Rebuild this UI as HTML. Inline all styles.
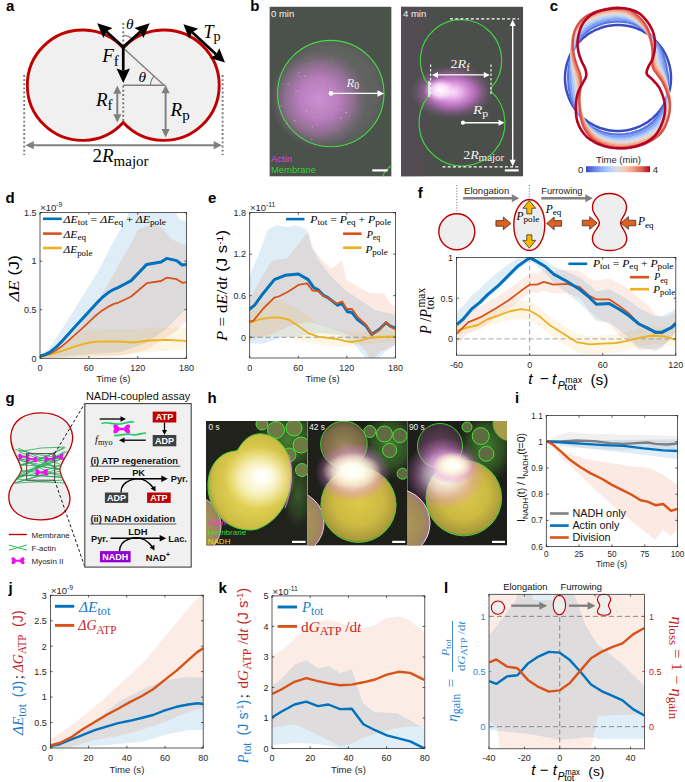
<!DOCTYPE html>
<html><head><meta charset="utf-8"><style>
html,body{margin:0;padding:0;background:#fff;}
svg{display:block;}
text{font-family:"Liberation Sans", sans-serif;}
</style></head><body>
<svg width="685" height="782" viewBox="0 0 685 782">
<rect width="685" height="782" fill="#fff"/>
<text x="6.00" y="10.70" font-size="15" fill="#000" text-anchor="start" font-weight="bold" font-family='"Liberation Sans", sans-serif' font-style="normal" >a</text>
<path d="M123.25,47.96 A55.2,55.2 0 1 0 123.25,122.44 A55.2,55.2 0 1 0 123.25,47.96 Z" fill="#f0f0f0" stroke="#c00000" stroke-width="2.9"/>
<line x1="123.25" y1="23.00" x2="123.25" y2="45.96" stroke="#777" stroke-width="1.9" stroke-dasharray="1.9,2.25"/>
<line x1="123.25" y1="85.70" x2="123.25" y2="122.44" stroke="#777" stroke-width="1.9" stroke-dasharray="1.9,2.25"/>
<line x1="222.60" y1="75.00" x2="222.60" y2="155.00" stroke="#777" stroke-width="1.9" stroke-dasharray="1.9,2.25"/>
<line x1="24.20" y1="75.00" x2="24.20" y2="155.00" stroke="#777" stroke-width="1.9" stroke-dasharray="1.9,2.25"/>
<line x1="123.25" y1="47.96" x2="164.00" y2="85.20" stroke="#808080" stroke-width="1.5" />
<line x1="123.25" y1="85.20" x2="165.50" y2="85.20" stroke="#808080" stroke-width="1.5" />
<path d="M150.5,85.2 A13.5,13.5 0 0 1 154.03,76.09" fill="none" stroke="#808080" stroke-width="1.2"/>
<path d="M123.25,35.36 A12.6,12.6 0 0 1 132.47,39.37" fill="none" stroke="#808080" stroke-width="1.2"/>
<line x1="117.30" y1="92.97" x2="117.30" y2="115.03" stroke="#808080" stroke-width="2.0" stroke-linecap="butt"/>
<polygon points="117.30,122.50 113.20,114.20 117.30,114.20 121.40,114.20" fill="#808080"/>
<polygon points="117.30,85.50 121.40,93.80 117.30,93.80 113.20,93.80" fill="#808080"/>
<line x1="165.60" y1="92.47" x2="165.60" y2="129.93" stroke="#808080" stroke-width="2.0" stroke-linecap="butt"/>
<polygon points="165.60,137.40 161.50,129.10 165.60,129.10 169.70,129.10" fill="#808080"/>
<polygon points="165.60,85.00 169.70,93.30 165.60,93.30 161.50,93.30" fill="#808080"/>
<line x1="32.97" y1="145.20" x2="214.53" y2="145.20" stroke="#808080" stroke-width="2.0" stroke-linecap="butt"/>
<polygon points="222.00,145.20 213.70,149.30 213.70,145.20 213.70,141.10" fill="#808080"/>
<polygon points="25.50,145.20 33.80,141.10 33.80,145.20 33.80,149.30" fill="#808080"/>
<line x1="123.25" y1="46.96" x2="106.32" y2="31.59" stroke="#000" stroke-width="2.7" stroke-linecap="butt"/>
<polygon points="97.20,23.30 112.47,28.05 106.32,31.59 103.39,38.05" fill="#000"/>
<line x1="123.25" y1="46.96" x2="140.51" y2="31.52" stroke="#000" stroke-width="2.7" stroke-linecap="butt"/>
<polygon points="149.70,23.30 143.39,38.00 140.51,31.52 134.39,27.94" fill="#000"/>
<line x1="123.25" y1="46.96" x2="123.25" y2="70.67" stroke="#000" stroke-width="2.7" stroke-linecap="butt"/>
<polygon points="123.25,83.00 116.50,68.50 123.25,70.67 130.00,68.50" fill="#000"/>
<line x1="192.14" y1="32.27" x2="216.26" y2="54.53" stroke="#000" stroke-width="2.7" stroke-linecap="butt"/>
<polygon points="225.00,62.60 210.13,58.06 216.26,54.53 219.29,48.14" fill="#000"/>
<polygon points="183.40,24.20 198.27,28.74 192.14,32.27 189.11,38.66" fill="#000"/>
<text x="102.20" y="61.80" fill="#000" text-anchor="start" ><tspan dy="0.00" font-size="19.00" font-style="italic" font-family='"Liberation Serif", serif'>F</tspan><tspan dy="3.80" font-size="15.01" font-style="normal" font-family='"Liberation Serif", serif'>f</tspan></text>
<text x="125.90" y="28.90" fill="#000" text-anchor="start" ><tspan dy="0.00" font-size="15.40" font-style="italic" font-family='"Liberation Serif", serif'>θ</tspan></text>
<text x="138.40" y="82.30" fill="#000" text-anchor="start" ><tspan dy="0.00" font-size="15.40" font-style="italic" font-family='"Liberation Serif", serif'>θ</tspan></text>
<text x="203.50" y="37.80" fill="#000" text-anchor="start" ><tspan dy="0.00" font-size="18.00" font-style="italic" font-family='"Liberation Serif", serif'>T</tspan><tspan dy="3.60" font-size="14.22" font-style="normal" font-family='"Liberation Serif", serif'>p</tspan></text>
<text x="96.00" y="106.10" fill="#000" text-anchor="start" ><tspan dy="0.00" font-size="19.00" font-style="italic" font-family='"Liberation Serif", serif'>R</tspan><tspan dy="3.80" font-size="15.01" font-style="normal" font-family='"Liberation Serif", serif'>f</tspan></text>
<text x="170.60" y="115.70" fill="#000" text-anchor="start" ><tspan dy="0.00" font-size="19.00" font-style="italic" font-family='"Liberation Serif", serif'>R</tspan><tspan dy="3.80" font-size="15.01" font-style="normal" font-family='"Liberation Serif", serif'>p</tspan></text>
<text x="92.50" y="161.80" fill="#000" text-anchor="start" ><tspan dy="0.00" font-size="19.00" font-style="normal" font-family='"Liberation Serif", serif'>2</tspan><tspan dy="0.00" font-size="19.00" font-style="italic" font-family='"Liberation Serif", serif'>R</tspan><tspan dy="3.80" font-size="15.01" font-style="normal" font-family='"Liberation Serif", serif'>major</tspan></text>
<text x="250.20" y="10.70" font-size="15" fill="#000" text-anchor="start" font-weight="bold" font-family='"Liberation Sans", sans-serif' font-style="normal" >b</text>
<defs>
<radialGradient id="mag1" cx="0.5" cy="0.5" r="0.5">
<stop offset="0" stop-color="#cc90d0" stop-opacity="1"/>
<stop offset="0.4" stop-color="#bf80c4" stop-opacity="0.95"/>
<stop offset="0.7" stop-color="#a474a8" stop-opacity="0.7"/>
<stop offset="1" stop-color="#7a6a7a" stop-opacity="0"/>
</radialGradient>
<radialGradient id="ring1" cx="0.5" cy="0.5" r="0.5">
<stop offset="0" stop-color="#6a666a"/>
<stop offset="0.85" stop-color="#5f625f"/>
<stop offset="1" stop-color="#575c57"/>
</radialGradient>
<radialGradient id="mag2" cx="0.5" cy="0.5" r="0.5">
<stop offset="0" stop-color="#fbe8fb" stop-opacity="1"/>
<stop offset="0.25" stop-color="#efb0f0" stop-opacity="0.95"/>
<stop offset="0.55" stop-color="#d878dc" stop-opacity="0.75"/>
<stop offset="0.8" stop-color="#a868ac" stop-opacity="0.35"/>
<stop offset="1" stop-color="#806080" stop-opacity="0"/>
</radialGradient>
<radialGradient id="wcore" cx="0.5" cy="0.5" r="0.5">
<stop offset="0" stop-color="#ffffff" stop-opacity="1"/>
<stop offset="0.5" stop-color="#fde8fd" stop-opacity="0.8"/>
<stop offset="1" stop-color="#f0b0f0" stop-opacity="0"/>
</radialGradient>
<linearGradient id="bleft" x1="0" x2="1" y1="0" y2="0">
<stop offset="0" stop-color="#5a4a5a" stop-opacity="0.8"/>
<stop offset="1" stop-color="#5a4a5a" stop-opacity="0"/>
</linearGradient>
</defs>
<clipPath id="c1"><rect x="269.4" y="6.6" width="122.20000000000005" height="170.0"/></clipPath>
<g clip-path="url(#c1)">
<rect x="269.4" y="6.6" width="122.2" height="170" fill="#4b514b"/>
<circle cx="330.8" cy="93.6" r="53.2" fill="url(#ring1)"/>
<ellipse cx="319" cy="99" rx="49" ry="49" fill="url(#mag1)"/>
<circle cx="314.4" cy="112.3" r="0.52" fill="#d8f0d8" opacity="0.5"/>
<circle cx="296.1" cy="91.1" r="0.77" fill="#d8f0d8" opacity="0.5"/>
<circle cx="324.8" cy="109.6" r="0.52" fill="#70d070" opacity="0.5"/>
<circle cx="346.1" cy="112.5" r="0.78" fill="#d8f0d8" opacity="0.5"/>
<circle cx="299.1" cy="72.4" r="0.67" fill="#d8f0d8" opacity="0.5"/>
<circle cx="287.4" cy="123.3" r="0.67" fill="#d8f0d8" opacity="0.5"/>
<circle cx="341.1" cy="118.2" r="0.67" fill="#d8f0d8" opacity="0.5"/>
<circle cx="288.2" cy="83.6" r="0.67" fill="#d8f0d8" opacity="0.5"/>
<circle cx="304.7" cy="76.4" r="0.67" fill="#d8f0d8" opacity="0.5"/>
<circle cx="299.3" cy="75.9" r="0.73" fill="#70d070" opacity="0.5"/>
<circle cx="280.7" cy="106.1" r="0.59" fill="#e8c8ea" opacity="0.5"/>
<circle cx="332.1" cy="61.6" r="0.52" fill="#a0e0a0" opacity="0.5"/>
<circle cx="312.4" cy="126.4" r="0.72" fill="#e8c8ea" opacity="0.5"/>
<circle cx="311.7" cy="139.3" r="0.65" fill="#d8f0d8" opacity="0.5"/>
<circle cx="335.1" cy="119.1" r="0.63" fill="#70d070" opacity="0.5"/>
<circle cx="333.9" cy="94.1" r="0.60" fill="#e8c8ea" opacity="0.5"/>
<circle cx="303.7" cy="122.1" r="0.52" fill="#70d070" opacity="0.5"/>
<circle cx="341.0" cy="109.7" r="0.52" fill="#d8f0d8" opacity="0.5"/>
<circle cx="311.4" cy="63.2" r="0.59" fill="#70d070" opacity="0.5"/>
<circle cx="294.9" cy="120.7" r="0.78" fill="#d8f0d8" opacity="0.5"/>
<circle cx="300.8" cy="124.1" r="0.52" fill="#70d070" opacity="0.5"/>
<circle cx="323.8" cy="81.3" r="0.62" fill="#a0e0a0" opacity="0.5"/>
<circle cx="348.9" cy="81.5" r="0.63" fill="#a0e0a0" opacity="0.5"/>
<circle cx="282.6" cy="84.4" r="0.76" fill="#70d070" opacity="0.5"/>
<circle cx="317.0" cy="124.9" r="0.70" fill="#e8c8ea" opacity="0.5"/>
<circle cx="306.6" cy="111.4" r="0.55" fill="#d8f0d8" opacity="0.5"/>
<circle cx="324.4" cy="118.1" r="0.75" fill="#70d070" opacity="0.5"/>
<circle cx="331.6" cy="118.3" r="0.63" fill="#a0e0a0" opacity="0.5"/>
<circle cx="330.8" cy="93.6" r="53.2" fill="none" stroke="#48dc48" stroke-width="1.1"/>
<circle cx="408" cy="188" r="28" fill="none" stroke="#3ed23e" stroke-width="1.1"/>
</g>
<circle cx="331.0" cy="93.4" r="2.3" fill="#fff"/>
<line x1="331.00" y1="93.40" x2="378.15" y2="93.40" stroke="#fff" stroke-width="1.4" stroke-linecap="butt"/>
<polygon points="384.00,93.40 377.50,96.65 377.50,93.40 377.50,90.15" fill="#fff"/>
<text x="346.60" y="86.60" fill="#f2f2f2" text-anchor="start" ><tspan dy="0.00" font-size="12.50" font-style="italic" font-family='"Liberation Serif", serif'>R</tspan><tspan dy="2.50" font-size="9.88" font-style="normal" font-family='"Liberation Serif", serif'>0</tspan></text>
<text x="271.00" y="17.10" font-size="9.5" fill="#f4f4f4" text-anchor="start" font-weight="normal" font-family='"Liberation Sans", sans-serif' font-style="normal" >0 min</text>
<text x="271.00" y="161.80" font-size="9.5" fill="#e040e8" text-anchor="start" font-weight="normal" font-family='"Liberation Sans", sans-serif' font-style="normal" textLength="21.00" lengthAdjust="spacingAndGlyphs" >Actin</text>
<text x="271.00" y="173.40" font-size="9.5" fill="#35d035" text-anchor="start" font-weight="normal" font-family='"Liberation Sans", sans-serif' font-style="normal" textLength="45.00" lengthAdjust="spacingAndGlyphs" >Membrane</text>
<rect x="372.2" y="169.3" width="15.5" height="2.2" fill="#fff"/>
<clipPath id="c2"><rect x="401" y="6.6" width="122.20000000000005" height="170.0"/></clipPath>
<g clip-path="url(#c2)">
<rect x="401" y="6.6" width="122.2" height="170" fill="#4b4e4b"/>
<rect x="401" y="6.6" width="34" height="170" fill="url(#bleft)"/>
<ellipse cx="452" cy="92" rx="42" ry="27" fill="url(#mag2)"/>
<ellipse cx="440" cy="90" rx="16" ry="12" fill="url(#wcore)"/>
<path d="M428.5,84.9 A40.7,40.7 0 1 1 491.2,87.7 L491.2,91.4 A43,43 0 1 1 428.5,96 Z" fill="none" stroke="#3ed23e" stroke-width="1.2"/>
<line x1="429" y1="81" x2="429" y2="97" stroke="#ffffff" stroke-width="1.6" opacity="0.9"/>
</g>
<line x1="450.00" y1="18.90" x2="519.00" y2="18.90" stroke="#fff" stroke-width="1.2" stroke-dasharray="3,2.2"/>
<line x1="442.50" y1="166.80" x2="519.00" y2="166.80" stroke="#fff" stroke-width="1.2" stroke-dasharray="3,2.2"/>
<line x1="512.70" y1="25.35" x2="512.70" y2="160.45" stroke="#fff" stroke-width="1.4" stroke-linecap="butt"/>
<polygon points="512.70,166.30 509.70,159.80 512.70,159.80 515.70,159.80" fill="#fff"/>
<polygon points="512.70,19.50 515.70,26.00 512.70,26.00 509.70,26.00" fill="#fff"/>
<line x1="430.60" y1="64.40" x2="430.60" y2="96.00" stroke="#fff" stroke-width="1.1" stroke-dasharray="2.5,2"/>
<line x1="491.00" y1="64.40" x2="491.00" y2="96.00" stroke="#fff" stroke-width="1.1" stroke-dasharray="2.5,2"/>
<line x1="437.40" y1="74.90" x2="484.40" y2="74.90" stroke="#fff" stroke-width="1.4" stroke-linecap="butt"/>
<polygon points="489.80,74.90 483.80,77.90 483.80,74.90 483.80,71.90" fill="#fff"/>
<polygon points="432.00,74.90 438.00,71.90 438.00,74.90 438.00,77.90" fill="#fff"/>
<circle cx="463" cy="122.7" r="2.1" fill="#fff"/>
<line x1="463.00" y1="122.70" x2="499.10" y2="122.70" stroke="#fff" stroke-width="1.4" stroke-linecap="butt"/>
<polygon points="504.50,122.70 498.50,125.70 498.50,122.70 498.50,119.70" fill="#fff"/>
<text x="450.50" y="68.30" fill="#f2f2f2" text-anchor="start" textLength="19.40" lengthAdjust="spacingAndGlyphs" ><tspan dy="0.00" font-size="13.50" font-style="normal" font-family='"Liberation Serif", serif'>2</tspan><tspan dy="0.00" font-size="13.50" font-style="italic" font-family='"Liberation Serif", serif'>R</tspan><tspan dy="2.70" font-size="10.67" font-style="normal" font-family='"Liberation Serif", serif'>f</tspan></text>
<text x="472.90" y="114.20" fill="#f2f2f2" text-anchor="start" textLength="15.30" lengthAdjust="spacingAndGlyphs" ><tspan dy="0.00" font-size="13.50" font-style="italic" font-family='"Liberation Serif", serif'>R</tspan><tspan dy="2.70" font-size="10.67" font-style="normal" font-family='"Liberation Serif", serif'>p</tspan></text>
<text x="463.20" y="158.60" fill="#f2f2f2" text-anchor="start" textLength="41.00" lengthAdjust="spacingAndGlyphs" ><tspan dy="0.00" font-size="13.50" font-style="normal" font-family='"Liberation Serif", serif'>2</tspan><tspan dy="0.00" font-size="13.50" font-style="italic" font-family='"Liberation Serif", serif'>R</tspan><tspan dy="2.70" font-size="10.67" font-style="normal" font-family='"Liberation Serif", serif'>major</tspan></text>
<text x="403.00" y="17.10" font-size="9.5" fill="#f4f4f4" text-anchor="start" font-weight="normal" font-family='"Liberation Sans", sans-serif' font-style="normal" >4 min</text>
<rect x="504.8" y="169.3" width="13.9" height="2.2" fill="#fff"/>
<text x="549.80" y="10.70" font-size="15" fill="#000" text-anchor="start" font-weight="bold" font-family='"Liberation Sans", sans-serif' font-style="normal" >c</text>
<path d="M671.00,78.00 C671.00,78.77 670.98,79.54 670.95,80.31 C670.92,81.08 670.87,81.85 670.80,82.62 C670.73,83.39 670.65,84.15 670.55,84.92 C670.45,85.68 670.33,86.44 670.19,87.20 C670.06,87.96 669.91,88.72 669.74,89.47 C669.58,90.22 669.39,90.97 669.19,91.72 C668.99,92.46 668.78,93.20 668.55,93.94 C668.32,94.67 668.07,95.40 667.80,96.13 C667.54,96.85 667.26,97.57 666.97,98.28 C666.67,98.99 666.36,99.70 666.03,100.40 C665.71,101.10 665.37,101.79 665.01,102.47 C664.66,103.16 664.28,103.83 663.90,104.50 C663.51,105.17 663.11,105.83 662.70,106.48 C662.29,107.13 661.86,107.77 661.42,108.40 C660.97,109.03 660.52,109.65 660.05,110.26 C659.58,110.88 659.10,111.48 658.60,112.07 C658.11,112.66 657.60,113.24 657.08,113.81 C656.56,114.37 656.02,114.93 655.48,115.48 C654.93,116.02 654.37,116.56 653.81,117.08 C653.24,117.60 652.66,118.11 652.07,118.60 C651.48,119.10 650.88,119.58 650.26,120.05 C649.65,120.52 649.03,120.97 648.40,121.42 C647.77,121.86 647.13,122.29 646.48,122.70 C645.83,123.11 645.17,123.51 644.50,123.90 C643.83,124.28 643.16,124.66 642.47,125.01 C641.79,125.37 641.10,125.71 640.40,126.03 C639.70,126.36 638.99,126.67 638.28,126.97 C637.57,127.26 636.85,127.54 636.13,127.80 C635.40,128.07 634.67,128.32 633.94,128.55 C633.20,128.78 632.46,128.99 631.72,129.19 C630.97,129.39 630.22,129.58 629.47,129.74 C628.72,129.91 627.96,130.06 627.20,130.19 C626.44,130.33 625.68,130.45 624.92,130.55 C624.15,130.65 623.39,130.73 622.62,130.80 C621.85,130.87 621.08,130.92 620.31,130.95 C619.54,130.98 618.77,131.00 618.00,131.00 C617.23,131.00 616.46,130.98 615.69,130.95 C614.92,130.92 614.15,130.87 613.38,130.80 C612.61,130.73 611.85,130.65 611.08,130.55 C610.32,130.45 609.56,130.33 608.80,130.19 C608.04,130.06 607.28,129.91 606.53,129.74 C605.78,129.58 605.03,129.39 604.28,129.19 C603.54,128.99 602.80,128.78 602.06,128.55 C601.33,128.32 600.60,128.07 599.87,127.80 C599.15,127.54 598.43,127.26 597.72,126.97 C597.01,126.67 596.30,126.36 595.60,126.03 C594.90,125.71 594.21,125.37 593.53,125.01 C592.84,124.66 592.17,124.28 591.50,123.90 C590.83,123.51 590.17,123.11 589.52,122.70 C588.87,122.29 588.23,121.86 587.60,121.42 C586.97,120.97 586.35,120.52 585.74,120.05 C585.12,119.58 584.52,119.10 583.93,118.60 C583.34,118.11 582.76,117.60 582.19,117.08 C581.63,116.56 581.07,116.02 580.52,115.48 C579.98,114.93 579.44,114.37 578.92,113.81 C578.40,113.24 577.89,112.66 577.40,112.07 C576.90,111.48 576.42,110.88 575.95,110.26 C575.48,109.65 575.03,109.03 574.58,108.40 C574.14,107.77 573.71,107.13 573.30,106.48 C572.89,105.83 572.49,105.17 572.10,104.50 C571.72,103.83 571.34,103.16 570.99,102.47 C570.63,101.79 570.29,101.10 569.97,100.40 C569.64,99.70 569.33,98.99 569.03,98.28 C568.74,97.57 568.46,96.85 568.20,96.13 C567.93,95.40 567.68,94.67 567.45,93.94 C567.22,93.20 567.01,92.46 566.81,91.72 C566.61,90.97 566.42,90.22 566.26,89.47 C566.09,88.72 565.94,87.96 565.81,87.20 C565.67,86.44 565.55,85.68 565.45,84.92 C565.35,84.15 565.27,83.39 565.20,82.62 C565.13,81.85 565.08,81.08 565.05,80.31 C565.02,79.54 565.00,78.77 565.00,78.00 C565.00,77.23 565.02,76.46 565.05,75.69 C565.08,74.92 565.13,74.15 565.20,73.38 C565.27,72.61 565.35,71.85 565.45,71.08 C565.55,70.32 565.67,69.56 565.81,68.80 C565.94,68.04 566.09,67.28 566.26,66.53 C566.42,65.78 566.61,65.03 566.81,64.28 C567.01,63.54 567.22,62.80 567.45,62.06 C567.68,61.33 567.93,60.60 568.20,59.87 C568.46,59.15 568.74,58.43 569.03,57.72 C569.33,57.01 569.64,56.30 569.97,55.60 C570.29,54.90 570.63,54.21 570.99,53.53 C571.34,52.84 571.72,52.17 572.10,51.50 C572.49,50.83 572.89,50.17 573.30,49.52 C573.71,48.87 574.14,48.23 574.58,47.60 C575.03,46.97 575.48,46.35 575.95,45.74 C576.42,45.12 576.90,44.52 577.40,43.93 C577.89,43.34 578.40,42.76 578.92,42.19 C579.44,41.63 579.98,41.07 580.52,40.52 C581.07,39.98 581.63,39.44 582.19,38.92 C582.76,38.40 583.34,37.89 583.93,37.40 C584.52,36.90 585.12,36.42 585.74,35.95 C586.35,35.48 586.97,35.03 587.60,34.58 C588.23,34.14 588.87,33.71 589.52,33.30 C590.17,32.89 590.83,32.49 591.50,32.10 C592.17,31.72 592.84,31.34 593.53,30.99 C594.21,30.63 594.90,30.29 595.60,29.97 C596.30,29.64 597.01,29.33 597.72,29.03 C598.43,28.74 599.15,28.46 599.87,28.20 C600.60,27.93 601.33,27.68 602.06,27.45 C602.80,27.22 603.54,27.01 604.28,26.81 C605.03,26.61 605.78,26.42 606.53,26.26 C607.28,26.09 608.04,25.94 608.80,25.81 C609.56,25.67 610.32,25.55 611.08,25.45 C611.85,25.35 612.61,25.27 613.38,25.20 C614.15,25.13 614.92,25.08 615.69,25.05 C616.46,25.02 617.23,25.00 618.00,25.00 C618.77,25.00 619.54,25.02 620.31,25.05 C621.08,25.08 621.85,25.13 622.62,25.20 C623.39,25.27 624.15,25.35 624.92,25.45 C625.68,25.55 626.44,25.67 627.20,25.81 C627.96,25.94 628.72,26.09 629.47,26.26 C630.22,26.42 630.97,26.61 631.72,26.81 C632.46,27.01 633.20,27.22 633.94,27.45 C634.67,27.68 635.40,27.93 636.13,28.20 C636.85,28.46 637.57,28.74 638.28,29.03 C638.99,29.33 639.70,29.64 640.40,29.97 C641.10,30.29 641.79,30.63 642.47,30.99 C643.16,31.34 643.83,31.72 644.50,32.10 C645.17,32.49 645.83,32.89 646.48,33.30 C647.13,33.71 647.77,34.14 648.40,34.58 C649.03,35.03 649.65,35.48 650.26,35.95 C650.88,36.42 651.48,36.90 652.07,37.40 C652.66,37.89 653.24,38.40 653.81,38.92 C654.37,39.44 654.93,39.98 655.48,40.52 C656.02,41.07 656.56,41.63 657.08,42.19 C657.60,42.76 658.11,43.34 658.60,43.93 C659.10,44.52 659.58,45.12 660.05,45.74 C660.52,46.35 660.97,46.97 661.42,47.60 C661.86,48.23 662.29,48.87 662.70,49.52 C663.11,50.17 663.51,50.83 663.90,51.50 C664.28,52.17 664.66,52.84 665.01,53.53 C665.37,54.21 665.71,54.90 666.03,55.60 C666.36,56.30 666.67,57.01 666.97,57.72 C667.26,58.43 667.54,59.15 667.80,59.87 C668.07,60.60 668.32,61.33 668.55,62.06 C668.78,62.80 668.99,63.54 669.19,64.28 C669.39,65.03 669.58,65.78 669.74,66.53 C669.91,67.28 670.06,68.04 670.19,68.80 C670.33,69.56 670.45,70.32 670.55,71.08 C670.65,71.85 670.73,72.61 670.80,73.38 C670.87,74.15 670.92,74.92 670.95,75.69 C670.98,76.46 671.00,77.23 671.00,78.00Z" fill="none" stroke="#3b4cc0" stroke-width="2.5"/>
<path d="M667.95,77.59 C668.02,78.32 668.08,79.05 668.12,79.78 C668.17,80.51 668.20,81.24 668.22,81.98 C668.24,82.72 668.26,83.46 668.25,84.21 C668.25,84.95 668.24,85.70 668.22,86.44 C668.19,87.19 668.14,87.94 668.08,88.69 C668.02,89.44 667.93,90.19 667.83,90.94 C667.74,91.69 667.62,92.44 667.49,93.19 C667.37,93.95 667.23,94.70 667.07,95.45 C666.92,96.20 666.75,96.95 666.57,97.71 C666.39,98.46 666.19,99.21 665.98,99.96 C665.77,100.71 665.55,101.47 665.30,102.21 C665.06,102.96 664.80,103.71 664.51,104.44 C664.23,105.18 663.92,105.91 663.60,106.64 C663.28,107.36 662.93,108.09 662.57,108.80 C662.21,109.51 661.82,110.21 661.42,110.91 C661.02,111.60 660.60,112.29 660.16,112.96 C659.72,113.64 659.26,114.30 658.78,114.96 C658.31,115.61 657.81,116.26 657.31,116.90 C656.80,117.53 656.28,118.16 655.74,118.78 C655.20,119.39 654.65,120.00 654.08,120.59 C653.51,121.18 652.93,121.76 652.33,122.32 C651.72,122.88 651.10,123.43 650.47,123.96 C649.83,124.48 649.18,124.99 648.51,125.47 C647.83,125.96 647.14,126.42 646.44,126.86 C645.74,127.30 645.03,127.72 644.30,128.12 C643.58,128.52 642.84,128.90 642.10,129.27 C641.35,129.63 640.60,129.98 639.84,130.31 C639.07,130.63 638.30,130.95 637.53,131.24 C636.75,131.53 635.97,131.81 635.18,132.06 C634.39,132.32 633.59,132.55 632.79,132.77 C631.98,132.98 631.17,133.18 630.36,133.35 C629.55,133.53 628.73,133.69 627.92,133.82 C627.10,133.96 626.27,134.08 625.45,134.18 C624.63,134.28 623.80,134.37 622.97,134.43 C622.15,134.50 621.32,134.54 620.49,134.57 C619.66,134.60 618.83,134.61 618.00,134.61 C617.17,134.60 616.34,134.57 615.51,134.53 C614.69,134.48 613.86,134.42 613.04,134.33 C612.21,134.25 611.39,134.15 610.57,134.02 C609.75,133.89 608.94,133.75 608.13,133.58 C607.32,133.42 606.51,133.23 605.71,133.02 C604.91,132.82 604.11,132.59 603.33,132.35 C602.54,132.11 601.76,131.85 600.98,131.57 C600.21,131.29 599.44,130.99 598.68,130.67 C597.92,130.36 597.17,130.02 596.43,129.66 C595.69,129.30 594.96,128.93 594.25,128.53 C593.53,128.13 592.83,127.71 592.14,127.27 C591.45,126.83 590.77,126.37 590.11,125.89 C589.45,125.41 588.81,124.92 588.17,124.41 C587.54,123.90 586.93,123.37 586.32,122.83 C585.72,122.29 585.13,121.74 584.56,121.17 C583.99,120.60 583.44,120.01 582.90,119.41 C582.37,118.81 581.86,118.20 581.36,117.57 C580.87,116.95 580.39,116.31 579.93,115.66 C579.46,115.02 579.02,114.36 578.59,113.71 C578.15,113.05 577.74,112.38 577.33,111.72 C576.92,111.05 576.53,110.37 576.16,109.70 C575.78,109.02 575.42,108.34 575.07,107.65 C574.72,106.97 574.38,106.28 574.06,105.58 C573.73,104.89 573.43,104.19 573.13,103.49 C572.83,102.80 572.55,102.09 572.28,101.39 C572.02,100.68 571.76,99.97 571.52,99.26 C571.29,98.55 571.07,97.83 570.86,97.11 C570.66,96.40 570.47,95.67 570.30,94.95 C570.12,94.23 569.96,93.50 569.81,92.78 C569.66,92.06 569.52,91.34 569.39,90.61 C569.27,89.89 569.14,89.17 569.04,88.44 C568.93,87.72 568.85,86.99 568.77,86.27 C568.69,85.55 568.62,84.82 568.56,84.10 C568.50,83.37 568.46,82.65 568.41,81.93 C568.37,81.20 568.34,80.48 568.32,79.76 C568.29,79.04 568.28,78.31 568.27,77.59 C568.27,76.87 568.28,76.14 568.30,75.42 C568.31,74.70 568.34,73.97 568.38,73.25 C568.42,72.52 568.47,71.80 568.53,71.08 C568.59,70.35 568.67,69.63 568.75,68.90 C568.83,68.18 568.92,67.46 569.02,66.73 C569.11,66.00 569.22,65.28 569.34,64.55 C569.45,63.82 569.58,63.09 569.73,62.37 C569.87,61.64 570.04,60.92 570.21,60.19 C570.38,59.47 570.57,58.75 570.76,58.02 C570.96,57.30 571.17,56.58 571.39,55.85 C571.61,55.13 571.85,54.41 572.11,53.70 C572.36,52.98 572.63,52.27 572.92,51.56 C573.20,50.85 573.50,50.14 573.81,49.44 C574.12,48.73 574.44,48.03 574.79,47.33 C575.13,46.63 575.48,45.94 575.86,45.26 C576.24,44.57 576.64,43.90 577.06,43.24 C577.47,42.57 577.91,41.91 578.35,41.26 C578.80,40.60 579.25,39.96 579.73,39.32 C580.20,38.68 580.69,38.05 581.20,37.43 C581.71,36.81 582.23,36.20 582.77,35.61 C583.32,35.02 583.88,34.44 584.46,33.88 C585.04,33.32 585.64,32.78 586.26,32.25 C586.87,31.73 587.50,31.22 588.15,30.73 C588.79,30.24 589.46,29.77 590.13,29.32 C590.81,28.87 591.50,28.43 592.20,28.02 C592.90,27.61 593.61,27.22 594.34,26.85 C595.06,26.48 595.80,26.13 596.55,25.80 C597.30,25.47 598.05,25.17 598.82,24.89 C599.58,24.60 600.36,24.34 601.13,24.09 C601.91,23.84 602.69,23.62 603.48,23.40 C604.27,23.19 605.06,23.00 605.86,22.82 C606.65,22.64 607.45,22.48 608.26,22.33 C609.06,22.18 609.87,22.05 610.67,21.94 C611.48,21.83 612.29,21.73 613.11,21.65 C613.92,21.57 614.73,21.51 615.55,21.47 C616.37,21.43 617.18,21.41 618.00,21.41 C618.82,21.41 619.63,21.43 620.45,21.47 C621.27,21.51 622.08,21.57 622.89,21.65 C623.71,21.73 624.52,21.84 625.32,21.96 C626.13,22.08 626.94,22.22 627.73,22.38 C628.53,22.55 629.33,22.73 630.12,22.94 C630.90,23.15 631.68,23.38 632.45,23.64 C633.23,23.90 633.99,24.19 634.74,24.49 C635.49,24.80 636.24,25.13 636.97,25.48 C637.70,25.83 638.42,26.20 639.13,26.58 C639.84,26.97 640.53,27.38 641.22,27.79 C641.91,28.21 642.58,28.64 643.25,29.09 C643.91,29.53 644.57,29.99 645.21,30.47 C645.85,30.94 646.48,31.42 647.09,31.93 C647.70,32.43 648.31,32.94 648.89,33.48 C649.47,34.01 650.04,34.56 650.59,35.12 C651.14,35.68 651.67,36.26 652.19,36.85 C652.70,37.43 653.20,38.04 653.69,38.64 C654.18,39.24 654.65,39.86 655.11,40.47 C655.58,41.09 656.03,41.72 656.46,42.35 C656.90,42.98 657.32,43.61 657.72,44.26 C658.13,44.90 658.53,45.55 658.91,46.20 C659.29,46.85 659.65,47.51 660.01,48.17 C660.36,48.84 660.70,49.50 661.03,50.18 C661.36,50.85 661.68,51.52 661.97,52.20 C662.27,52.88 662.55,53.57 662.81,54.26 C663.07,54.95 663.32,55.65 663.55,56.35 C663.78,57.05 664.00,57.75 664.22,58.45 C664.43,59.14 664.63,59.84 664.83,60.54 C665.03,61.24 665.22,61.94 665.40,62.64 C665.58,63.34 665.75,64.05 665.91,64.75 C666.06,65.46 666.21,66.16 666.34,66.87 C666.48,67.58 666.61,68.29 666.73,69.00 C666.85,69.71 666.96,70.42 667.07,71.13 C667.18,71.84 667.28,72.55 667.38,73.27 C667.48,73.98 667.58,74.70 667.68,75.42 C667.78,76.14 667.88,76.86 667.95,77.59Z" fill="none" stroke="#5a77e2" stroke-width="2.5"/>
<path d="M666.36,77.32 C666.49,78.03 666.60,78.73 666.71,79.45 C666.82,80.16 666.94,80.89 667.03,81.61 C667.13,82.34 667.23,83.07 667.30,83.81 C667.37,84.55 667.42,85.30 667.46,86.04 C667.50,86.79 667.51,87.54 667.51,88.30 C667.51,89.05 667.49,89.81 667.47,90.58 C667.44,91.34 667.41,92.11 667.36,92.89 C667.31,93.66 667.25,94.44 667.17,95.22 C667.10,96.00 667.01,96.79 666.91,97.58 C666.81,98.37 666.70,99.17 666.56,99.97 C666.42,100.76 666.26,101.56 666.08,102.35 C665.89,103.14 665.68,103.93 665.45,104.72 C665.22,105.50 664.96,106.29 664.68,107.06 C664.41,107.84 664.10,108.61 663.78,109.37 C663.45,110.14 663.10,110.89 662.72,111.64 C662.35,112.39 661.95,113.13 661.54,113.86 C661.13,114.59 660.69,115.31 660.24,116.03 C659.79,116.75 659.32,117.46 658.83,118.16 C658.34,118.85 657.84,119.55 657.31,120.22 C656.78,120.90 656.24,121.57 655.67,122.21 C655.10,122.86 654.51,123.49 653.89,124.10 C653.28,124.70 652.64,125.29 651.97,125.84 C651.31,126.40 650.62,126.93 649.92,127.43 C649.22,127.94 648.50,128.42 647.77,128.89 C647.04,129.35 646.29,129.79 645.53,130.21 C644.78,130.63 644.00,131.04 643.23,131.42 C642.45,131.81 641.66,132.17 640.86,132.52 C640.07,132.87 639.26,133.20 638.45,133.50 C637.63,133.81 636.81,134.09 635.98,134.35 C635.15,134.61 634.31,134.85 633.47,135.07 C632.63,135.29 631.78,135.48 630.93,135.66 C630.08,135.84 629.23,136.00 628.37,136.14 C627.51,136.28 626.65,136.40 625.79,136.50 C624.93,136.60 624.06,136.68 623.20,136.75 C622.33,136.81 621.47,136.86 620.60,136.88 C619.73,136.91 618.87,136.91 618.00,136.90 C617.13,136.88 616.27,136.85 615.40,136.79 C614.54,136.73 613.68,136.65 612.82,136.54 C611.96,136.44 611.10,136.31 610.25,136.16 C609.40,136.01 608.56,135.83 607.72,135.64 C606.88,135.45 606.04,135.23 605.21,135.00 C604.39,134.76 603.56,134.51 602.75,134.23 C601.94,133.96 601.13,133.66 600.34,133.34 C599.54,133.02 598.75,132.69 597.98,132.32 C597.21,131.95 596.45,131.57 595.70,131.15 C594.96,130.73 594.23,130.29 593.52,129.83 C592.81,129.36 592.11,128.87 591.43,128.36 C590.75,127.86 590.09,127.32 589.45,126.78 C588.80,126.23 588.18,125.67 587.57,125.09 C586.96,124.51 586.37,123.92 585.80,123.31 C585.23,122.70 584.68,122.08 584.15,121.43 C583.63,120.79 583.13,120.12 582.66,119.44 C582.18,118.77 581.72,118.08 581.28,117.39 C580.84,116.70 580.42,116.00 580.02,115.31 C579.61,114.61 579.22,113.91 578.84,113.21 C578.46,112.50 578.10,111.80 577.75,111.10 C577.40,110.39 577.07,109.69 576.75,108.98 C576.42,108.27 576.12,107.56 575.82,106.86 C575.53,106.15 575.24,105.44 574.98,104.73 C574.71,104.02 574.45,103.32 574.21,102.61 C573.96,101.90 573.73,101.19 573.52,100.48 C573.31,99.77 573.12,99.05 572.94,98.33 C572.77,97.62 572.61,96.90 572.46,96.19 C572.31,95.47 572.18,94.76 572.05,94.05 C571.92,93.34 571.80,92.63 571.68,91.93 C571.56,91.22 571.45,90.52 571.36,89.82 C571.26,89.12 571.18,88.42 571.11,87.72 C571.03,87.02 570.97,86.32 570.90,85.63 C570.84,84.93 570.78,84.24 570.73,83.55 C570.67,82.85 570.62,82.16 570.57,81.47 C570.52,80.78 570.48,80.09 570.44,79.40 C570.40,78.71 570.37,78.02 570.35,77.32 C570.32,76.63 570.31,75.94 570.30,75.24 C570.29,74.54 570.28,73.85 570.29,73.15 C570.29,72.45 570.31,71.75 570.32,71.05 C570.34,70.34 570.35,69.64 570.37,68.92 C570.39,68.21 570.41,67.50 570.45,66.78 C570.48,66.06 570.52,65.34 570.58,64.62 C570.64,63.89 570.71,63.17 570.79,62.44 C570.87,61.71 570.96,60.98 571.06,60.24 C571.17,59.50 571.27,58.76 571.40,58.02 C571.52,57.28 571.66,56.53 571.82,55.79 C571.98,55.04 572.15,54.30 572.34,53.55 C572.52,52.80 572.72,52.05 572.93,51.30 C573.14,50.55 573.36,49.79 573.61,49.04 C573.86,48.29 574.11,47.54 574.40,46.80 C574.69,46.05 575.01,45.32 575.35,44.59 C575.68,43.86 576.03,43.13 576.39,42.41 C576.76,41.68 577.14,40.96 577.54,40.24 C577.93,39.53 578.35,38.81 578.79,38.11 C579.23,37.41 579.68,36.71 580.17,36.03 C580.65,35.36 581.16,34.69 581.69,34.05 C582.23,33.41 582.79,32.80 583.37,32.19 C583.95,31.59 584.55,31.00 585.17,30.44 C585.79,29.88 586.43,29.33 587.09,28.81 C587.75,28.28 588.43,27.78 589.12,27.30 C589.81,26.82 590.53,26.37 591.25,25.94 C591.98,25.51 592.72,25.10 593.47,24.72 C594.23,24.34 595.00,24.00 595.77,23.66 C596.55,23.33 597.34,23.02 598.13,22.73 C598.92,22.44 599.72,22.17 600.53,21.91 C601.33,21.65 602.15,21.42 602.96,21.19 C603.78,20.97 604.60,20.76 605.42,20.57 C606.24,20.38 607.07,20.21 607.90,20.05 C608.73,19.89 609.57,19.75 610.40,19.63 C611.24,19.50 612.08,19.40 612.93,19.32 C613.77,19.24 614.61,19.18 615.46,19.14 C616.31,19.11 617.15,19.09 618.00,19.10 C618.85,19.11 619.69,19.14 620.54,19.19 C621.38,19.25 622.23,19.32 623.07,19.42 C623.90,19.52 624.74,19.64 625.57,19.79 C626.41,19.94 627.23,20.11 628.05,20.31 C628.87,20.52 629.68,20.75 630.48,21.01 C631.28,21.27 632.08,21.57 632.85,21.89 C633.63,22.21 634.40,22.57 635.15,22.94 C635.90,23.31 636.64,23.71 637.36,24.13 C638.09,24.54 638.80,24.98 639.50,25.42 C640.20,25.87 640.88,26.33 641.56,26.81 C642.23,27.28 642.89,27.77 643.53,28.27 C644.18,28.77 644.81,29.29 645.43,29.82 C646.04,30.35 646.64,30.90 647.22,31.46 C647.79,32.03 648.35,32.62 648.88,33.22 C649.42,33.81 649.93,34.44 650.43,35.06 C650.93,35.69 651.40,36.33 651.86,36.97 C652.33,37.61 652.78,38.25 653.21,38.89 C653.65,39.54 654.07,40.19 654.48,40.84 C654.89,41.49 655.28,42.15 655.66,42.81 C656.04,43.47 656.41,44.13 656.76,44.80 C657.11,45.46 657.45,46.13 657.78,46.80 C658.11,47.47 658.42,48.14 658.72,48.81 C659.02,49.48 659.32,50.15 659.59,50.83 C659.86,51.51 660.10,52.19 660.34,52.88 C660.57,53.57 660.78,54.26 660.98,54.95 C661.19,55.63 661.38,56.32 661.57,57.00 C661.77,57.69 661.95,58.36 662.14,59.04 C662.32,59.72 662.52,60.38 662.69,61.06 C662.87,61.73 663.03,62.40 663.19,63.07 C663.35,63.75 663.50,64.42 663.65,65.09 C663.80,65.76 663.94,66.44 664.08,67.11 C664.22,67.78 664.36,68.45 664.51,69.12 C664.65,69.79 664.79,70.47 664.95,71.14 C665.11,71.82 665.28,72.49 665.45,73.17 C665.62,73.85 665.80,74.54 665.95,75.23 C666.11,75.92 666.24,76.62 666.36,77.32Z" fill="none" stroke="#7c9ef6" stroke-width="2.5"/>
<path d="M665.27,77.09 C665.46,77.78 665.66,78.48 665.84,79.18 C666.02,79.89 666.20,80.60 666.36,81.32 C666.52,82.05 666.68,82.78 666.80,83.52 C666.93,84.26 667.03,85.00 667.12,85.75 C667.21,86.51 667.28,87.27 667.35,88.03 C667.42,88.80 667.47,89.58 667.52,90.36 C667.56,91.15 667.60,91.94 667.62,92.74 C667.65,93.54 667.66,94.35 667.66,95.17 C667.66,95.98 667.65,96.81 667.61,97.64 C667.58,98.47 667.52,99.31 667.43,100.14 C667.34,100.98 667.22,101.81 667.08,102.64 C666.94,103.48 666.77,104.31 666.57,105.14 C666.38,105.96 666.15,106.79 665.90,107.61 C665.65,108.43 665.37,109.24 665.07,110.05 C664.77,110.86 664.43,111.66 664.08,112.45 C663.73,113.25 663.36,114.04 662.96,114.82 C662.57,115.61 662.16,116.39 661.72,117.16 C661.29,117.93 660.83,118.69 660.35,119.45 C659.87,120.20 659.37,120.94 658.84,121.66 C658.31,122.39 657.76,123.10 657.17,123.78 C656.59,124.46 655.97,125.11 655.33,125.74 C654.68,126.36 654.01,126.96 653.32,127.53 C652.62,128.10 651.91,128.65 651.18,129.17 C650.45,129.69 649.69,130.19 648.93,130.67 C648.17,131.15 647.39,131.61 646.61,132.05 C645.82,132.49 645.02,132.91 644.21,133.31 C643.41,133.71 642.59,134.09 641.76,134.45 C640.93,134.81 640.09,135.14 639.24,135.45 C638.39,135.76 637.53,136.04 636.67,136.30 C635.81,136.57 634.93,136.81 634.06,137.03 C633.18,137.25 632.30,137.45 631.42,137.63 C630.54,137.81 629.65,137.97 628.76,138.11 C627.87,138.25 626.98,138.37 626.08,138.47 C625.19,138.57 624.29,138.66 623.39,138.72 C622.49,138.78 621.59,138.83 620.70,138.84 C619.80,138.86 618.90,138.86 618.00,138.83 C617.10,138.81 616.20,138.76 615.31,138.68 C614.42,138.60 613.53,138.50 612.64,138.37 C611.75,138.24 610.87,138.09 609.99,137.91 C609.12,137.73 608.24,137.54 607.38,137.32 C606.52,137.10 605.66,136.86 604.81,136.59 C603.96,136.33 603.12,136.04 602.29,135.73 C601.46,135.42 600.63,135.09 599.83,134.72 C599.02,134.36 598.23,133.97 597.45,133.55 C596.68,133.13 595.92,132.67 595.18,132.20 C594.44,131.72 593.71,131.21 593.01,130.68 C592.31,130.16 591.63,129.60 590.96,129.03 C590.30,128.46 589.66,127.87 589.03,127.26 C588.41,126.66 587.81,126.04 587.23,125.39 C586.65,124.75 586.09,124.10 585.56,123.42 C585.04,122.73 584.55,122.02 584.07,121.31 C583.60,120.60 583.15,119.87 582.72,119.14 C582.29,118.41 581.89,117.67 581.49,116.93 C581.10,116.20 580.73,115.46 580.37,114.73 C580.00,113.99 579.66,113.26 579.33,112.53 C578.99,111.80 578.68,111.07 578.38,110.34 C578.07,109.61 577.78,108.89 577.51,108.16 C577.23,107.44 576.97,106.72 576.72,106.00 C576.47,105.28 576.23,104.56 576.00,103.85 C575.78,103.13 575.56,102.42 575.37,101.71 C575.17,100.99 575.00,100.27 574.84,99.56 C574.69,98.84 574.55,98.13 574.42,97.41 C574.29,96.70 574.18,95.99 574.07,95.29 C573.95,94.59 573.84,93.89 573.74,93.20 C573.64,92.51 573.53,91.83 573.44,91.14 C573.35,90.46 573.28,89.78 573.20,89.10 C573.13,88.42 573.07,87.74 573.00,87.07 C572.94,86.40 572.87,85.73 572.81,85.06 C572.74,84.40 572.67,83.73 572.60,83.07 C572.53,82.41 572.46,81.75 572.40,81.08 C572.33,80.42 572.27,79.76 572.21,79.09 C572.15,78.43 572.10,77.76 572.04,77.09 C571.99,76.42 571.95,75.75 571.90,75.08 C571.86,74.41 571.82,73.73 571.78,73.05 C571.74,72.37 571.69,71.68 571.65,70.99 C571.60,70.30 571.55,69.60 571.51,68.90 C571.47,68.19 571.43,67.48 571.41,66.76 C571.39,66.05 571.38,65.33 571.38,64.60 C571.38,63.88 571.39,63.14 571.40,62.40 C571.42,61.66 571.44,60.91 571.47,60.16 C571.51,59.41 571.55,58.65 571.62,57.88 C571.69,57.12 571.78,56.36 571.87,55.58 C571.96,54.81 572.07,54.03 572.19,53.24 C572.31,52.46 572.43,51.67 572.59,50.87 C572.74,50.08 572.90,49.28 573.11,48.49 C573.31,47.70 573.55,46.93 573.80,46.14 C574.05,45.36 574.32,44.58 574.61,43.80 C574.90,43.02 575.20,42.23 575.52,41.45 C575.84,40.67 576.18,39.88 576.55,39.11 C576.92,38.34 577.30,37.57 577.73,36.82 C578.15,36.07 578.60,35.33 579.08,34.62 C579.56,33.90 580.08,33.22 580.62,32.54 C581.16,31.87 581.72,31.21 582.31,30.58 C582.89,29.94 583.51,29.33 584.14,28.74 C584.78,28.15 585.43,27.58 586.11,27.04 C586.79,26.50 587.49,25.98 588.21,25.49 C588.93,25.00 589.66,24.54 590.42,24.11 C591.17,23.68 591.95,23.28 592.73,22.90 C593.51,22.51 594.30,22.16 595.11,21.82 C595.91,21.49 596.72,21.17 597.54,20.87 C598.35,20.57 599.18,20.29 600.01,20.02 C600.83,19.76 601.67,19.51 602.51,19.27 C603.34,19.04 604.19,18.82 605.04,18.61 C605.88,18.41 606.73,18.22 607.59,18.05 C608.45,17.89 609.31,17.74 610.17,17.62 C611.03,17.49 611.90,17.39 612.77,17.31 C613.64,17.24 614.51,17.18 615.38,17.15 C616.25,17.13 617.13,17.12 618.00,17.14 C618.87,17.17 619.74,17.21 620.61,17.28 C621.48,17.36 622.35,17.45 623.21,17.58 C624.07,17.70 624.93,17.85 625.78,18.04 C626.62,18.22 627.47,18.44 628.30,18.70 C629.13,18.96 629.95,19.25 630.75,19.58 C631.56,19.90 632.35,20.27 633.12,20.65 C633.90,21.04 634.66,21.46 635.41,21.89 C636.15,22.32 636.88,22.78 637.60,23.24 C638.32,23.71 639.02,24.20 639.71,24.69 C640.39,25.19 641.07,25.70 641.72,26.22 C642.38,26.74 643.02,27.28 643.64,27.83 C644.27,28.39 644.87,28.96 645.45,29.55 C646.03,30.14 646.59,30.76 647.12,31.38 C647.65,32.01 648.16,32.67 648.65,33.32 C649.14,33.98 649.60,34.66 650.05,35.33 C650.50,36.00 650.93,36.67 651.35,37.34 C651.78,38.02 652.18,38.69 652.58,39.36 C652.97,40.03 653.34,40.71 653.70,41.39 C654.07,42.07 654.41,42.74 654.75,43.42 C655.08,44.10 655.40,44.77 655.71,45.45 C656.02,46.13 656.31,46.80 656.60,47.48 C656.88,48.15 657.16,48.82 657.41,49.50 C657.66,50.18 657.88,50.86 658.10,51.55 C658.31,52.23 658.49,52.93 658.68,53.61 C658.86,54.29 659.03,54.97 659.20,55.64 C659.38,56.32 659.55,56.98 659.72,57.64 C659.90,58.30 660.08,58.94 660.26,59.59 C660.43,60.24 660.59,60.89 660.75,61.53 C660.91,62.18 661.07,62.82 661.22,63.46 C661.38,64.11 661.53,64.75 661.69,65.39 C661.86,66.02 662.02,66.66 662.19,67.30 C662.36,67.93 662.53,68.57 662.73,69.21 C662.93,69.84 663.15,70.48 663.38,71.12 C663.60,71.76 663.86,72.41 664.09,73.06 C664.31,73.72 664.51,74.38 664.71,75.05 C664.90,75.73 665.08,76.41 665.27,77.09Z" fill="none" stroke="#9ebdfc" stroke-width="2.5"/>
<path d="M664.47,76.88 C664.73,77.56 664.99,78.25 665.23,78.95 C665.47,79.65 665.71,80.36 665.92,81.08 C666.13,81.80 666.32,82.53 666.50,83.27 C666.68,84.01 666.83,84.76 666.98,85.52 C667.12,86.28 667.26,87.05 667.39,87.84 C667.53,88.62 667.65,89.41 667.76,90.22 C667.88,91.02 667.98,91.84 668.07,92.67 C668.17,93.50 668.25,94.35 668.31,95.20 C668.37,96.05 668.43,96.91 668.44,97.78 C668.44,98.64 668.42,99.51 668.37,100.37 C668.32,101.24 668.25,102.12 668.14,102.99 C668.03,103.85 667.89,104.73 667.72,105.59 C667.55,106.46 667.35,107.32 667.12,108.18 C666.90,109.04 666.63,109.89 666.35,110.74 C666.07,111.59 665.76,112.43 665.43,113.28 C665.10,114.12 664.74,114.96 664.37,115.79 C663.99,116.63 663.60,117.46 663.17,118.28 C662.75,119.10 662.30,119.91 661.82,120.71 C661.34,121.50 660.84,122.29 660.30,123.04 C659.75,123.80 659.18,124.53 658.57,125.23 C657.96,125.93 657.30,126.59 656.63,127.23 C655.96,127.87 655.26,128.48 654.54,129.06 C653.82,129.65 653.07,130.21 652.31,130.75 C651.56,131.28 650.78,131.80 649.99,132.29 C649.20,132.79 648.40,133.26 647.59,133.72 C646.77,134.18 645.95,134.62 645.11,135.03 C644.28,135.44 643.43,135.83 642.57,136.19 C641.71,136.55 640.83,136.89 639.95,137.20 C639.07,137.51 638.18,137.80 637.29,138.06 C636.40,138.33 635.49,138.57 634.59,138.80 C633.68,139.02 632.77,139.22 631.86,139.40 C630.95,139.58 630.03,139.75 629.11,139.89 C628.19,140.03 627.27,140.15 626.34,140.26 C625.42,140.36 624.49,140.44 623.57,140.50 C622.64,140.56 621.71,140.59 620.78,140.60 C619.85,140.61 618.93,140.60 618.00,140.56 C617.07,140.51 616.15,140.45 615.23,140.35 C614.31,140.25 613.39,140.12 612.48,139.97 C611.57,139.82 610.66,139.64 609.76,139.45 C608.86,139.25 607.97,139.03 607.09,138.78 C606.20,138.54 605.32,138.27 604.46,137.97 C603.59,137.68 602.73,137.36 601.89,137.01 C601.05,136.66 600.21,136.29 599.40,135.87 C598.59,135.46 597.79,135.01 597.02,134.53 C596.24,134.05 595.49,133.54 594.76,133.00 C594.02,132.46 593.31,131.89 592.62,131.31 C591.93,130.72 591.26,130.11 590.62,129.48 C589.97,128.86 589.35,128.21 588.75,127.55 C588.15,126.89 587.57,126.21 587.03,125.50 C586.49,124.79 585.98,124.05 585.49,123.31 C585.01,122.56 584.56,121.79 584.13,121.02 C583.70,120.25 583.30,119.47 582.91,118.70 C582.53,117.92 582.16,117.15 581.81,116.38 C581.46,115.61 581.12,114.85 580.80,114.09 C580.48,113.32 580.18,112.56 579.89,111.81 C579.60,111.06 579.32,110.31 579.06,109.56 C578.80,108.82 578.55,108.08 578.31,107.34 C578.07,106.60 577.85,105.87 577.64,105.15 C577.42,104.42 577.22,103.70 577.04,102.98 C576.86,102.26 576.69,101.54 576.55,100.82 C576.40,100.10 576.28,99.38 576.17,98.66 C576.05,97.95 575.96,97.23 575.87,96.53 C575.77,95.83 575.69,95.13 575.60,94.45 C575.50,93.76 575.40,93.09 575.32,92.42 C575.24,91.74 575.17,91.07 575.11,90.41 C575.04,89.74 574.99,89.08 574.92,88.43 C574.86,87.77 574.80,87.12 574.74,86.48 C574.67,85.83 574.59,85.19 574.51,84.55 C574.44,83.91 574.35,83.28 574.27,82.64 C574.18,82.01 574.10,81.37 574.02,80.73 C573.93,80.09 573.85,79.46 573.76,78.82 C573.68,78.17 573.59,77.53 573.51,76.88 C573.43,76.24 573.36,75.59 573.27,74.93 C573.19,74.28 573.10,73.62 573.00,72.95 C572.91,72.28 572.80,71.60 572.69,70.92 C572.59,70.24 572.48,69.54 572.39,68.84 C572.30,68.14 572.22,67.43 572.15,66.72 C572.07,66.00 572.01,65.28 571.95,64.55 C571.89,63.81 571.83,63.07 571.78,62.31 C571.73,61.56 571.69,60.79 571.67,60.02 C571.65,59.25 571.66,58.48 571.67,57.69 C571.68,56.91 571.70,56.11 571.73,55.31 C571.76,54.50 571.80,53.69 571.86,52.87 C571.93,52.05 572.00,51.21 572.11,50.39 C572.22,49.56 572.36,48.74 572.53,47.91 C572.69,47.09 572.89,46.27 573.10,45.45 C573.31,44.62 573.54,43.79 573.78,42.96 C574.03,42.12 574.29,41.28 574.58,40.45 C574.87,39.62 575.18,38.79 575.53,37.97 C575.88,37.15 576.25,36.34 576.67,35.56 C577.09,34.77 577.55,34.01 578.04,33.27 C578.52,32.53 579.04,31.81 579.59,31.11 C580.13,30.41 580.71,29.72 581.30,29.06 C581.90,28.40 582.53,27.77 583.18,27.16 C583.83,26.55 584.51,25.97 585.21,25.42 C585.91,24.86 586.63,24.34 587.38,23.85 C588.12,23.35 588.89,22.90 589.67,22.47 C590.45,22.03 591.25,21.63 592.06,21.25 C592.86,20.86 593.68,20.50 594.50,20.16 C595.33,19.81 596.16,19.49 597.00,19.18 C597.83,18.87 598.68,18.58 599.53,18.30 C600.38,18.02 601.23,17.76 602.09,17.51 C602.95,17.26 603.81,17.02 604.68,16.81 C605.55,16.60 606.43,16.40 607.31,16.23 C608.18,16.06 609.07,15.91 609.96,15.79 C610.84,15.67 611.74,15.58 612.63,15.51 C613.52,15.44 614.42,15.39 615.31,15.37 C616.21,15.36 617.11,15.36 618.00,15.40 C618.89,15.44 619.79,15.50 620.68,15.60 C621.56,15.69 622.45,15.81 623.33,15.96 C624.21,16.12 625.08,16.31 625.94,16.55 C626.80,16.78 627.66,17.06 628.49,17.38 C629.33,17.69 630.15,18.05 630.96,18.43 C631.76,18.82 632.55,19.25 633.33,19.69 C634.10,20.13 634.85,20.60 635.59,21.08 C636.33,21.57 637.06,22.07 637.77,22.58 C638.47,23.09 639.17,23.62 639.84,24.16 C640.51,24.70 641.17,25.25 641.81,25.82 C642.45,26.39 643.07,26.98 643.66,27.58 C644.26,28.19 644.83,28.82 645.37,29.48 C645.91,30.13 646.43,30.81 646.92,31.49 C647.41,32.18 647.87,32.89 648.31,33.59 C648.76,34.29 649.18,35.00 649.60,35.71 C650.01,36.41 650.41,37.10 650.79,37.80 C651.18,38.50 651.54,39.20 651.89,39.90 C652.24,40.59 652.58,41.29 652.90,41.99 C653.22,42.68 653.52,43.38 653.82,44.06 C654.11,44.75 654.39,45.44 654.66,46.12 C654.93,46.81 655.19,47.48 655.43,48.16 C655.67,48.84 655.89,49.53 656.09,50.21 C656.29,50.90 656.45,51.60 656.62,52.28 C656.78,52.97 656.93,53.65 657.08,54.32 C657.23,54.99 657.38,55.65 657.53,56.30 C657.69,56.95 657.86,57.59 658.03,58.22 C658.19,58.85 658.35,59.48 658.51,60.10 C658.67,60.73 658.82,61.35 658.98,61.97 C659.14,62.59 659.29,63.20 659.46,63.81 C659.62,64.43 659.79,65.03 659.97,65.64 C660.16,66.24 660.34,66.85 660.56,67.45 C660.78,68.05 661.02,68.65 661.28,69.25 C661.55,69.86 661.86,70.46 662.14,71.07 C662.42,71.69 662.70,72.31 662.96,72.95 C663.22,73.59 663.45,74.23 663.70,74.89 C663.95,75.54 664.22,76.21 664.47,76.88Z" fill="none" stroke="#bfd3f3" stroke-width="2.5"/>
<path d="M663.74,76.69 C664.05,77.36 664.37,78.03 664.66,78.73 C664.96,79.42 665.24,80.13 665.49,80.85 C665.75,81.56 665.98,82.29 666.20,83.04 C666.43,83.78 666.64,84.53 666.84,85.30 C667.05,86.07 667.25,86.85 667.44,87.65 C667.63,88.45 667.82,89.26 668.00,90.09 C668.17,90.91 668.34,91.76 668.50,92.61 C668.65,93.47 668.81,94.35 668.92,95.22 C669.03,96.10 669.12,96.99 669.17,97.89 C669.22,98.78 669.24,99.68 669.23,100.58 C669.22,101.48 669.17,102.39 669.10,103.29 C669.02,104.19 668.91,105.10 668.77,106.00 C668.62,106.90 668.45,107.80 668.24,108.70 C668.03,109.59 667.79,110.48 667.53,111.37 C667.27,112.26 666.98,113.15 666.67,114.04 C666.36,114.92 666.03,115.81 665.67,116.69 C665.31,117.57 664.92,118.44 664.51,119.31 C664.09,120.17 663.65,121.02 663.17,121.86 C662.68,122.69 662.17,123.51 661.62,124.29 C661.06,125.07 660.46,125.82 659.83,126.54 C659.20,127.26 658.52,127.94 657.83,128.59 C657.13,129.25 656.40,129.87 655.66,130.47 C654.92,131.08 654.15,131.65 653.37,132.20 C652.59,132.76 651.78,133.29 650.97,133.80 C650.16,134.31 649.34,134.81 648.50,135.28 C647.66,135.75 646.81,136.20 645.95,136.62 C645.08,137.04 644.20,137.43 643.31,137.80 C642.42,138.17 641.52,138.50 640.61,138.82 C639.71,139.14 638.79,139.43 637.87,139.70 C636.94,139.97 636.01,140.21 635.08,140.44 C634.15,140.66 633.21,140.87 632.27,141.05 C631.33,141.24 630.38,141.41 629.44,141.55 C628.49,141.69 627.54,141.82 626.59,141.92 C625.64,142.02 624.68,142.10 623.73,142.15 C622.77,142.20 621.82,142.24 620.86,142.24 C619.91,142.24 618.95,142.21 618.00,142.15 C617.05,142.10 616.10,142.00 615.15,141.89 C614.21,141.77 613.27,141.62 612.33,141.45 C611.40,141.29 610.47,141.09 609.55,140.87 C608.63,140.65 607.72,140.41 606.81,140.14 C605.91,139.87 605.01,139.58 604.13,139.25 C603.25,138.93 602.38,138.58 601.52,138.19 C600.67,137.80 599.83,137.38 599.01,136.92 C598.19,136.46 597.40,135.95 596.62,135.42 C595.85,134.89 595.10,134.32 594.37,133.73 C593.65,133.14 592.94,132.52 592.26,131.88 C591.58,131.25 590.93,130.58 590.30,129.90 C589.67,129.23 589.06,128.54 588.48,127.82 C587.91,127.10 587.36,126.35 586.86,125.58 C586.35,124.81 585.88,124.00 585.43,123.20 C584.99,122.40 584.58,121.58 584.18,120.76 C583.79,119.95 583.43,119.12 583.08,118.31 C582.73,117.50 582.40,116.69 582.08,115.89 C581.77,115.09 581.47,114.29 581.19,113.50 C580.90,112.72 580.64,111.93 580.39,111.16 C580.13,110.38 579.90,109.61 579.67,108.85 C579.45,108.09 579.24,107.34 579.04,106.59 C578.84,105.84 578.65,105.10 578.47,104.37 C578.30,103.63 578.13,102.91 577.99,102.18 C577.85,101.45 577.74,100.72 577.64,99.99 C577.54,99.27 577.46,98.54 577.39,97.83 C577.31,97.12 577.25,96.41 577.19,95.72 C577.12,95.03 577.05,94.35 576.98,93.68 C576.91,93.01 576.84,92.35 576.78,91.69 C576.73,91.03 576.69,90.38 576.64,89.73 C576.59,89.08 576.55,88.44 576.50,87.81 C576.44,87.18 576.38,86.55 576.31,85.93 C576.24,85.31 576.15,84.70 576.07,84.08 C575.98,83.47 575.89,82.86 575.79,82.25 C575.70,81.63 575.60,81.02 575.50,80.41 C575.40,79.79 575.29,79.18 575.18,78.56 C575.08,77.94 574.97,77.32 574.86,76.69 C574.75,76.06 574.64,75.43 574.52,74.79 C574.39,74.15 574.25,73.51 574.11,72.85 C573.96,72.19 573.80,71.53 573.65,70.85 C573.50,70.17 573.34,69.49 573.21,68.79 C573.07,68.10 572.95,67.39 572.83,66.68 C572.71,65.96 572.58,65.23 572.46,64.49 C572.35,63.75 572.23,62.99 572.13,62.23 C572.03,61.46 571.94,60.68 571.87,59.90 C571.80,59.11 571.75,58.32 571.71,57.51 C571.66,56.71 571.61,55.88 571.59,55.05 C571.57,54.22 571.55,53.37 571.57,52.52 C571.58,51.67 571.61,50.80 571.68,49.95 C571.76,49.09 571.88,48.25 572.01,47.39 C572.14,46.53 572.29,45.67 572.46,44.80 C572.63,43.93 572.81,43.05 573.02,42.17 C573.23,41.30 573.46,40.41 573.72,39.54 C573.99,38.66 574.27,37.78 574.61,36.93 C574.94,36.08 575.31,35.23 575.73,34.42 C576.14,33.61 576.61,32.82 577.09,32.05 C577.58,31.28 578.10,30.52 578.65,29.79 C579.20,29.07 579.78,28.36 580.39,27.68 C581.00,27.00 581.64,26.34 582.31,25.72 C582.98,25.09 583.67,24.50 584.39,23.94 C585.11,23.37 585.86,22.84 586.63,22.35 C587.39,21.85 588.19,21.40 588.99,20.96 C589.79,20.52 590.61,20.11 591.44,19.72 C592.26,19.33 593.10,18.96 593.94,18.61 C594.78,18.25 595.64,17.92 596.49,17.60 C597.35,17.28 598.21,16.97 599.08,16.68 C599.95,16.39 600.82,16.12 601.70,15.86 C602.58,15.60 603.46,15.35 604.35,15.13 C605.24,14.91 606.14,14.71 607.04,14.54 C607.94,14.37 608.85,14.22 609.76,14.11 C610.67,13.99 611.59,13.90 612.50,13.83 C613.42,13.77 614.33,13.73 615.25,13.72 C616.17,13.72 617.09,13.74 618.00,13.79 C618.91,13.84 619.83,13.92 620.74,14.04 C621.64,14.15 622.55,14.30 623.44,14.49 C624.34,14.68 625.22,14.91 626.10,15.20 C626.97,15.48 627.83,15.81 628.67,16.17 C629.51,16.54 630.34,16.95 631.15,17.39 C631.95,17.82 632.74,18.31 633.51,18.80 C634.28,19.29 635.04,19.80 635.77,20.33 C636.51,20.85 637.22,21.40 637.92,21.95 C638.62,22.50 639.31,23.07 639.97,23.65 C640.63,24.24 641.28,24.83 641.89,25.45 C642.51,26.07 643.11,26.70 643.68,27.36 C644.24,28.03 644.78,28.71 645.29,29.42 C645.80,30.12 646.27,30.86 646.73,31.60 C647.18,32.33 647.60,33.09 648.01,33.82 C648.43,34.56 648.82,35.30 649.20,36.03 C649.58,36.76 649.94,37.49 650.29,38.21 C650.63,38.94 650.96,39.66 651.27,40.38 C651.58,41.10 651.88,41.82 652.16,42.53 C652.44,43.24 652.71,43.95 652.97,44.65 C653.23,45.35 653.47,46.04 653.70,46.73 C653.93,47.42 654.16,48.10 654.35,48.79 C654.55,49.49 654.71,50.19 654.86,50.88 C655.01,51.57 655.13,52.27 655.26,52.95 C655.39,53.63 655.50,54.31 655.63,54.97 C655.75,55.62 655.88,56.26 656.03,56.89 C656.17,57.53 656.33,58.13 656.48,58.75 C656.63,59.36 656.77,59.97 656.91,60.57 C657.06,61.18 657.20,61.77 657.36,62.37 C657.51,62.96 657.67,63.54 657.85,64.13 C658.02,64.71 658.20,65.29 658.41,65.86 C658.62,66.44 658.84,67.01 659.10,67.58 C659.37,68.15 659.68,68.71 660.00,69.28 C660.31,69.86 660.68,70.44 660.99,71.03 C661.31,71.62 661.60,72.23 661.90,72.85 C662.20,73.47 662.49,74.09 662.80,74.73 C663.10,75.37 663.43,76.02 663.74,76.69Z" fill="none" stroke="#dddddd" stroke-width="2.1"/>
<path d="M662.88,76.51 C663.24,77.16 663.61,77.83 663.95,78.51 C664.28,79.20 664.61,79.90 664.92,80.61 C665.22,81.32 665.49,82.05 665.76,82.79 C666.03,83.54 666.29,84.29 666.55,85.07 C666.80,85.84 667.06,86.63 667.30,87.44 C667.55,88.24 667.79,89.07 668.02,89.91 C668.25,90.75 668.48,91.61 668.69,92.49 C668.90,93.36 669.11,94.26 669.27,95.17 C669.43,96.07 669.56,96.99 669.66,97.91 C669.76,98.82 669.82,99.75 669.85,100.69 C669.88,101.62 669.87,102.55 669.83,103.49 C669.78,104.42 669.71,105.36 669.59,106.29 C669.48,107.23 669.33,108.16 669.15,109.09 C668.97,110.02 668.75,110.95 668.51,111.88 C668.28,112.80 668.01,113.73 667.72,114.66 C667.43,115.58 667.12,116.51 666.77,117.43 C666.43,118.35 666.06,119.27 665.65,120.17 C665.25,121.07 664.81,121.97 664.33,122.84 C663.85,123.71 663.34,124.56 662.78,125.37 C662.22,126.18 661.60,126.96 660.96,127.70 C660.32,128.45 659.62,129.15 658.91,129.83 C658.20,130.50 657.46,131.15 656.70,131.77 C655.93,132.39 655.15,132.98 654.35,133.56 C653.54,134.13 652.72,134.68 651.89,135.21 C651.06,135.74 650.21,136.25 649.35,136.73 C648.49,137.22 647.62,137.68 646.73,138.12 C645.84,138.55 644.93,138.95 644.02,139.32 C643.10,139.70 642.18,140.04 641.24,140.36 C640.31,140.68 639.36,140.98 638.41,141.25 C637.47,141.52 636.51,141.77 635.55,142.00 C634.59,142.23 633.63,142.44 632.66,142.63 C631.69,142.82 630.72,142.98 629.75,143.13 C628.77,143.28 627.80,143.40 626.82,143.50 C625.84,143.60 624.86,143.68 623.88,143.73 C622.90,143.78 621.92,143.80 620.94,143.80 C619.96,143.79 618.98,143.76 618.00,143.69 C617.02,143.62 616.05,143.51 615.08,143.38 C614.11,143.25 613.15,143.09 612.19,142.91 C611.23,142.72 610.28,142.51 609.34,142.27 C608.40,142.04 607.47,141.77 606.54,141.48 C605.62,141.19 604.71,140.88 603.81,140.52 C602.91,140.17 602.02,139.80 601.15,139.38 C600.29,138.95 599.44,138.50 598.61,138.00 C597.79,137.50 596.99,136.95 596.21,136.37 C595.43,135.80 594.68,135.19 593.96,134.55 C593.23,133.92 592.53,133.25 591.86,132.57 C591.18,131.88 590.54,131.18 589.92,130.45 C589.30,129.73 588.70,128.99 588.15,128.21 C587.59,127.44 587.07,126.64 586.59,125.82 C586.10,124.99 585.66,124.14 585.25,123.28 C584.83,122.43 584.45,121.55 584.10,120.69 C583.74,119.83 583.41,118.96 583.09,118.11 C582.77,117.26 582.48,116.41 582.20,115.58 C581.92,114.74 581.65,113.92 581.41,113.10 C581.16,112.28 580.94,111.47 580.72,110.67 C580.50,109.87 580.30,109.08 580.11,108.30 C579.93,107.51 579.75,106.74 579.59,105.98 C579.42,105.22 579.27,104.47 579.13,103.72 C579.00,102.97 578.87,102.24 578.77,101.50 C578.67,100.76 578.60,100.02 578.54,99.29 C578.48,98.56 578.44,97.83 578.40,97.12 C578.37,96.41 578.34,95.70 578.31,95.02 C578.27,94.33 578.22,93.66 578.18,93.00 C578.15,92.34 578.10,91.69 578.07,91.04 C578.04,90.39 578.03,89.75 578.00,89.12 C577.97,88.49 577.95,87.86 577.91,87.25 C577.87,86.63 577.82,86.03 577.75,85.43 C577.69,84.83 577.60,84.24 577.52,83.64 C577.43,83.05 577.34,82.46 577.24,81.87 C577.14,81.28 577.03,80.69 576.92,80.10 C576.80,79.51 576.69,78.91 576.56,78.32 C576.44,77.72 576.32,77.12 576.19,76.51 C576.05,75.90 575.92,75.29 575.77,74.66 C575.61,74.04 575.43,73.41 575.25,72.77 C575.07,72.12 574.86,71.47 574.67,70.80 C574.49,70.14 574.29,69.46 574.11,68.77 C573.94,68.08 573.78,67.38 573.61,66.67 C573.45,65.95 573.27,65.22 573.10,64.48 C572.94,63.73 572.77,62.97 572.62,62.20 C572.47,61.43 572.34,60.64 572.22,59.84 C572.10,59.05 572.01,58.24 571.91,57.42 C571.82,56.59 571.72,55.75 571.64,54.89 C571.57,54.04 571.50,53.16 571.47,52.29 C571.44,51.41 571.43,50.52 571.46,49.64 C571.50,48.76 571.59,47.89 571.68,47.00 C571.77,46.11 571.88,45.21 572.01,44.30 C572.14,43.40 572.28,42.48 572.46,41.56 C572.63,40.64 572.83,39.71 573.06,38.80 C573.30,37.89 573.56,36.96 573.87,36.07 C574.19,35.18 574.55,34.31 574.95,33.46 C575.36,32.61 575.82,31.80 576.30,31.00 C576.78,30.19 577.29,29.41 577.84,28.65 C578.39,27.89 578.97,27.15 579.59,26.45 C580.20,25.74 580.85,25.06 581.53,24.42 C582.20,23.77 582.91,23.16 583.65,22.58 C584.38,22.01 585.15,21.46 585.93,20.96 C586.71,20.45 587.53,19.99 588.35,19.54 C589.17,19.10 590.01,18.68 590.85,18.28 C591.69,17.88 592.55,17.51 593.41,17.14 C594.27,16.78 595.14,16.44 596.02,16.11 C596.89,15.78 597.77,15.47 598.66,15.17 C599.55,14.87 600.44,14.58 601.34,14.31 C602.23,14.05 603.14,13.79 604.05,13.56 C604.96,13.34 605.87,13.13 606.79,12.96 C607.72,12.79 608.65,12.64 609.58,12.52 C610.51,12.40 611.44,12.31 612.38,12.24 C613.31,12.18 614.25,12.15 615.19,12.15 C616.13,12.15 617.07,12.19 618.00,12.25 C618.93,12.31 619.87,12.40 620.79,12.53 C621.72,12.66 622.64,12.83 623.55,13.05 C624.46,13.26 625.37,13.53 626.25,13.85 C627.13,14.16 628.01,14.52 628.86,14.93 C629.71,15.33 630.54,15.79 631.35,16.27 C632.16,16.75 632.96,17.28 633.73,17.81 C634.50,18.34 635.25,18.90 635.99,19.46 C636.72,20.03 637.43,20.61 638.13,21.21 C638.82,21.81 639.50,22.41 640.15,23.04 C640.80,23.66 641.44,24.29 642.04,24.95 C642.64,25.61 643.23,26.29 643.77,27.00 C644.32,27.71 644.83,28.45 645.31,29.21 C645.79,29.96 646.23,30.75 646.66,31.52 C647.08,32.30 647.47,33.10 647.85,33.87 C648.23,34.65 648.59,35.42 648.94,36.18 C649.29,36.95 649.62,37.70 649.93,38.46 C650.24,39.21 650.53,39.96 650.80,40.71 C651.08,41.45 651.34,42.19 651.59,42.92 C651.83,43.65 652.07,44.37 652.29,45.09 C652.51,45.80 652.72,46.51 652.91,47.21 C653.10,47.92 653.29,48.61 653.44,49.31 C653.60,50.01 653.72,50.72 653.83,51.42 C653.94,52.12 654.01,52.82 654.10,53.51 C654.19,54.19 654.27,54.86 654.37,55.51 C654.47,56.16 654.58,56.79 654.70,57.40 C654.81,58.02 654.95,58.62 655.08,59.22 C655.21,59.81 655.33,60.41 655.46,60.99 C655.59,61.58 655.72,62.15 655.86,62.73 C656.01,63.30 656.17,63.86 656.34,64.42 C656.52,64.98 656.70,65.53 656.93,66.08 C657.15,66.63 657.39,67.17 657.68,67.71 C657.97,68.25 658.33,68.78 658.68,69.33 C659.03,69.88 659.43,70.43 659.78,71.01 C660.13,71.58 660.43,72.17 660.77,72.76 C661.11,73.36 661.45,73.97 661.80,74.59 C662.15,75.22 662.53,75.85 662.88,76.51Z" fill="none" stroke="#f0c9b7" stroke-width="2.1"/>
<path d="M661.75,76.33 C662.15,76.97 662.56,77.62 662.94,78.29 C663.32,78.96 663.70,79.65 664.04,80.36 C664.39,81.06 664.70,81.78 665.01,82.52 C665.33,83.26 665.63,84.01 665.93,84.78 C666.22,85.55 666.52,86.34 666.81,87.15 C667.10,87.96 667.39,88.79 667.67,89.64 C667.95,90.49 668.22,91.36 668.48,92.25 C668.74,93.14 669.01,94.06 669.23,94.98 C669.44,95.90 669.63,96.83 669.77,97.78 C669.92,98.72 670.03,99.67 670.10,100.63 C670.18,101.58 670.22,102.55 670.22,103.51 C670.22,104.48 670.18,105.45 670.10,106.41 C670.02,107.38 669.91,108.34 669.76,109.31 C669.61,110.27 669.42,111.23 669.21,112.19 C669.00,113.15 668.75,114.11 668.49,115.07 C668.22,116.03 667.93,117.00 667.60,117.95 C667.28,118.91 666.93,119.87 666.54,120.81 C666.15,121.75 665.74,122.69 665.27,123.60 C664.81,124.51 664.31,125.42 663.76,126.27 C663.21,127.12 662.60,127.94 661.96,128.72 C661.31,129.49 660.62,130.23 659.90,130.93 C659.18,131.64 658.42,132.31 657.65,132.96 C656.88,133.60 656.07,134.22 655.26,134.81 C654.44,135.40 653.60,135.97 652.75,136.52 C651.90,137.06 651.03,137.59 650.15,138.09 C649.27,138.59 648.38,139.08 647.47,139.52 C646.56,139.97 645.63,140.38 644.69,140.77 C643.75,141.16 642.80,141.51 641.84,141.84 C640.89,142.17 639.92,142.47 638.94,142.75 C637.97,143.03 636.99,143.29 636.00,143.52 C635.02,143.75 634.03,143.97 633.04,144.16 C632.04,144.35 631.05,144.52 630.05,144.66 C629.05,144.81 628.05,144.94 627.05,145.04 C626.04,145.14 625.04,145.22 624.03,145.26 C623.03,145.31 622.02,145.34 621.01,145.33 C620.01,145.32 619.00,145.28 618.00,145.21 C617.00,145.14 616.00,145.03 615.01,144.89 C614.01,144.75 613.03,144.57 612.05,144.38 C611.07,144.18 610.09,143.95 609.13,143.70 C608.17,143.45 607.21,143.17 606.27,142.87 C605.33,142.56 604.39,142.23 603.47,141.86 C602.56,141.49 601.65,141.09 600.76,140.65 C599.88,140.21 599.01,139.73 598.17,139.21 C597.34,138.69 596.52,138.12 595.73,137.51 C594.95,136.91 594.19,136.26 593.45,135.59 C592.72,134.92 592.02,134.21 591.35,133.49 C590.67,132.76 590.03,132.01 589.41,131.25 C588.80,130.48 588.20,129.70 587.65,128.89 C587.11,128.08 586.59,127.23 586.12,126.37 C585.65,125.50 585.23,124.59 584.84,123.69 C584.44,122.79 584.09,121.87 583.76,120.96 C583.43,120.05 583.13,119.13 582.84,118.23 C582.56,117.33 582.30,116.44 582.05,115.56 C581.81,114.68 581.58,113.82 581.37,112.96 C581.16,112.11 580.97,111.26 580.79,110.43 C580.61,109.60 580.45,108.78 580.30,107.97 C580.14,107.16 580.01,106.37 579.88,105.58 C579.75,104.80 579.64,104.03 579.54,103.26 C579.44,102.50 579.34,101.75 579.28,101.00 C579.21,100.25 579.18,99.50 579.16,98.76 C579.13,98.02 579.14,97.28 579.14,96.56 C579.14,95.84 579.16,95.13 579.17,94.44 C579.17,93.75 579.16,93.08 579.16,92.42 C579.15,91.76 579.14,91.12 579.14,90.48 C579.14,89.84 579.15,89.20 579.16,88.58 C579.16,87.96 579.17,87.34 579.15,86.74 C579.14,86.14 579.11,85.55 579.07,84.96 C579.02,84.38 578.95,83.80 578.88,83.23 C578.81,82.65 578.72,82.09 578.63,81.51 C578.53,80.94 578.43,80.38 578.32,79.80 C578.21,79.23 578.09,78.66 577.96,78.08 C577.84,77.50 577.71,76.92 577.56,76.33 C577.42,75.74 577.28,75.15 577.11,74.55 C576.94,73.94 576.75,73.33 576.55,72.70 C576.35,72.08 576.11,71.44 575.90,70.79 C575.68,70.14 575.45,69.47 575.23,68.79 C575.02,68.11 574.84,67.42 574.63,66.72 C574.43,66.01 574.22,65.29 574.01,64.55 C573.81,63.80 573.60,63.04 573.41,62.27 C573.22,61.50 573.04,60.71 572.87,59.91 C572.71,59.10 572.58,58.29 572.44,57.46 C572.30,56.62 572.16,55.77 572.04,54.90 C571.92,54.03 571.80,53.14 571.73,52.24 C571.65,51.35 571.58,50.43 571.57,49.52 C571.56,48.62 571.60,47.72 571.65,46.81 C571.71,45.89 571.78,44.97 571.87,44.03 C571.97,43.10 572.07,42.15 572.21,41.20 C572.35,40.25 572.51,39.28 572.71,38.33 C572.92,37.38 573.14,36.42 573.42,35.48 C573.71,34.55 574.04,33.63 574.41,32.75 C574.79,31.86 575.23,31.00 575.69,30.16 C576.16,29.32 576.66,28.50 577.20,27.71 C577.74,26.92 578.32,26.14 578.93,25.41 C579.53,24.67 580.18,23.96 580.86,23.29 C581.54,22.61 582.25,21.97 582.99,21.37 C583.72,20.77 584.50,20.20 585.29,19.67 C586.08,19.15 586.91,18.67 587.74,18.21 C588.58,17.75 589.43,17.32 590.29,16.91 C591.15,16.50 592.03,16.12 592.91,15.75 C593.78,15.38 594.67,15.03 595.57,14.70 C596.46,14.36 597.36,14.04 598.26,13.73 C599.17,13.43 600.08,13.13 600.99,12.86 C601.91,12.58 602.83,12.32 603.76,12.08 C604.68,11.85 605.62,11.64 606.56,11.45 C607.50,11.27 608.45,11.12 609.40,11.00 C610.35,10.87 611.30,10.78 612.26,10.71 C613.21,10.65 614.17,10.62 615.13,10.62 C616.09,10.62 617.05,10.65 618.00,10.72 C618.95,10.79 619.91,10.88 620.85,11.02 C621.80,11.16 622.74,11.33 623.67,11.55 C624.60,11.78 625.52,12.05 626.42,12.38 C627.32,12.71 628.21,13.10 629.07,13.53 C629.94,13.96 630.78,14.44 631.61,14.96 C632.43,15.47 633.23,16.03 634.01,16.60 C634.78,17.17 635.54,17.77 636.27,18.37 C637.01,18.98 637.72,19.60 638.42,20.24 C639.11,20.87 639.78,21.52 640.43,22.18 C641.08,22.84 641.71,23.51 642.30,24.21 C642.90,24.91 643.47,25.63 644.01,26.37 C644.54,27.12 645.04,27.89 645.51,28.68 C645.97,29.48 646.40,30.31 646.80,31.13 C647.20,31.95 647.56,32.80 647.91,33.62 C648.26,34.44 648.59,35.25 648.91,36.05 C649.22,36.86 649.52,37.65 649.80,38.43 C650.08,39.22 650.33,40.01 650.58,40.78 C650.82,41.55 651.04,42.32 651.25,43.08 C651.46,43.84 651.66,44.58 651.84,45.32 C652.03,46.06 652.20,46.78 652.36,47.50 C652.52,48.22 652.68,48.92 652.79,49.63 C652.91,50.35 652.99,51.07 653.06,51.78 C653.13,52.49 653.17,53.20 653.22,53.89 C653.27,54.58 653.30,55.26 653.36,55.92 C653.41,56.57 653.48,57.20 653.56,57.82 C653.65,58.43 653.76,59.02 653.86,59.61 C653.96,60.20 654.05,60.78 654.16,61.35 C654.26,61.93 654.37,62.49 654.49,63.05 C654.62,63.61 654.75,64.15 654.91,64.69 C655.07,65.23 655.24,65.77 655.46,66.29 C655.67,66.82 655.90,67.34 656.19,67.87 C656.48,68.39 656.84,68.89 657.20,69.42 C657.57,69.94 658.00,70.47 658.38,71.02 C658.75,71.56 659.10,72.13 659.46,72.70 C659.82,73.28 660.18,73.87 660.56,74.47 C660.94,75.08 661.35,75.69 661.75,76.33Z" fill="none" stroke="#f4ab8f" stroke-width="2.1"/>
<path d="M660.24,76.16 C660.66,76.78 661.11,77.41 661.53,78.06 C661.95,78.72 662.37,79.39 662.77,80.08 C663.16,80.77 663.53,81.48 663.88,82.20 C664.24,82.93 664.56,83.67 664.89,84.43 C665.22,85.19 665.55,85.97 665.87,86.78 C666.20,87.58 666.52,88.40 666.84,89.25 C667.15,90.09 667.47,90.96 667.77,91.85 C668.07,92.75 668.37,93.66 668.64,94.60 C668.91,95.53 669.18,96.49 669.39,97.45 C669.59,98.41 669.76,99.38 669.89,100.36 C670.02,101.34 670.11,102.33 670.16,103.32 C670.21,104.31 670.22,105.30 670.20,106.30 C670.17,107.29 670.09,108.29 669.99,109.28 C669.88,110.27 669.73,111.27 669.55,112.26 C669.37,113.25 669.15,114.23 668.91,115.23 C668.67,116.22 668.40,117.21 668.10,118.20 C667.80,119.19 667.48,120.19 667.12,121.17 C666.75,122.15 666.36,123.13 665.93,124.09 C665.49,125.04 665.02,126.00 664.49,126.90 C663.97,127.81 663.40,128.69 662.77,129.52 C662.15,130.35 661.46,131.13 660.75,131.88 C660.04,132.63 659.28,133.33 658.51,134.01 C657.73,134.69 656.92,135.33 656.09,135.95 C655.26,136.57 654.41,137.16 653.54,137.73 C652.68,138.29 651.79,138.84 650.90,139.36 C650.00,139.88 649.09,140.38 648.17,140.85 C647.24,141.32 646.29,141.76 645.34,142.16 C644.38,142.57 643.41,142.94 642.43,143.28 C641.45,143.62 640.46,143.94 639.46,144.22 C638.46,144.51 637.46,144.77 636.45,145.01 C635.44,145.25 634.42,145.46 633.41,145.65 C632.39,145.84 631.37,146.01 630.34,146.16 C629.32,146.31 628.29,146.44 627.27,146.54 C626.24,146.64 625.21,146.72 624.18,146.78 C623.15,146.83 622.12,146.85 621.09,146.85 C620.06,146.84 619.03,146.81 618.00,146.74 C616.97,146.67 615.95,146.57 614.93,146.43 C613.92,146.29 612.90,146.11 611.90,145.90 C610.89,145.70 609.90,145.47 608.91,145.20 C607.92,144.94 606.94,144.66 605.98,144.34 C605.01,144.02 604.06,143.68 603.12,143.30 C602.18,142.92 601.25,142.52 600.34,142.07 C599.43,141.62 598.54,141.14 597.68,140.61 C596.82,140.08 595.98,139.51 595.17,138.89 C594.36,138.27 593.59,137.60 592.84,136.90 C592.09,136.21 591.38,135.48 590.69,134.72 C590.01,133.97 589.36,133.18 588.74,132.38 C588.11,131.58 587.52,130.76 586.97,129.91 C586.41,129.07 585.89,128.21 585.41,127.31 C584.94,126.42 584.52,125.47 584.13,124.53 C583.75,123.59 583.41,122.61 583.09,121.65 C582.78,120.69 582.51,119.72 582.26,118.76 C582.00,117.81 581.78,116.86 581.56,115.93 C581.35,115.00 581.15,114.09 580.98,113.19 C580.80,112.28 580.65,111.39 580.51,110.52 C580.37,109.64 580.24,108.78 580.13,107.94 C580.02,107.09 579.92,106.26 579.84,105.45 C579.75,104.63 579.67,103.83 579.61,103.04 C579.55,102.25 579.49,101.49 579.46,100.72 C579.43,99.95 579.41,99.19 579.42,98.43 C579.43,97.68 579.48,96.93 579.52,96.19 C579.56,95.46 579.63,94.73 579.69,94.03 C579.74,93.32 579.80,92.64 579.84,91.97 C579.88,91.30 579.90,90.66 579.94,90.02 C579.97,89.38 580.02,88.75 580.06,88.13 C580.10,87.51 580.15,86.89 580.18,86.30 C580.21,85.70 580.23,85.11 580.22,84.54 C580.22,83.96 580.19,83.40 580.15,82.84 C580.11,82.28 580.04,81.72 579.97,81.17 C579.90,80.62 579.81,80.07 579.72,79.51 C579.62,78.96 579.52,78.41 579.40,77.85 C579.28,77.29 579.16,76.73 579.02,76.16 C578.89,75.59 578.75,75.02 578.59,74.44 C578.43,73.86 578.25,73.27 578.05,72.67 C577.85,72.06 577.61,71.45 577.38,70.81 C577.15,70.18 576.89,69.53 576.65,68.87 C576.41,68.21 576.19,67.53 575.96,66.84 C575.73,66.15 575.51,65.44 575.28,64.72 C575.05,63.99 574.81,63.24 574.58,62.47 C574.35,61.71 574.13,60.92 573.92,60.12 C573.72,59.32 573.55,58.51 573.37,57.68 C573.19,56.84 573.03,55.99 572.87,55.12 C572.71,54.25 572.55,53.35 572.43,52.44 C572.30,51.53 572.18,50.60 572.11,49.67 C572.04,48.74 572.02,47.81 572.03,46.87 C572.03,45.94 572.09,45.01 572.15,44.06 C572.20,43.10 572.28,42.13 572.38,41.16 C572.48,40.18 572.60,39.19 572.76,38.20 C572.92,37.22 573.10,36.21 573.34,35.24 C573.57,34.26 573.84,33.28 574.18,32.34 C574.51,31.40 574.91,30.50 575.35,29.61 C575.78,28.73 576.26,27.87 576.78,27.03 C577.29,26.20 577.85,25.38 578.44,24.60 C579.03,23.82 579.66,23.07 580.32,22.35 C580.99,21.64 581.69,20.96 582.42,20.31 C583.15,19.67 583.92,19.06 584.71,18.50 C585.50,17.94 586.33,17.43 587.18,16.95 C588.02,16.47 588.89,16.03 589.76,15.61 C590.64,15.19 591.53,14.79 592.42,14.41 C593.32,14.04 594.22,13.68 595.14,13.34 C596.05,13.00 596.96,12.68 597.89,12.37 C598.81,12.06 599.74,11.77 600.67,11.49 C601.60,11.21 602.54,10.94 603.49,10.70 C604.43,10.46 605.38,10.23 606.34,10.04 C607.30,9.84 608.26,9.68 609.23,9.54 C610.20,9.41 611.17,9.30 612.14,9.23 C613.12,9.16 614.10,9.12 615.07,9.11 C616.05,9.10 617.03,9.13 618.00,9.19 C618.97,9.25 619.95,9.35 620.91,9.48 C621.88,9.61 622.84,9.77 623.79,9.99 C624.74,10.20 625.68,10.46 626.61,10.78 C627.53,11.11 628.44,11.49 629.33,11.92 C630.21,12.35 631.08,12.84 631.92,13.37 C632.76,13.89 633.58,14.48 634.37,15.08 C635.16,15.68 635.92,16.32 636.67,16.96 C637.41,17.61 638.13,18.27 638.83,18.95 C639.52,19.62 640.20,20.31 640.85,21.00 C641.50,21.70 642.13,22.41 642.72,23.14 C643.32,23.87 643.90,24.61 644.44,25.38 C644.97,26.15 645.47,26.95 645.94,27.78 C646.40,28.60 646.82,29.46 647.20,30.32 C647.59,31.18 647.93,32.08 648.26,32.95 C648.59,33.82 648.88,34.69 649.17,35.55 C649.45,36.40 649.72,37.23 649.97,38.06 C650.22,38.89 650.45,39.71 650.66,40.53 C650.86,41.34 651.05,42.14 651.23,42.94 C651.40,43.73 651.56,44.51 651.71,45.27 C651.86,46.04 651.99,46.80 652.11,47.54 C652.23,48.28 652.36,49.00 652.44,49.73 C652.53,50.46 652.60,51.18 652.64,51.91 C652.68,52.63 652.68,53.36 652.68,54.07 C652.69,54.77 652.66,55.48 652.67,56.15 C652.67,56.82 652.66,57.47 652.69,58.10 C652.72,58.73 652.79,59.32 652.85,59.91 C652.90,60.50 652.97,61.08 653.04,61.65 C653.11,62.22 653.18,62.78 653.27,63.33 C653.36,63.88 653.45,64.42 653.57,64.95 C653.69,65.48 653.83,66.00 654.01,66.51 C654.18,67.03 654.36,67.54 654.62,68.05 C654.87,68.55 655.17,69.04 655.52,69.55 C655.86,70.05 656.30,70.55 656.70,71.07 C657.10,71.59 657.51,72.12 657.90,72.67 C658.28,73.22 658.62,73.79 659.01,74.37 C659.40,74.95 659.82,75.55 660.24,76.16Z" fill="none" stroke="#eb8369" stroke-width="2.1"/>
<path d="M658.36,76.00 C658.78,76.59 659.23,77.19 659.68,77.82 C660.12,78.45 660.58,79.10 661.02,79.76 C661.45,80.43 661.89,81.12 662.29,81.83 C662.69,82.54 663.05,83.26 663.41,84.01 C663.78,84.75 664.12,85.51 664.46,86.30 C664.81,87.09 665.16,87.89 665.50,88.73 C665.84,89.56 666.18,90.41 666.51,91.29 C666.84,92.17 667.17,93.08 667.48,94.01 C667.80,94.94 668.12,95.90 668.39,96.87 C668.67,97.84 668.92,98.84 669.11,99.84 C669.31,100.83 669.46,101.84 669.58,102.85 C669.69,103.86 669.76,104.88 669.79,105.90 C669.83,106.92 669.82,107.95 669.76,108.98 C669.71,110.00 669.61,111.02 669.47,112.04 C669.34,113.06 669.15,114.07 668.94,115.09 C668.73,116.11 668.49,117.12 668.22,118.14 C667.95,119.16 667.66,120.18 667.32,121.20 C666.99,122.21 666.63,123.23 666.23,124.23 C665.83,125.23 665.39,126.23 664.91,127.19 C664.43,128.16 663.91,129.12 663.33,130.02 C662.75,130.92 662.11,131.79 661.43,132.60 C660.75,133.41 660.01,134.17 659.24,134.90 C658.48,135.63 657.67,136.31 656.84,136.97 C656.01,137.62 655.15,138.24 654.28,138.83 C653.40,139.43 652.50,139.99 651.59,140.53 C650.68,141.07 649.75,141.59 648.81,142.08 C647.87,142.57 646.92,143.04 645.95,143.48 C644.98,143.91 643.99,144.30 642.99,144.66 C641.99,145.03 640.98,145.36 639.96,145.66 C638.94,145.96 637.92,146.23 636.88,146.47 C635.85,146.72 634.81,146.93 633.77,147.13 C632.73,147.33 631.68,147.50 630.63,147.65 C629.59,147.79 628.53,147.92 627.48,148.03 C626.43,148.13 625.38,148.22 624.32,148.27 C623.27,148.33 622.21,148.36 621.16,148.36 C620.11,148.36 619.05,148.34 618.00,148.28 C616.95,148.22 615.90,148.13 614.86,148.00 C613.81,147.87 612.77,147.70 611.74,147.50 C610.72,147.30 609.69,147.05 608.68,146.79 C607.67,146.52 606.66,146.23 605.67,145.90 C604.68,145.58 603.70,145.23 602.74,144.85 C601.77,144.47 600.82,144.06 599.88,143.61 C598.95,143.17 598.03,142.69 597.14,142.17 C596.24,141.65 595.37,141.09 594.53,140.48 C593.69,139.87 592.88,139.20 592.11,138.50 C591.34,137.80 590.59,137.06 589.89,136.29 C589.18,135.52 588.51,134.71 587.87,133.88 C587.23,133.05 586.63,132.19 586.06,131.32 C585.49,130.44 584.95,129.56 584.46,128.64 C583.97,127.73 583.51,126.80 583.11,125.83 C582.71,124.86 582.37,123.84 582.06,122.83 C581.76,121.82 581.50,120.79 581.26,119.78 C581.03,118.77 580.83,117.75 580.65,116.76 C580.47,115.77 580.32,114.78 580.18,113.82 C580.04,112.86 579.91,111.92 579.81,110.99 C579.71,110.07 579.63,109.15 579.56,108.26 C579.48,107.36 579.43,106.49 579.38,105.63 C579.34,104.77 579.31,103.93 579.29,103.11 C579.27,102.28 579.26,101.47 579.26,100.68 C579.27,99.88 579.27,99.11 579.31,98.34 C579.35,97.57 579.41,96.80 579.49,96.05 C579.57,95.29 579.69,94.54 579.79,93.82 C579.90,93.09 580.03,92.38 580.13,91.69 C580.24,91.00 580.34,90.33 580.42,89.68 C580.51,89.03 580.57,88.40 580.65,87.78 C580.74,87.15 580.84,86.54 580.92,85.94 C581.00,85.34 581.08,84.75 581.14,84.17 C581.19,83.60 581.23,83.04 581.25,82.48 C581.26,81.93 581.24,81.38 581.21,80.84 C581.19,80.30 581.14,79.77 581.07,79.23 C581.01,78.69 580.93,78.16 580.84,77.62 C580.76,77.08 580.65,76.55 580.54,76.00 C580.42,75.45 580.30,74.91 580.16,74.35 C580.02,73.79 579.89,73.23 579.71,72.65 C579.54,72.07 579.33,71.49 579.11,70.88 C578.89,70.27 578.63,69.65 578.38,69.01 C578.14,68.38 577.86,67.72 577.62,67.05 C577.37,66.38 577.15,65.69 576.90,64.99 C576.66,64.28 576.41,63.56 576.17,62.81 C575.92,62.06 575.66,61.29 575.42,60.50 C575.18,59.71 574.95,58.90 574.74,58.08 C574.53,57.26 574.35,56.42 574.17,55.56 C573.98,54.70 573.79,53.81 573.63,52.90 C573.46,52.00 573.30,51.06 573.17,50.12 C573.05,49.18 572.93,48.21 572.87,47.25 C572.82,46.29 572.83,45.35 572.85,44.39 C572.87,43.42 572.92,42.45 572.99,41.46 C573.06,40.47 573.14,39.46 573.25,38.45 C573.37,37.44 573.50,36.41 573.69,35.39 C573.87,34.38 574.08,33.35 574.35,32.35 C574.62,31.36 574.94,30.37 575.32,29.42 C575.70,28.48 576.15,27.58 576.62,26.69 C577.10,25.80 577.62,24.93 578.17,24.10 C578.73,23.27 579.33,22.46 579.97,21.69 C580.61,20.92 581.29,20.18 582.00,19.49 C582.71,18.80 583.46,18.14 584.24,17.53 C585.02,16.91 585.83,16.34 586.67,15.81 C587.51,15.29 588.38,14.82 589.26,14.37 C590.14,13.92 591.05,13.52 591.96,13.13 C592.87,12.74 593.79,12.39 594.72,12.04 C595.65,11.70 596.59,11.38 597.53,11.07 C598.47,10.76 599.41,10.46 600.37,10.19 C601.32,9.91 602.27,9.65 603.24,9.40 C604.20,9.15 605.16,8.91 606.13,8.71 C607.11,8.50 608.09,8.32 609.07,8.17 C610.05,8.02 611.04,7.89 612.03,7.80 C613.02,7.71 614.02,7.66 615.02,7.63 C616.01,7.61 617.01,7.62 618.00,7.67 C618.99,7.72 619.99,7.80 620.97,7.92 C621.96,8.04 622.94,8.19 623.92,8.38 C624.89,8.58 625.86,8.80 626.81,9.09 C627.76,9.38 628.70,9.73 629.61,10.14 C630.53,10.54 631.43,11.01 632.29,11.53 C633.16,12.04 634.01,12.62 634.82,13.23 C635.63,13.84 636.42,14.51 637.18,15.18 C637.94,15.85 638.67,16.56 639.37,17.27 C640.08,17.99 640.76,18.72 641.42,19.45 C642.08,20.19 642.71,20.94 643.32,21.70 C643.93,22.46 644.51,23.23 645.06,24.02 C645.60,24.82 646.12,25.63 646.60,26.47 C647.07,27.31 647.50,28.19 647.89,29.07 C648.29,29.96 648.63,30.88 648.95,31.80 C649.26,32.72 649.53,33.67 649.78,34.58 C650.04,35.49 650.27,36.39 650.49,37.28 C650.71,38.16 650.91,39.03 651.09,39.89 C651.27,40.75 651.43,41.60 651.57,42.43 C651.71,43.27 651.83,44.09 651.94,44.90 C652.05,45.71 652.14,46.50 652.23,47.28 C652.31,48.06 652.38,48.82 652.44,49.58 C652.49,50.33 652.55,51.06 652.57,51.79 C652.59,52.53 652.58,53.27 652.55,53.99 C652.51,54.72 652.44,55.45 652.38,56.15 C652.32,56.85 652.24,57.54 652.20,58.20 C652.16,58.85 652.12,59.48 652.11,60.09 C652.11,60.70 652.14,61.27 652.17,61.85 C652.19,62.42 652.21,62.98 652.25,63.53 C652.29,64.08 652.33,64.63 652.39,65.16 C652.46,65.69 652.54,66.20 652.65,66.71 C652.77,67.23 652.90,67.73 653.08,68.22 C653.26,68.72 653.45,69.21 653.73,69.70 C654.00,70.19 654.36,70.67 654.74,71.16 C655.11,71.66 655.59,72.16 655.99,72.68 C656.40,73.20 656.78,73.74 657.18,74.29 C657.57,74.84 657.95,75.41 658.36,76.00Z" fill="none" stroke="#d64e45" stroke-width="2.1"/>
<path d="M648.46,76.00 C648.96,76.45 649.66,76.91 650.23,77.41 C650.80,77.90 651.35,78.42 651.88,78.96 C652.42,79.51 652.89,80.07 653.45,80.67 C654.00,81.27 654.64,81.90 655.24,82.57 C655.84,83.23 656.49,83.94 657.07,84.66 C657.65,85.39 658.23,86.15 658.73,86.91 C659.24,87.68 659.67,88.47 660.08,89.27 C660.49,90.07 660.84,90.88 661.20,91.72 C661.56,92.57 661.91,93.43 662.24,94.33 C662.57,95.22 662.89,96.13 663.18,97.07 C663.47,98.00 663.75,98.97 663.99,99.94 C664.23,100.92 664.45,101.92 664.62,102.91 C664.78,103.91 664.90,104.92 664.97,105.92 C665.05,106.93 665.08,107.95 665.07,108.96 C665.06,109.97 665.00,110.98 664.91,111.99 C664.81,113.00 664.68,114.02 664.50,115.02 C664.32,116.02 664.10,117.02 663.84,118.01 C663.59,119.00 663.28,119.97 662.95,120.95 C662.62,121.92 662.25,122.89 661.85,123.86 C661.46,124.82 661.04,125.79 660.59,126.75 C660.13,127.71 659.65,128.67 659.13,129.60 C658.61,130.54 658.06,131.47 657.47,132.36 C656.87,133.26 656.24,134.14 655.56,134.96 C654.88,135.78 654.15,136.56 653.38,137.28 C652.61,138.00 651.79,138.66 650.95,139.29 C650.10,139.91 649.22,140.48 648.32,141.03 C647.42,141.57 646.50,142.07 645.56,142.54 C644.63,143.02 643.67,143.45 642.70,143.87 C641.74,144.29 640.76,144.68 639.77,145.04 C638.78,145.40 637.78,145.76 636.77,146.06 C635.76,146.36 634.74,146.62 633.71,146.85 C632.68,147.08 631.64,147.28 630.60,147.44 C629.56,147.61 628.51,147.74 627.46,147.85 C626.41,147.96 625.36,148.04 624.31,148.09 C623.26,148.15 622.20,148.18 621.15,148.19 C620.10,148.20 619.05,148.19 618.00,148.16 C616.95,148.12 615.90,148.07 614.86,147.99 C613.81,147.91 612.77,147.80 611.73,147.67 C610.69,147.53 609.66,147.38 608.63,147.18 C607.60,146.99 606.58,146.77 605.57,146.51 C604.56,146.25 603.55,145.95 602.57,145.62 C601.58,145.29 600.60,144.92 599.64,144.53 C598.68,144.14 597.72,143.72 596.79,143.27 C595.86,142.82 594.93,142.35 594.03,141.85 C593.13,141.35 592.24,140.83 591.38,140.27 C590.52,139.71 589.67,139.13 588.85,138.50 C588.04,137.87 587.25,137.22 586.50,136.51 C585.75,135.80 585.04,135.04 584.37,134.26 C583.69,133.47 583.06,132.64 582.46,131.79 C581.86,130.94 581.30,130.06 580.78,129.16 C580.25,128.26 579.77,127.34 579.32,126.41 C578.88,125.47 578.46,124.53 578.09,123.56 C577.73,122.59 577.39,121.62 577.12,120.61 C576.85,119.61 576.64,118.57 576.46,117.54 C576.29,116.50 576.17,115.45 576.08,114.42 C575.98,113.38 575.92,112.35 575.88,111.34 C575.83,110.34 575.81,109.35 575.81,108.38 C575.80,107.41 575.79,106.47 575.83,105.53 C575.86,104.59 575.92,103.67 576.00,102.76 C576.08,101.85 576.19,100.95 576.32,100.07 C576.44,99.19 576.59,98.32 576.75,97.47 C576.91,96.63 577.10,95.79 577.30,94.98 C577.50,94.16 577.70,93.37 577.97,92.58 C578.23,91.79 578.53,91.01 578.87,90.24 C579.21,89.47 579.63,88.71 580.02,87.98 C580.41,87.24 580.85,86.53 581.23,85.85 C581.62,85.17 582.00,84.53 582.34,83.91 C582.67,83.29 582.95,82.70 583.27,82.12 C583.58,81.55 583.93,80.99 584.24,80.45 C584.55,79.90 584.87,79.38 585.13,78.88 C585.39,78.37 585.62,77.89 585.79,77.41 C585.96,76.93 586.07,76.47 586.15,76.00 C586.23,75.53 586.27,75.08 586.28,74.62 C586.30,74.15 586.27,73.69 586.23,73.22 C586.19,72.75 586.11,72.28 586.02,71.79 C585.93,71.30 585.81,70.81 585.68,70.30 C585.54,69.79 585.41,69.28 585.21,68.73 C585.01,68.18 584.76,67.62 584.48,67.02 C584.19,66.42 583.83,65.78 583.49,65.12 C583.15,64.46 582.76,63.76 582.43,63.05 C582.10,62.35 581.80,61.63 581.49,60.88 C581.18,60.13 580.87,59.35 580.56,58.54 C580.24,57.73 579.91,56.88 579.62,56.02 C579.33,55.16 579.04,54.27 578.81,53.38 C578.59,52.49 578.42,51.60 578.25,50.68 C578.08,49.76 577.92,48.81 577.80,47.85 C577.68,46.90 577.57,45.91 577.52,44.94 C577.48,43.97 577.48,43.00 577.54,42.05 C577.60,41.10 577.72,40.17 577.86,39.22 C578.00,38.27 578.18,37.33 578.37,36.37 C578.56,35.40 578.76,34.42 579.00,33.44 C579.24,32.46 579.50,31.47 579.81,30.49 C580.11,29.51 580.44,28.51 580.83,27.56 C581.22,26.61 581.65,25.66 582.13,24.78 C582.62,23.89 583.17,23.06 583.75,22.24 C584.33,21.42 584.95,20.63 585.60,19.88 C586.25,19.12 586.94,18.39 587.66,17.71 C588.38,17.03 589.14,16.39 589.92,15.79 C590.71,15.19 591.53,14.63 592.37,14.12 C593.21,13.61 594.08,13.15 594.97,12.73 C595.86,12.32 596.78,11.96 597.70,11.63 C598.63,11.30 599.57,11.02 600.52,10.76 C601.46,10.49 602.42,10.26 603.38,10.04 C604.34,9.82 605.30,9.63 606.26,9.44 C607.23,9.26 608.20,9.10 609.17,8.95 C610.15,8.80 611.12,8.67 612.10,8.55 C613.08,8.44 614.06,8.33 615.04,8.25 C616.03,8.17 617.01,8.11 618.00,8.09 C618.99,8.07 619.98,8.07 620.96,8.11 C621.95,8.15 622.94,8.22 623.92,8.32 C624.90,8.43 625.88,8.56 626.86,8.74 C627.83,8.91 628.79,9.12 629.75,9.36 C630.71,9.60 631.66,9.87 632.59,10.19 C633.52,10.50 634.45,10.85 635.35,11.25 C636.25,11.66 637.13,12.11 637.98,12.62 C638.83,13.13 639.66,13.70 640.45,14.31 C641.24,14.93 642.00,15.61 642.72,16.31 C643.45,17.01 644.14,17.77 644.80,18.53 C645.46,19.30 646.09,20.09 646.69,20.88 C647.30,21.68 647.87,22.49 648.42,23.31 C648.97,24.12 649.50,24.94 650.00,25.77 C650.49,26.61 650.97,27.44 651.41,28.29 C651.84,29.14 652.26,30.00 652.61,30.89 C652.97,31.78 653.29,32.70 653.56,33.62 C653.83,34.55 654.06,35.50 654.24,36.45 C654.43,37.39 654.57,38.36 654.69,39.31 C654.80,40.27 654.88,41.22 654.93,42.16 C654.99,43.10 655.02,44.02 655.02,44.94 C655.01,45.86 654.96,46.79 654.89,47.69 C654.82,48.60 654.71,49.50 654.59,50.38 C654.47,51.26 654.33,52.12 654.16,52.96 C654.00,53.80 653.82,54.63 653.62,55.43 C653.42,56.24 653.24,57.01 652.97,57.80 C652.71,58.58 652.39,59.36 652.04,60.13 C651.68,60.90 651.23,61.67 650.82,62.40 C650.42,63.13 649.96,63.84 649.59,64.50 C649.21,65.16 648.85,65.78 648.56,66.36 C648.28,66.95 648.08,67.47 647.87,68.00 C647.66,68.52 647.46,69.02 647.28,69.51 C647.11,70.00 646.93,70.46 646.81,70.92 C646.70,71.37 646.61,71.81 646.59,72.24 C646.57,72.66 646.58,73.08 646.69,73.49 C646.79,73.90 646.93,74.31 647.22,74.72 C647.52,75.14 647.96,75.55 648.46,76.00Z" fill="none" stroke="#b40426" stroke-width="2.6"/>
<defs><linearGradient id="cw" x1="0" x2="1" y1="0" y2="0">
<stop offset="0" stop-color="#3b4cc0"/><stop offset="0.125" stop-color="#6282ea"/><stop offset="0.25" stop-color="#8db0fe"/><stop offset="0.375" stop-color="#b8d0f9"/>
<stop offset="0.5" stop-color="#dddddd"/><stop offset="0.625" stop-color="#f5c4ad"/><stop offset="0.75" stop-color="#f49a7b"/><stop offset="0.875" stop-color="#de604d"/>
<stop offset="1" stop-color="#b40426"/></linearGradient></defs>
<rect x="586" y="166.2" width="64" height="6" fill="url(#cw)"/>
<text x="618.50" y="162.80" font-size="9.5" fill="#262626" text-anchor="middle" font-weight="normal" font-family='"Liberation Sans", sans-serif' font-style="normal" textLength="45.00" lengthAdjust="spacingAndGlyphs" >Time (min)</text>
<text x="583.30" y="173.40" font-size="9.5" fill="#262626" text-anchor="end" font-weight="normal" font-family='"Liberation Sans", sans-serif' font-style="normal" >0</text>
<text x="652.80" y="173.40" font-size="9.5" fill="#262626" text-anchor="start" font-weight="normal" font-family='"Liberation Sans", sans-serif' font-style="normal" >4</text>
<text x="5.50" y="202.70" font-size="15" fill="#000" text-anchor="start" font-weight="bold" font-family='"Liberation Sans", sans-serif' font-style="normal" >d</text>
<clipPath id="c3"><rect x="40.0" y="212.6" width="146.6" height="145.70000000000002"/></clipPath>
<g clip-path="url(#c3)">
<polygon points="40.0,356.0 49.7,347.7 61.4,330.2 73.0,311.5 84.7,292.8 90.6,283.5 100.0,268.0 110.0,248.0 120.0,230.0 126.7,216.7 133.4,205.0 150.0,195.0 173.3,205.0 176.7,214.4 180.0,220.0 186.6,221.0 186.6,308.5 165.0,330.0 146.0,343.0 120.0,352.0 80.0,355.0 40.0,358.3" fill="#0072BD" fill-opacity="0.13" stroke="none"/>
<polygon points="40.0,358.0 49.7,354.7 61.4,345.4 73.0,332.6 84.7,318.5 96.4,303.4 103.4,291.7 110.4,280.0 119.0,264.0 130.0,246.0 137.8,230.0 153.4,223.3 162.3,227.7 171.1,238.8 182.2,244.4 186.6,244.4 186.6,321.0 175.0,332.0 165.0,338.0 146.0,350.0 120.0,356.0 80.0,357.0 40.0,358.3" fill="#D95319" fill-opacity="0.12" stroke="none"/>
<polygon points="40.0,358.0 50.0,353.0 60.0,346.0 73.0,338.4 84.7,331.4 96.4,329.6 118.0,329.0 140.0,329.0 150.0,327.5 186.6,327.5 186.6,349.5 150.0,352.0 120.0,355.0 80.0,357.0 40.0,358.3" fill="#EDB120" fill-opacity="0.12" stroke="none"/>
</g>
<polyline points="40.3,357.1 49.7,354.7 61.4,351.2 73.0,347.2 84.7,343.7 90.6,342.5 96.4,341.7 108.0,341.3 118.0,341.5 133.4,342.5 148.9,340.5 166.7,339.8 186.2,340.9" fill="none" stroke="#EDB120" stroke-width="1.8" stroke-linejoin="round" stroke-linecap="butt" />
<polyline points="40.3,356.5 49.7,353.6 55.5,350.7 61.4,346.6 67.2,341.9 73.0,336.6 78.9,331.4 84.7,326.1 90.6,320.3 96.4,315.0 102.2,310.4 108.0,306.9 113.9,303.9 118.0,302.8 124.0,300.0 131.2,296.5 146.7,283.2 161.1,281.0 166.7,277.7 176.7,279.2 182.2,282.8 186.2,282.1" fill="none" stroke="#D95319" stroke-width="1.8" stroke-linejoin="round" stroke-linecap="butt" />
<polyline points="40.3,355.9 45.0,354.7 49.7,352.4 55.5,347.7 61.4,341.9 67.2,335.5 73.0,329.0 78.9,322.6 84.7,316.2 90.6,309.8 96.4,303.4 102.2,297.5 108.0,292.8 113.9,289.3 118.0,287.6 124.0,284.5 131.2,280.6 146.7,264.4 161.1,262.1 166.7,258.4 176.7,260.6 182.2,265.0 186.2,264.4" fill="none" stroke="#0072BD" stroke-width="3.0" stroke-linejoin="round" stroke-linecap="butt" />
<rect x="40.0" y="212.6" width="146.6" height="145.70000000000002" fill="none" stroke="#262626" stroke-width="0.75"/>
<line x1="40.00" y1="358.30" x2="40.00" y2="356.10" stroke="#262626" stroke-width="0.75" />
<line x1="40.00" y1="212.60" x2="40.00" y2="214.80" stroke="#262626" stroke-width="0.75" />
<text x="40.00" y="370.80" font-size="9.0" fill="#262626" text-anchor="middle" font-weight="normal" font-family='"Liberation Sans", sans-serif' font-style="normal" >0</text>
<line x1="88.87" y1="358.30" x2="88.87" y2="356.10" stroke="#262626" stroke-width="0.75" />
<line x1="88.87" y1="212.60" x2="88.87" y2="214.80" stroke="#262626" stroke-width="0.75" />
<text x="88.87" y="370.80" font-size="9.0" fill="#262626" text-anchor="middle" font-weight="normal" font-family='"Liberation Sans", sans-serif' font-style="normal" >60</text>
<line x1="137.73" y1="358.30" x2="137.73" y2="356.10" stroke="#262626" stroke-width="0.75" />
<line x1="137.73" y1="212.60" x2="137.73" y2="214.80" stroke="#262626" stroke-width="0.75" />
<text x="137.73" y="370.80" font-size="9.0" fill="#262626" text-anchor="middle" font-weight="normal" font-family='"Liberation Sans", sans-serif' font-style="normal" >120</text>
<line x1="186.60" y1="358.30" x2="186.60" y2="356.10" stroke="#262626" stroke-width="0.75" />
<line x1="186.60" y1="212.60" x2="186.60" y2="214.80" stroke="#262626" stroke-width="0.75" />
<text x="186.60" y="370.80" font-size="9.0" fill="#262626" text-anchor="middle" font-weight="normal" font-family='"Liberation Sans", sans-serif' font-style="normal" >180</text>
<line x1="40.00" y1="358.30" x2="42.20" y2="358.30" stroke="#262626" stroke-width="0.75" />
<line x1="186.60" y1="358.30" x2="184.40" y2="358.30" stroke="#262626" stroke-width="0.75" />
<text x="36.40" y="361.60" font-size="9.0" fill="#262626" text-anchor="end" font-weight="normal" font-family='"Liberation Sans", sans-serif' font-style="normal" >0</text>
<line x1="40.00" y1="309.73" x2="42.20" y2="309.73" stroke="#262626" stroke-width="0.75" />
<line x1="186.60" y1="309.73" x2="184.40" y2="309.73" stroke="#262626" stroke-width="0.75" />
<text x="36.40" y="313.03" font-size="9.0" fill="#262626" text-anchor="end" font-weight="normal" font-family='"Liberation Sans", sans-serif' font-style="normal" >0.5</text>
<line x1="40.00" y1="261.17" x2="42.20" y2="261.17" stroke="#262626" stroke-width="0.75" />
<line x1="186.60" y1="261.17" x2="184.40" y2="261.17" stroke="#262626" stroke-width="0.75" />
<text x="36.40" y="264.47" font-size="9.0" fill="#262626" text-anchor="end" font-weight="normal" font-family='"Liberation Sans", sans-serif' font-style="normal" >1</text>
<line x1="40.00" y1="212.60" x2="42.20" y2="212.60" stroke="#262626" stroke-width="0.75" />
<line x1="186.60" y1="212.60" x2="184.40" y2="212.60" stroke="#262626" stroke-width="0.75" />
<text x="36.40" y="215.90" font-size="9.0" fill="#262626" text-anchor="end" font-weight="normal" font-family='"Liberation Sans", sans-serif' font-style="normal" >1.5</text>
<text x="40.20" y="211.00" fill="#262626" text-anchor="start" ><tspan dy="0.00" font-size="9.50" font-style="normal" font-family='"Liberation Sans", sans-serif'>×10</tspan><tspan dy="-3.61" font-size="6.84" font-style="normal" font-family='"Liberation Sans", sans-serif'>-9</tspan></text>
<line x1="43.00" y1="218.80" x2="61.70" y2="218.80" stroke="#0072BD" stroke-width="2.6" />
<line x1="43.00" y1="233.60" x2="61.70" y2="233.60" stroke="#D95319" stroke-width="2.6" />
<line x1="43.00" y1="248.00" x2="61.70" y2="248.00" stroke="#EDB120" stroke-width="2.6" />
<text x="63.60" y="222.70" fill="#000" text-anchor="start" textLength="102.40" lengthAdjust="spacingAndGlyphs" ><tspan dy="0.00" font-size="11.00" font-style="italic" font-family='"Liberation Serif", serif'>ΔE</tspan><tspan dy="2.20" font-size="8.69" font-style="normal" font-family='"Liberation Serif", serif'>tot</tspan><tspan dy="-2.20" font-size="11.00" font-style="normal" font-family='"Liberation Serif", serif'> = </tspan><tspan dy="0.00" font-size="11.00" font-style="italic" font-family='"Liberation Serif", serif'>ΔE</tspan><tspan dy="2.20" font-size="8.69" font-style="normal" font-family='"Liberation Serif", serif'>eq</tspan><tspan dy="-2.20" font-size="11.00" font-style="normal" font-family='"Liberation Serif", serif'> + </tspan><tspan dy="0.00" font-size="11.00" font-style="italic" font-family='"Liberation Serif", serif'>ΔE</tspan><tspan dy="2.20" font-size="8.69" font-style="normal" font-family='"Liberation Serif", serif'>pole</tspan></text>
<text x="63.60" y="237.50" fill="#000" text-anchor="start" textLength="22.40" lengthAdjust="spacingAndGlyphs" ><tspan dy="0.00" font-size="11.00" font-style="italic" font-family='"Liberation Serif", serif'>ΔE</tspan><tspan dy="2.20" font-size="8.69" font-style="normal" font-family='"Liberation Serif", serif'>eq</tspan></text>
<text x="63.60" y="253.30" fill="#000" text-anchor="start" textLength="28.90" lengthAdjust="spacingAndGlyphs" ><tspan dy="0.00" font-size="11.00" font-style="italic" font-family='"Liberation Serif", serif'>ΔE</tspan><tspan dy="2.20" font-size="8.69" font-style="normal" font-family='"Liberation Serif", serif'>pole</tspan></text>
<text x="113.30" y="381.50" font-size="9.2" fill="#262626" text-anchor="middle" font-weight="normal" font-family='"Liberation Sans", sans-serif' font-style="normal" textLength="34.20" lengthAdjust="spacingAndGlyphs" >Time (s)</text>
<text x="0.00" y="0.00" fill="#000" text-anchor="start" textLength="46.00" lengthAdjust="spacingAndGlyphs" transform="translate(19.20,301.30) rotate(-90)"><tspan dy="0.00" font-size="15.50" font-style="italic" font-family='"Liberation Serif", serif'>ΔE</tspan><tspan dy="0.00" font-size="15.50" font-style="normal" font-family='"Liberation Sans", sans-serif'> (J)</tspan></text>
<text x="207.90" y="202.70" font-size="15" fill="#000" text-anchor="start" font-weight="bold" font-family='"Liberation Sans", sans-serif' font-style="normal" >e</text>
<clipPath id="c4"><rect x="249.7" y="212.6" width="145.7" height="145.4"/></clipPath>
<g clip-path="url(#c4)">
<polygon points="249.7,275.7 259.0,253.8 267.7,229.7 276.5,225.3 286.0,227.0 296.0,225.3 307.0,229.7 311.5,247.2 316.0,255.0 320.0,262.0 330.0,275.0 345.0,290.0 360.0,300.0 375.0,310.0 395.4,315.0 395.4,345.0 385.0,352.0 375.0,362.0 366.0,358.0 355.0,345.0 340.0,335.0 320.0,333.0 300.0,336.0 280.0,338.0 262.0,344.0 249.7,343.0" fill="#0072BD" fill-opacity="0.13" stroke="none"/>
<polygon points="249.7,300.0 260.0,280.0 272.0,260.4 287.4,258.2 302.7,238.5 308.2,231.9 313.7,249.4 322.5,260.4 331.2,269.1 342.2,260.4 346.5,280.0 357.5,286.6 370.6,293.2 383.8,293.2 392.5,306.3 395.4,305.0 395.4,345.0 380.0,352.0 372.0,362.0 365.0,350.0 350.0,335.0 330.0,328.0 310.0,322.0 290.0,326.0 270.0,335.0 249.7,340.0" fill="#D95319" fill-opacity="0.12" stroke="none"/>
<polygon points="249.7,308.0 260.0,303.0 280.0,300.0 300.0,310.0 320.0,325.0 340.0,330.0 360.0,332.0 380.0,330.0 395.4,330.0 395.4,342.0 360.0,345.0 340.0,347.0 320.0,345.0 300.0,340.0 280.0,335.0 249.7,338.0" fill="#EDB120" fill-opacity="0.12" stroke="none"/>
</g>
<line x1="249.70" y1="337.23" x2="395.40" y2="337.23" stroke="#888" stroke-width="0.9" stroke-dasharray="5,3"/>
<g clip-path="url(#c4)">
<polyline points="249.1,323.4 258.9,319.5 269.9,317.7 278.7,317.3 288.5,319.5 298.4,326.1 309.3,333.7 318.1,336.6 329.0,338.1 337.8,339.2 344.3,340.9 350.9,342.0 359.7,340.9 368.4,338.1 379.4,337.0 388.1,336.6 395.1,336.6" fill="none" stroke="#EDB120" stroke-width="1.8" stroke-linejoin="round" stroke-linecap="butt" />
<polyline points="249.1,309.6 254.6,305.2 263.3,293.2 274.3,279.6 285.2,275.3 298.4,274.0 308.2,279.6 313.7,287.7 318.1,289.9 323.5,295.4 327.9,297.6 337.8,305.2 342.2,303.7 347.6,311.8 352.0,312.5 357.5,319.5 366.2,326.1 371.7,334.4 379.4,329.3 386.0,322.8 390.3,326.1 395.1,328.2" fill="none" stroke="#0072BD" stroke-width="3.0" stroke-linejoin="round" stroke-linecap="butt" />
<polyline points="249.1,321.7 253.5,320.6 263.3,308.5 274.3,297.6 278.7,296.5 288.5,291.5 298.4,284.9 307.1,283.4 312.6,290.6 318.1,291.0 323.5,296.0 327.9,298.0 336.7,303.7 342.2,301.5 346.5,309.0 352.0,309.0 357.5,316.9 366.2,325.0 371.7,334.8 379.4,330.0 386.0,322.1 390.3,326.5 395.1,329.3" fill="none" stroke="#D95319" stroke-width="1.8" stroke-linejoin="round" stroke-linecap="butt" />
</g>
<rect x="249.7" y="212.6" width="145.7" height="145.4" fill="none" stroke="#262626" stroke-width="0.75"/>
<line x1="249.70" y1="358.00" x2="249.70" y2="355.80" stroke="#262626" stroke-width="0.75" />
<line x1="249.70" y1="212.60" x2="249.70" y2="214.80" stroke="#262626" stroke-width="0.75" />
<text x="249.70" y="370.50" font-size="9.0" fill="#262626" text-anchor="middle" font-weight="normal" font-family='"Liberation Sans", sans-serif' font-style="normal" >0</text>
<line x1="298.27" y1="358.00" x2="298.27" y2="355.80" stroke="#262626" stroke-width="0.75" />
<line x1="298.27" y1="212.60" x2="298.27" y2="214.80" stroke="#262626" stroke-width="0.75" />
<text x="298.27" y="370.50" font-size="9.0" fill="#262626" text-anchor="middle" font-weight="normal" font-family='"Liberation Sans", sans-serif' font-style="normal" >60</text>
<line x1="346.83" y1="358.00" x2="346.83" y2="355.80" stroke="#262626" stroke-width="0.75" />
<line x1="346.83" y1="212.60" x2="346.83" y2="214.80" stroke="#262626" stroke-width="0.75" />
<text x="346.83" y="370.50" font-size="9.0" fill="#262626" text-anchor="middle" font-weight="normal" font-family='"Liberation Sans", sans-serif' font-style="normal" >120</text>
<line x1="395.40" y1="358.00" x2="395.40" y2="355.80" stroke="#262626" stroke-width="0.75" />
<line x1="395.40" y1="212.60" x2="395.40" y2="214.80" stroke="#262626" stroke-width="0.75" />
<text x="395.40" y="370.50" font-size="9.0" fill="#262626" text-anchor="middle" font-weight="normal" font-family='"Liberation Sans", sans-serif' font-style="normal" >180</text>
<line x1="249.70" y1="337.23" x2="251.90" y2="337.23" stroke="#262626" stroke-width="0.75" />
<line x1="395.40" y1="337.23" x2="393.20" y2="337.23" stroke="#262626" stroke-width="0.75" />
<text x="246.10" y="340.53" font-size="9.0" fill="#262626" text-anchor="end" font-weight="normal" font-family='"Liberation Sans", sans-serif' font-style="normal" >0</text>
<line x1="249.70" y1="295.69" x2="251.90" y2="295.69" stroke="#262626" stroke-width="0.75" />
<line x1="395.40" y1="295.69" x2="393.20" y2="295.69" stroke="#262626" stroke-width="0.75" />
<text x="246.10" y="298.99" font-size="9.0" fill="#262626" text-anchor="end" font-weight="normal" font-family='"Liberation Sans", sans-serif' font-style="normal" >0.6</text>
<line x1="249.70" y1="254.14" x2="251.90" y2="254.14" stroke="#262626" stroke-width="0.75" />
<line x1="395.40" y1="254.14" x2="393.20" y2="254.14" stroke="#262626" stroke-width="0.75" />
<text x="246.10" y="257.44" font-size="9.0" fill="#262626" text-anchor="end" font-weight="normal" font-family='"Liberation Sans", sans-serif' font-style="normal" >1.2</text>
<line x1="249.70" y1="212.60" x2="251.90" y2="212.60" stroke="#262626" stroke-width="0.75" />
<line x1="395.40" y1="212.60" x2="393.20" y2="212.60" stroke="#262626" stroke-width="0.75" />
<text x="246.10" y="215.90" font-size="9.0" fill="#262626" text-anchor="end" font-weight="normal" font-family='"Liberation Sans", sans-serif' font-style="normal" >1.8</text>
<text x="249.90" y="211.00" fill="#262626" text-anchor="start" ><tspan dy="0.00" font-size="9.50" font-style="normal" font-family='"Liberation Sans", sans-serif'>×10</tspan><tspan dy="-3.61" font-size="6.84" font-style="normal" font-family='"Liberation Sans", sans-serif'>-11</tspan></text>
<line x1="286.10" y1="219.10" x2="304.50" y2="219.10" stroke="#0072BD" stroke-width="2.6" />
<line x1="343.10" y1="233.70" x2="361.50" y2="233.70" stroke="#D95319" stroke-width="2.6" />
<line x1="343.10" y1="247.70" x2="361.50" y2="247.70" stroke="#EDB120" stroke-width="2.6" />
<text x="310.30" y="222.60" fill="#000" text-anchor="start" textLength="80.80" lengthAdjust="spacingAndGlyphs" ><tspan dy="0.00" font-size="11.00" font-style="italic" font-family='"Liberation Serif", serif'>P</tspan><tspan dy="2.20" font-size="8.69" font-style="normal" font-family='"Liberation Serif", serif'>tot</tspan><tspan dy="-2.20" font-size="11.00" font-style="normal" font-family='"Liberation Serif", serif'> = </tspan><tspan dy="0.00" font-size="11.00" font-style="italic" font-family='"Liberation Serif", serif'>P</tspan><tspan dy="2.20" font-size="8.69" font-style="normal" font-family='"Liberation Serif", serif'>eq</tspan><tspan dy="-2.20" font-size="11.00" font-style="normal" font-family='"Liberation Serif", serif'> + </tspan><tspan dy="0.00" font-size="11.00" font-style="italic" font-family='"Liberation Serif", serif'>P</tspan><tspan dy="2.20" font-size="8.69" font-style="normal" font-family='"Liberation Serif", serif'>pole</tspan></text>
<text x="366.70" y="237.70" fill="#000" text-anchor="start" textLength="13.60" lengthAdjust="spacingAndGlyphs" ><tspan dy="0.00" font-size="11.00" font-style="italic" font-family='"Liberation Serif", serif'>P</tspan><tspan dy="2.20" font-size="8.69" font-style="normal" font-family='"Liberation Serif", serif'>eq</tspan></text>
<text x="365.40" y="252.90" fill="#000" text-anchor="start" textLength="22.20" lengthAdjust="spacingAndGlyphs" ><tspan dy="0.00" font-size="11.00" font-style="italic" font-family='"Liberation Serif", serif'>P</tspan><tspan dy="2.20" font-size="8.69" font-style="normal" font-family='"Liberation Serif", serif'>pole</tspan></text>
<text x="322.50" y="381.50" font-size="9.2" fill="#262626" text-anchor="middle" font-weight="normal" font-family='"Liberation Sans", sans-serif' font-style="normal" textLength="34.20" lengthAdjust="spacingAndGlyphs" >Time (s)</text>
<text x="0.00" y="0.00" fill="#000" text-anchor="start" textLength="111.00" lengthAdjust="spacingAndGlyphs" transform="translate(227.40,341.00) rotate(-90)"><tspan dy="0.00" font-size="15.50" font-style="italic" font-family='"Liberation Serif", serif'>P</tspan><tspan dy="0.00" font-size="15.50" font-style="normal" font-family='"Liberation Serif", serif'> = d</tspan><tspan dy="0.00" font-size="15.50" font-style="italic" font-family='"Liberation Serif", serif'>E</tspan><tspan dy="0.00" font-size="15.50" font-style="normal" font-family='"Liberation Serif", serif'>/d</tspan><tspan dy="0.00" font-size="15.50" font-style="italic" font-family='"Liberation Serif", serif'>t</tspan><tspan dy="0.00" font-size="15.50" font-style="normal" font-family='"Liberation Sans", sans-serif'> (J s</tspan><tspan dy="-4.65" font-size="9.61" font-style="normal" font-family='"Liberation Sans", sans-serif'>-1</tspan><tspan dy="4.65" font-size="15.50" font-style="normal" font-family='"Liberation Sans", sans-serif'>)</tspan></text>
<text x="417.80" y="197.50" font-size="15" fill="#000" text-anchor="start" font-weight="bold" font-family='"Liberation Sans", sans-serif' font-style="normal" >f</text>
<line x1="456.80" y1="185.00" x2="456.80" y2="211.00" stroke="#808080" stroke-width="1.0" stroke-dasharray="1.2,1.6"/>
<line x1="529.30" y1="185.00" x2="529.30" y2="198.00" stroke="#808080" stroke-width="1.0" stroke-dasharray="1.2,1.6"/>
<circle cx="456.8" cy="231.7" r="18.0" fill="#eeeeee" stroke="#c00000" stroke-width="1.4"/>
<ellipse cx="529.3" cy="225" rx="15.5" ry="25.5" fill="#eeeeee" stroke="#c00000" stroke-width="1.4"/>
<path d="M609.5,193.5 C619,193.5 626.5,199 626.5,207.5 C626.5,215 620.6,218 620.6,223 C620.6,228 626.7,231 626.7,238.5 C626.7,246.5 619.5,250.5 609.5,250.5 C599.5,250.5 592.4,246.5 592.4,238.5 C592.4,231 599.4,228 599.4,223 C599.4,218 592.5,215 592.5,207.5 C592.5,199 600,193.5 609.5,193.5 Z" fill="#eeeeee" stroke="#c00000" stroke-width="1.4"/>
<line x1="463.10" y1="198.30" x2="512.55" y2="198.30" stroke="#808080" stroke-width="2.5" stroke-linecap="butt"/>
<polygon points="519.30,198.30 511.80,202.30 511.80,198.30 511.80,194.30" fill="#808080"/>
<line x1="541.30" y1="198.30" x2="586.05" y2="198.30" stroke="#808080" stroke-width="2.5" stroke-linecap="butt"/>
<polygon points="592.80,198.30 585.30,202.30 585.30,198.30 585.30,194.30" fill="#808080"/>
<text x="464.00" y="193.90" font-size="9.6" fill="#262626" text-anchor="start" font-weight="normal" font-family='"Liberation Sans", sans-serif' font-style="normal" textLength="45.20" lengthAdjust="spacingAndGlyphs" >Elongation</text>
<text x="541.30" y="193.90" font-size="9.6" fill="#262626" text-anchor="start" font-weight="normal" font-family='"Liberation Sans", sans-serif' font-style="normal" textLength="41.20" lengthAdjust="spacingAndGlyphs" >Furrowing</text>
<polygon points="510.90,223.40 503.30,217.05 503.30,220.60 495.90,220.60 495.90,226.20 503.30,226.20 503.30,229.75" fill="#e06020" stroke="#222" stroke-width="0.7" stroke-linejoin="miter"/>
<polygon points="546.60,223.40 554.20,217.05 554.20,220.60 561.60,220.60 561.60,226.20 554.20,226.20 554.20,229.75" fill="#e06020" stroke="#222" stroke-width="0.7" stroke-linejoin="miter"/>
<polygon points="597.30,223.00 589.70,216.65 589.70,220.20 582.30,220.20 582.30,225.80 589.70,225.80 589.70,229.35" fill="#e06020" stroke="#222" stroke-width="0.7" stroke-linejoin="miter"/>
<polygon points="620.80,223.00 628.40,216.65 628.40,220.20 635.80,220.20 635.80,225.80 628.40,225.80 628.40,229.35" fill="#e06020" stroke="#222" stroke-width="0.7" stroke-linejoin="miter"/>
<polygon points="529.30,200.60 522.90,208.30 526.75,208.30 526.75,213.90 531.85,213.90 531.85,208.30 535.70,208.30" fill="#f8b800" stroke="#222" stroke-width="0.7" stroke-linejoin="miter"/>
<polygon points="529.30,248.10 522.90,240.40 526.75,240.40 526.75,234.80 531.85,234.80 531.85,240.40 535.70,240.40" fill="#f8b800" stroke="#222" stroke-width="0.7" stroke-linejoin="miter"/>
<text x="516.60" y="219.50" fill="#000" text-anchor="start" textLength="22.60" lengthAdjust="spacingAndGlyphs" ><tspan dy="0.00" font-size="11.50" font-style="italic" font-family='"Liberation Serif", serif'>P</tspan><tspan dy="2.30" font-size="9.09" font-style="normal" font-family='"Liberation Serif", serif'>pole</tspan></text>
<text x="545.80" y="212.60" fill="#000" text-anchor="start" ><tspan dy="0.00" font-size="11.50" font-style="italic" font-family='"Liberation Serif", serif'>P</tspan><tspan dy="2.30" font-size="9.09" font-style="normal" font-family='"Liberation Serif", serif'>eq</tspan></text>
<text x="638.00" y="225.30" fill="#000" text-anchor="start" ><tspan dy="0.00" font-size="11.50" font-style="italic" font-family='"Liberation Serif", serif'>P</tspan><tspan dy="2.30" font-size="9.09" font-style="normal" font-family='"Liberation Serif", serif'>eq</tspan></text>
<clipPath id="c5"><rect x="456.6" y="257.5" width="219.19999999999993" height="97.69999999999999"/></clipPath>
<g clip-path="url(#c5)">
<polygon points="456.6,311.6 463.2,305.9 471.4,295.8 479.6,289.1 487.9,280.7 497.7,272.3 507.6,264.9 517.4,258.3 529.9,253.6 537.1,256.5 545.3,260.1 553.6,266.3 566.7,271.4 579.8,277.5 589.7,285.1 596.3,291.2 609.4,289.6 619.3,294.6 629.1,300.5 639.0,308.1 648.8,312.9 655.4,316.2 662.0,316.2 671.8,311.3 675.8,308.0 675.8,332.1 671.8,337.2 662.0,346.4 655.4,349.4 648.8,349.0 639.0,347.8 629.1,338.0 619.3,329.8 609.4,322.5 596.3,321.0 589.7,313.3 579.8,303.5 566.7,292.4 553.6,282.3 545.3,272.9 537.1,266.2 529.9,260.6 517.4,269.7 507.6,279.7 497.7,289.6 487.9,298.0 479.6,306.3 471.4,313.0 463.2,323.0 456.6,328.6" fill="#0072BD" fill-opacity="0.13" stroke="none"/>
<polygon points="456.6,322.8 468.1,311.3 481.3,305.8 494.4,298.2 507.6,290.0 520.7,280.1 529.9,273.6 537.1,272.9 543.7,269.5 553.6,271.2 566.7,269.2 579.8,271.2 589.7,278.5 596.3,280.7 609.4,278.5 619.3,283.3 629.1,289.3 639.0,298.2 648.8,305.8 655.4,314.0 662.0,317.0 670.2,315.3 675.8,312.2 675.8,330.4 670.2,338.8 662.0,348.2 655.4,351.5 648.8,349.5 639.0,350.2 629.1,341.7 619.3,335.5 609.4,324.1 596.3,317.5 589.7,311.0 579.8,297.2 566.7,293.4 553.6,293.5 543.7,290.4 537.1,292.9 529.9,292.6 520.7,299.6 507.6,310.2 494.4,319.1 481.3,327.4 468.1,333.6 456.6,345.8" fill="#D95319" fill-opacity="0.11" stroke="none"/>
<polygon points="456.6,326.6 468.1,322.5 478.0,319.5 487.9,312.9 497.7,309.0 509.2,303.9 520.7,300.8 528.9,301.3 538.8,306.9 550.3,316.9 563.4,325.3 576.5,333.8 589.7,336.3 602.8,335.6 616.0,334.6 625.8,332.4 639.0,328.8 652.1,326.1 665.3,326.8 675.8,329.8 675.8,347.8 665.3,344.8 652.1,344.1 639.0,346.8 625.8,350.4 616.0,352.6 602.8,353.6 589.7,354.4 576.5,352.1 563.4,343.8 550.3,335.6 538.8,325.8 528.9,320.1 520.7,318.4 509.2,319.8 497.7,323.2 487.9,325.7 478.0,330.8 468.1,332.3 456.6,334.6" fill="#EDB120" fill-opacity="0.11" stroke="none"/>
<line x1="456.60" y1="338.92" x2="675.80" y2="338.92" stroke="#999" stroke-width="0.9" stroke-dasharray="5,3"/>
<line x1="529.67" y1="257.50" x2="529.67" y2="355.20" stroke="#999" stroke-width="0.9" stroke-dasharray="5,3"/>
<polyline points="456.6,330.6 468.1,327.3 478.0,325.0 487.9,319.1 497.7,315.8 509.2,311.5 520.7,309.2 528.9,310.2 538.8,315.8 550.3,325.6 563.4,333.8 576.5,342.1 589.7,344.4 602.8,343.7 616.0,343.0 625.8,341.1 639.0,337.8 652.1,335.5 665.3,336.5 675.8,339.8" fill="none" stroke="#EDB120" stroke-width="1.8" stroke-linejoin="round" stroke-linecap="butt" />
<polyline points="456.6,333.8 468.1,322.3 481.3,316.8 494.4,309.2 507.6,301.0 520.7,291.1 529.9,284.6 537.1,284.6 543.7,281.9 553.6,284.6 566.7,283.9 579.8,287.2 589.7,296.1 596.3,299.4 609.4,299.4 619.3,305.9 629.1,313.5 639.0,324.0 648.8,327.9 655.4,333.2 662.0,333.2 670.2,327.9 675.8,322.3" fill="none" stroke="#D95319" stroke-width="1.8" stroke-linejoin="round" stroke-linecap="butt" />
<polyline points="456.6,324.6 463.2,319.1 471.4,309.2 479.6,302.6 487.9,294.4 497.7,286.2 507.6,276.4 517.4,266.5 529.9,257.6 537.1,261.6 545.3,266.5 553.6,274.1 566.7,281.3 579.8,289.5 589.7,297.7 596.3,304.3 609.4,303.6 619.3,309.2 629.1,315.8 639.0,324.0 648.8,328.9 655.4,332.2 662.0,332.2 671.8,327.3 675.8,324.0" fill="none" stroke="#0072BD" stroke-width="3.0" stroke-linejoin="round" stroke-linecap="butt" />
</g>
<rect x="456.6" y="257.5" width="219.19999999999993" height="97.69999999999999" fill="none" stroke="#262626" stroke-width="0.75"/>
<line x1="456.60" y1="355.20" x2="456.60" y2="353.00" stroke="#262626" stroke-width="0.75" />
<line x1="456.60" y1="257.50" x2="456.60" y2="259.70" stroke="#262626" stroke-width="0.75" />
<text x="456.60" y="367.70" font-size="9.0" fill="#262626" text-anchor="middle" font-weight="normal" font-family='"Liberation Sans", sans-serif' font-style="normal" >-60</text>
<line x1="529.67" y1="355.20" x2="529.67" y2="353.00" stroke="#262626" stroke-width="0.75" />
<line x1="529.67" y1="257.50" x2="529.67" y2="259.70" stroke="#262626" stroke-width="0.75" />
<text x="529.67" y="367.70" font-size="9.0" fill="#262626" text-anchor="middle" font-weight="normal" font-family='"Liberation Sans", sans-serif' font-style="normal" >0</text>
<line x1="602.73" y1="355.20" x2="602.73" y2="353.00" stroke="#262626" stroke-width="0.75" />
<line x1="602.73" y1="257.50" x2="602.73" y2="259.70" stroke="#262626" stroke-width="0.75" />
<text x="602.73" y="367.70" font-size="9.0" fill="#262626" text-anchor="middle" font-weight="normal" font-family='"Liberation Sans", sans-serif' font-style="normal" >60</text>
<line x1="675.80" y1="355.20" x2="675.80" y2="353.00" stroke="#262626" stroke-width="0.75" />
<line x1="675.80" y1="257.50" x2="675.80" y2="259.70" stroke="#262626" stroke-width="0.75" />
<text x="675.80" y="367.70" font-size="9.0" fill="#262626" text-anchor="middle" font-weight="normal" font-family='"Liberation Sans", sans-serif' font-style="normal" >120</text>
<line x1="456.60" y1="338.92" x2="458.80" y2="338.92" stroke="#262626" stroke-width="0.75" />
<line x1="675.80" y1="338.92" x2="673.60" y2="338.92" stroke="#262626" stroke-width="0.75" />
<text x="453.00" y="342.22" font-size="9.0" fill="#262626" text-anchor="end" font-weight="normal" font-family='"Liberation Sans", sans-serif' font-style="normal" >0</text>
<line x1="456.60" y1="298.21" x2="458.80" y2="298.21" stroke="#262626" stroke-width="0.75" />
<line x1="675.80" y1="298.21" x2="673.60" y2="298.21" stroke="#262626" stroke-width="0.75" />
<text x="453.00" y="301.51" font-size="9.0" fill="#262626" text-anchor="end" font-weight="normal" font-family='"Liberation Sans", sans-serif' font-style="normal" >0.5</text>
<line x1="456.60" y1="257.50" x2="458.80" y2="257.50" stroke="#262626" stroke-width="0.75" />
<line x1="675.80" y1="257.50" x2="673.60" y2="257.50" stroke="#262626" stroke-width="0.75" />
<text x="453.00" y="260.80" font-size="9.0" fill="#262626" text-anchor="end" font-weight="normal" font-family='"Liberation Sans", sans-serif' font-style="normal" >1</text>
<line x1="568.40" y1="263.80" x2="587.20" y2="263.80" stroke="#0072BD" stroke-width="2.6" />
<line x1="630.00" y1="277.20" x2="649.00" y2="277.20" stroke="#D95319" stroke-width="2.6" />
<line x1="630.00" y1="289.20" x2="649.00" y2="289.20" stroke="#EDB120" stroke-width="2.6" />
<text x="592.90" y="266.90" fill="#000" text-anchor="start" textLength="80.50" lengthAdjust="spacingAndGlyphs" ><tspan dy="0.00" font-size="11.00" font-style="italic" font-family='"Liberation Serif", serif'>P</tspan><tspan dy="2.20" font-size="8.69" font-style="normal" font-family='"Liberation Serif", serif'>tot</tspan><tspan dy="-2.20" font-size="11.00" font-style="normal" font-family='"Liberation Serif", serif'> = </tspan><tspan dy="0.00" font-size="11.00" font-style="italic" font-family='"Liberation Serif", serif'>P</tspan><tspan dy="2.20" font-size="8.69" font-style="normal" font-family='"Liberation Serif", serif'>eq</tspan><tspan dy="-2.20" font-size="11.00" font-style="normal" font-family='"Liberation Serif", serif'> + </tspan><tspan dy="0.00" font-size="11.00" font-style="italic" font-family='"Liberation Serif", serif'>P</tspan><tspan dy="2.20" font-size="8.69" font-style="normal" font-family='"Liberation Serif", serif'>pole</tspan></text>
<text x="654.20" y="280.40" fill="#000" text-anchor="start" textLength="13.40" lengthAdjust="spacingAndGlyphs" ><tspan dy="0.00" font-size="11.00" font-style="italic" font-family='"Liberation Serif", serif'>P</tspan><tspan dy="2.20" font-size="8.69" font-style="normal" font-family='"Liberation Serif", serif'>eq</tspan></text>
<text x="653.30" y="292.70" fill="#000" text-anchor="start" textLength="21.90" lengthAdjust="spacingAndGlyphs" ><tspan dy="0.00" font-size="11.00" font-style="italic" font-family='"Liberation Serif", serif'>P</tspan><tspan dy="2.20" font-size="8.69" font-style="normal" font-family='"Liberation Serif", serif'>pole</tspan></text>
<text x="0.00" y="0.00" fill="#000" text-anchor="start" textLength="24.80" lengthAdjust="spacingAndGlyphs" transform="translate(430.70,334.00) rotate(-90)"><tspan dy="0.00" font-size="16.00" font-style="italic" font-family='"Liberation Serif", serif'>P</tspan><tspan dy="0.00" font-size="16.00" font-style="normal" font-family='"Liberation Serif", serif'> /</tspan><tspan dy="0.00" font-size="16.00" font-style="italic" font-family='"Liberation Serif", serif'>P</tspan></text>
<text x="0.00" y="0.00" fill="#000" text-anchor="start" textLength="13.00" lengthAdjust="spacingAndGlyphs" transform="translate(434.00,309.40) rotate(-90)"><tspan dy="0.00" font-size="12.00" font-style="normal" font-family='"Liberation Serif", serif'>tot</tspan></text>
<text x="0.00" y="0.00" fill="#000" text-anchor="start" textLength="19.80" lengthAdjust="spacingAndGlyphs" transform="translate(425.10,307.60) rotate(-90)"><tspan dy="0.00" font-size="11.50" font-style="normal" font-family='"Liberation Serif", serif'>max</tspan></text>
<text x="528.30" y="384.30" font-size="15.5" fill="#000" text-anchor="start" font-weight="normal" font-family='"Liberation Serif", serif' font-style="italic" >t</text>
<text x="539.80" y="384.30" font-size="15.5" fill="#000" text-anchor="start" font-weight="normal" font-family='"Liberation Serif", serif' font-style="normal" >−</text>
<text x="551.90" y="384.30" font-size="15.5" fill="#000" text-anchor="start" font-weight="normal" font-family='"Liberation Serif", serif' font-style="italic" >t</text>
<text x="557.80" y="388.90" font-size="10.5" fill="#000" text-anchor="start" font-weight="normal" font-family='"Liberation Serif", serif' font-style="italic" >P</text>
<text x="565.30" y="382.50" font-size="9.5" fill="#000" text-anchor="start" font-weight="normal" font-family='"Liberation Serif", serif' font-style="normal" textLength="16.80" lengthAdjust="spacingAndGlyphs" >max</text>
<text x="564.30" y="390.10" font-size="9.5" fill="#000" text-anchor="start" font-weight="normal" font-family='"Liberation Serif", serif' font-style="normal" textLength="12.00" lengthAdjust="spacingAndGlyphs" >tot</text>
<text x="590.40" y="385.00" font-size="14.5" fill="#000" text-anchor="start" font-weight="normal" font-family='"Liberation Sans", sans-serif' font-style="normal" textLength="18.00" lengthAdjust="spacingAndGlyphs" >(s)</text>
<text x="5.50" y="402.70" font-size="15" fill="#000" text-anchor="start" font-weight="bold" font-family='"Liberation Sans", sans-serif' font-style="normal" >g</text>
<path d="M41.5,412.8 C58,412.8 71,421 72.6,436 C73.8,449 62,458 59.8,469.5 C61,481 70.5,487 70,500 C69,513 57,520 40,519.8 C22,519.6 9,512 8.8,497 C8.6,484 20,478 21.6,469.5 C19,458 10,450 10.8,436 C12,420 25,412.8 41.5,412.8 Z" fill="#eeeeee" stroke="#c00000" stroke-width="1.3"/>
<clipPath id="cellclip"><path d="M41.5,412.8 C58,412.8 71,421 72.6,436 C73.8,449 62,458 59.8,469.5 C61,481 70.5,487 70,500 C69,513 57,520 40,519.8 C22,519.6 9,512 8.8,497 C8.6,484 20,478 21.6,469.5 C19,458 10,450 10.8,436 C12,420 25,412.8 41.5,412.8 Z"/></clipPath>
<g clip-path="url(#cellclip)">
<path d="M17.5,470.0 Q45.4,474.6 73.3,474.4" fill="none" stroke="#1fa650" stroke-width="0.75"/>
<path d="M13.6,481.1 Q43.5,466.1 73.3,448.1" fill="none" stroke="#1fa650" stroke-width="0.75"/>
<path d="M13.6,480.3 Q39.3,466.2 65.0,451.2" fill="none" stroke="#1fa650" stroke-width="0.75"/>
<path d="M10.6,468.2 Q38.0,462.0 65.4,447.5" fill="none" stroke="#1fa650" stroke-width="0.75"/>
<path d="M17.6,475.3 Q40.6,465.3 63.7,452.9" fill="none" stroke="#1fa650" stroke-width="0.75"/>
<path d="M18.5,451.7 Q41.5,446.5 64.5,447.1" fill="none" stroke="#1fa650" stroke-width="0.75"/>
<path d="M11.5,483.3 Q42.5,481.7 73.5,479.3" fill="none" stroke="#1fa650" stroke-width="0.75"/>
<path d="M19.3,472.1 Q44.8,468.0 70.3,454.6" fill="none" stroke="#1fa650" stroke-width="0.75"/>
<path d="M12.3,480.1 Q38.2,465.5 64.0,458.1" fill="none" stroke="#1fa650" stroke-width="0.75"/>
<path d="M15.2,449.4 Q38.6,455.6 62.0,458.2" fill="none" stroke="#1fa650" stroke-width="0.75"/>
<path d="M17.8,459.5 Q42.8,457.1 67.8,458.5" fill="none" stroke="#1fa650" stroke-width="0.75"/>
<path d="M8.7,464.8 Q41.2,464.2 73.7,473.1" fill="none" stroke="#1fa650" stroke-width="0.75"/>
<path d="M8.2,474.7 Q39.8,475.2 71.5,478.3" fill="none" stroke="#1fa650" stroke-width="0.75"/>
<path d="M8.6,468.4 Q36.4,462.4 64.2,447.3" fill="none" stroke="#1fa650" stroke-width="0.75"/>
<path d="M19.2,454.3 Q46.2,463.1 73.3,475.0" fill="none" stroke="#1fa650" stroke-width="0.75"/>
<path d="M17.3,460.1 Q40.3,465.8 63.3,466.4" fill="none" stroke="#1fa650" stroke-width="0.75"/>
<path d="M8.4,476.5 Q40.9,473.6 73.3,478.8" fill="none" stroke="#1fa650" stroke-width="0.75"/>
<path d="M19.0,459.6 Q42.5,468.8 66.1,469.6" fill="none" stroke="#1fa650" stroke-width="0.75"/>
<path d="M11.8,467.2 Q38.0,458.6 64.1,458.6" fill="none" stroke="#1fa650" stroke-width="0.75"/>
<path d="M20.0,452.5 Q41.9,458.0 63.9,472.5" fill="none" stroke="#1fa650" stroke-width="0.75"/>
<path d="M12.9,483.5 Q38.9,476.1 64.8,466.7" fill="none" stroke="#1fa650" stroke-width="0.75"/>
<path d="M13.1,477.6 Q37.9,474.9 62.7,463.9" fill="none" stroke="#1fa650" stroke-width="0.75"/>
<path d="M18.1,448.2 Q40.8,459.1 63.6,465.3" fill="none" stroke="#1fa650" stroke-width="0.75"/>
<path d="M17.5,482.1 Q40.4,475.6 63.3,470.3" fill="none" stroke="#1fa650" stroke-width="0.75"/>
<path d="M11.5,452.5 Q39.5,470.4 67.4,478.3" fill="none" stroke="#1fa650" stroke-width="0.75"/>
<path d="M13.4,478.5 Q40.7,483.1 67.9,483.1" fill="none" stroke="#1fa650" stroke-width="0.75"/>
</g>
<g transform="translate(23.8,456.8) scale(1.05)" fill="#ee11ee"><rect x="-2" y="-0.8" width="4" height="1.6"/><path d="M-1.2,0 C-1.8,-1.8 -3.5,-3.4 -4.8,-2.6 C-5.6,-2 -5.2,-0.8 -4.6,0 C-5.2,0.8 -5.6,2 -4.8,2.6 C-3.5,3.4 -1.8,1.8 -1.2,0 Z"/><path d="M1.2,0 C1.8,-1.8 3.5,-3.4 4.8,-2.6 C5.6,-2 5.2,-0.8 4.6,0 C5.2,0.8 5.6,2 4.8,2.6 C3.5,3.4 1.8,1.8 1.2,0 Z"/></g>
<g transform="translate(31.6,459.4) scale(1.05)" fill="#ee11ee"><rect x="-2" y="-0.8" width="4" height="1.6"/><path d="M-1.2,0 C-1.8,-1.8 -3.5,-3.4 -4.8,-2.6 C-5.6,-2 -5.2,-0.8 -4.6,0 C-5.2,0.8 -5.6,2 -4.8,2.6 C-3.5,3.4 -1.8,1.8 -1.2,0 Z"/><path d="M1.2,0 C1.8,-1.8 3.5,-3.4 4.8,-2.6 C5.6,-2 5.2,-0.8 4.6,0 C5.2,0.8 5.6,2 4.8,2.6 C3.5,3.4 1.8,1.8 1.2,0 Z"/></g>
<g transform="translate(49.9,459.0) scale(1.05)" fill="#ee11ee"><rect x="-2" y="-0.8" width="4" height="1.6"/><path d="M-1.2,0 C-1.8,-1.8 -3.5,-3.4 -4.8,-2.6 C-5.6,-2 -5.2,-0.8 -4.6,0 C-5.2,0.8 -5.6,2 -4.8,2.6 C-3.5,3.4 -1.8,1.8 -1.2,0 Z"/><path d="M1.2,0 C1.8,-1.8 3.5,-3.4 4.8,-2.6 C5.6,-2 5.2,-0.8 4.6,0 C5.2,0.8 5.6,2 4.8,2.6 C3.5,3.4 1.8,1.8 1.2,0 Z"/></g>
<g transform="translate(57.8,456.8) scale(1.05)" fill="#ee11ee"><rect x="-2" y="-0.8" width="4" height="1.6"/><path d="M-1.2,0 C-1.8,-1.8 -3.5,-3.4 -4.8,-2.6 C-5.6,-2 -5.2,-0.8 -4.6,0 C-5.2,0.8 -5.6,2 -4.8,2.6 C-3.5,3.4 -1.8,1.8 -1.2,0 Z"/><path d="M1.2,0 C1.8,-1.8 3.5,-3.4 4.8,-2.6 C5.6,-2 5.2,-0.8 4.6,0 C5.2,0.8 5.6,2 4.8,2.6 C3.5,3.4 1.8,1.8 1.2,0 Z"/></g>
<g transform="translate(41.6,472.4) scale(1.2)" fill="#ee11ee"><rect x="-2" y="-0.8" width="4" height="1.6"/><path d="M-1.2,0 C-1.8,-1.8 -3.5,-3.4 -4.8,-2.6 C-5.6,-2 -5.2,-0.8 -4.6,0 C-5.2,0.8 -5.6,2 -4.8,2.6 C-3.5,3.4 -1.8,1.8 -1.2,0 Z"/><path d="M1.2,0 C1.8,-1.8 3.5,-3.4 4.8,-2.6 C5.6,-2 5.2,-0.8 4.6,0 C5.2,0.8 5.6,2 4.8,2.6 C3.5,3.4 1.8,1.8 1.2,0 Z"/></g>
<rect x="26.6" y="453.6" width="28" height="26.6" fill="none" stroke="#555" stroke-width="1.1"/>
<line x1="54.60" y1="453.60" x2="84.70" y2="403.60" stroke="#000" stroke-width="0.9" stroke-dasharray="3,2.2"/>
<line x1="54.60" y1="480.20" x2="84.70" y2="566.50" stroke="#000" stroke-width="0.9" stroke-dasharray="3,2.2"/>
<line x1="8.80" y1="534.50" x2="26.90" y2="534.50" stroke="#c00000" stroke-width="1.4" />
<line x1="8.80" y1="545.00" x2="26.90" y2="550.20" stroke="#22bb55" stroke-width="1.0" />
<line x1="8.80" y1="550.20" x2="26.90" y2="545.00" stroke="#22bb55" stroke-width="1.0" />
<g transform="translate(18,560.7) scale(1.25)" fill="#ee11ee"><rect x="-2" y="-0.8" width="4" height="1.6"/><path d="M-1.2,0 C-1.8,-1.8 -3.5,-3.4 -4.8,-2.6 C-5.6,-2 -5.2,-0.8 -4.6,0 C-5.2,0.8 -5.6,2 -4.8,2.6 C-3.5,3.4 -1.8,1.8 -1.2,0 Z"/><path d="M1.2,0 C1.8,-1.8 3.5,-3.4 4.8,-2.6 C5.6,-2 5.2,-0.8 4.6,0 C5.2,0.8 5.6,2 4.8,2.6 C3.5,3.4 1.8,1.8 1.2,0 Z"/></g>
<text x="31.50" y="537.60" font-size="8.0" fill="#262626" text-anchor="start" font-weight="normal" font-family='"Liberation Sans", sans-serif' font-style="normal" textLength="38.30" lengthAdjust="spacingAndGlyphs" >Membrane</text>
<text x="31.50" y="550.70" font-size="8.0" fill="#262626" text-anchor="start" font-weight="normal" font-family='"Liberation Sans", sans-serif' font-style="normal" >F-actin</text>
<text x="31.50" y="563.80" font-size="8.0" fill="#262626" text-anchor="start" font-weight="normal" font-family='"Liberation Sans", sans-serif' font-style="normal" >Myosin II</text>
<rect x="84.8" y="403.6" width="106.4" height="163.5" fill="#f0f0f0" stroke="#444" stroke-width="1.1"/>
<text x="86.00" y="399.90" font-size="10.8" fill="#111" text-anchor="start" font-weight="normal" font-family='"Liberation Sans", sans-serif' font-style="normal" textLength="104.20" lengthAdjust="spacingAndGlyphs" >NADH-coupled assay</text>
<line x1="99.70" y1="419.00" x2="121.05" y2="419.00" stroke="#000" stroke-width="1.3" stroke-linecap="butt"/>
<polygon points="126.00,419.00 120.50,421.75 120.50,419.00 120.50,416.25" fill="#000"/>
<line x1="145.80" y1="440.20" x2="123.95" y2="440.20" stroke="#000" stroke-width="1.3" stroke-linecap="butt"/>
<polygon points="119.00,440.20 124.50,437.45 124.50,440.20 124.50,442.95" fill="#000"/>
<path d="M101.5,423.5 C108,421 113,425 120,424 C126,423 130,421 134,422" fill="none" stroke="#22cc66" stroke-width="1.7"/>
<path d="M114,435.5 C120,436 125,433 131,434.5 C137,436 141,433 146,433" fill="none" stroke="#22cc66" stroke-width="1.7"/>
<g transform="translate(121.7,429.0) scale(1.6)" fill="#ee11ee"><rect x="-2" y="-0.8" width="4" height="1.6"/><path d="M-1.2,0 C-1.8,-1.8 -3.5,-3.4 -4.8,-2.6 C-5.6,-2 -5.2,-0.8 -4.6,0 C-5.2,0.8 -5.6,2 -4.8,2.6 C-3.5,3.4 -1.8,1.8 -1.2,0 Z"/><path d="M1.2,0 C1.8,-1.8 3.5,-3.4 4.8,-2.6 C5.6,-2 5.2,-0.8 4.6,0 C5.2,0.8 5.6,2 4.8,2.6 C3.5,3.4 1.8,1.8 1.2,0 Z"/></g>
<text x="95.00" y="442.60" fill="#111" text-anchor="start" ><tspan dy="0.00" font-size="10.50" font-style="italic" font-family='"Liberation Serif", serif'>f</tspan><tspan dy="2.10" font-size="8.29" font-style="normal" font-family='"Liberation Serif", serif'>myo</tspan></text>
<rect x="152.7" y="411.6" width="23.600000000000023" height="10.899999999999977" fill="#c00000"/>
<text x="164.50" y="420.30" font-size="9.0" fill="#fff" text-anchor="middle" font-weight="bold" font-family='"Liberation Sans", sans-serif' font-style="normal" >ATP</text>
<rect x="152.7" y="435.0" width="23.600000000000023" height="11.300000000000011" fill="#404040"/>
<text x="164.50" y="444.10" font-size="9.0" fill="#fff" text-anchor="middle" font-weight="bold" font-family='"Liberation Sans", sans-serif' font-style="normal" >ADP</text>
<line x1="164.50" y1="422.50" x2="164.50" y2="430.50" stroke="#000" stroke-width="1.3" stroke-linecap="butt"/>
<polygon points="164.50,435.00 162.00,430.00 164.50,430.00 167.00,430.00" fill="#000"/>
<text x="90.40" y="464.00" font-size="9.3" fill="#111" text-anchor="start" font-weight="bold" font-family='"Liberation Sans", sans-serif' font-style="normal" >(i) ATP regeneration</text>
<line x1="90.40" y1="466.20" x2="180.40" y2="466.20" stroke="#111" stroke-width="0.7" />
<text x="138.60" y="475.80" font-size="9.3" fill="#111" text-anchor="middle" font-weight="bold" font-family='"Liberation Sans", sans-serif' font-style="normal" >PK</text>
<text x="91.20" y="482.20" font-size="9.3" fill="#111" text-anchor="start" font-weight="bold" font-family='"Liberation Sans", sans-serif' font-style="normal" >PEP</text>
<line x1="111.30" y1="478.80" x2="161.95" y2="478.80" stroke="#000" stroke-width="1.4" stroke-linecap="butt"/>
<polygon points="167.80,478.80 161.30,482.05 161.30,478.80 161.30,475.55" fill="#000"/>
<text x="170.70" y="482.20" font-size="9.3" fill="#111" text-anchor="start" font-weight="bold" font-family='"Liberation Sans", sans-serif' font-style="normal" >Pyr.</text>
<path d="M121,492.5 C121,480 138,476 146,481 C150,483.5 152,486 153.5,488" fill="none" stroke="#000" stroke-width="1.4"/>
<polygon points="155.50,491.50 150.63,488.52 153.02,487.16 155.41,485.79" fill="#000"/>
<rect x="104.9" y="492.5" width="23.299999999999983" height="10.399999999999977" fill="#404040"/>
<text x="116.55" y="500.70" font-size="9.0" fill="#fff" text-anchor="middle" font-weight="bold" font-family='"Liberation Sans", sans-serif' font-style="normal" >ADP</text>
<rect x="147.1" y="492.5" width="23.599999999999994" height="10.399999999999977" fill="#c00000"/>
<text x="158.90" y="500.70" font-size="9.0" fill="#fff" text-anchor="middle" font-weight="bold" font-family='"Liberation Sans", sans-serif' font-style="normal" >ATP</text>
<text x="90.40" y="522.30" font-size="9.3" fill="#111" text-anchor="start" font-weight="bold" font-family='"Liberation Sans", sans-serif' font-style="normal" >(ii) NADH oxidation</text>
<line x1="90.40" y1="524.00" x2="176.30" y2="524.00" stroke="#111" stroke-width="0.7" />
<text x="137.80" y="535.20" font-size="9.3" fill="#111" text-anchor="middle" font-weight="bold" font-family='"Liberation Sans", sans-serif' font-style="normal" >LDH</text>
<text x="91.00" y="541.70" font-size="9.3" fill="#111" text-anchor="start" font-weight="bold" font-family='"Liberation Sans", sans-serif' font-style="normal" >Pyr.</text>
<line x1="110.50" y1="538.30" x2="160.35" y2="538.30" stroke="#000" stroke-width="1.4" stroke-linecap="butt"/>
<polygon points="166.20,538.30 159.70,541.55 159.70,538.30 159.70,535.05" fill="#000"/>
<text x="168.30" y="541.70" font-size="9.3" fill="#111" text-anchor="start" font-weight="bold" font-family='"Liberation Sans", sans-serif' font-style="normal" >Lac.</text>
<path d="M119.5,551.1 C119.5,539 136,535 145,540 C149,542.5 151,545 152.5,547" fill="none" stroke="#000" stroke-width="1.4"/>
<polygon points="154.50,550.50 149.63,547.52 152.02,546.16 154.41,544.79" fill="#000"/>
<rect x="100.0" y="551.1" width="30.599999999999994" height="11.199999999999932" fill="#9400d3"/>
<text x="115.30" y="560.10" font-size="9.0" fill="#fff" text-anchor="middle" font-weight="bold" font-family='"Liberation Sans", sans-serif' font-style="normal" >NADH</text>
<text x="145.80" y="560.70" fill="#111" text-anchor="start" font-weight="bold"><tspan dy="0.00" font-size="9.30" font-style="normal" font-family='"Liberation Sans", sans-serif'>NAD</tspan><tspan dy="-3.53" font-size="6.70" font-style="normal" font-family='"Liberation Sans", sans-serif'>+</tspan></text>
<text x="207.50" y="403.00" font-size="15" fill="#000" text-anchor="start" font-weight="bold" font-family='"Liberation Sans", sans-serif' font-style="normal" >h</text>
<defs>
<radialGradient id="yel1" cx="0.55" cy="0.5" r="0.55">
<stop offset="0" stop-color="#f4ec90"/><stop offset="0.5" stop-color="#e0d052"/><stop offset="0.9" stop-color="#cdbc44"/><stop offset="1" stop-color="#b0a03c"/>
</radialGradient>
<radialGradient id="yel2" cx="0.5" cy="0.45" r="0.55">
<stop offset="0" stop-color="#dccb48"/><stop offset="0.6" stop-color="#cbb942"/><stop offset="0.95" stop-color="#a8983a"/><stop offset="1" stop-color="#807430"/>
</radialGradient>
<radialGradient id="dim" cx="0.5" cy="0.4" r="0.6">
<stop offset="0" stop-color="#6a5c40"/><stop offset="0.7" stop-color="#4a3e34"/><stop offset="1" stop-color="#3a3030"/>
</radialGradient>
<radialGradient id="tan" cx="0.5" cy="0.5" r="0.5">
<stop offset="0" stop-color="#b0a058"/><stop offset="0.8" stop-color="#a08a58"/><stop offset="1" stop-color="#a07878"/>
</radialGradient>
<radialGradient id="wh" cx="0.5" cy="0.5" r="0.5">
<stop offset="0" stop-color="#ffffff" stop-opacity="1"/>
<stop offset="0.3" stop-color="#fff8ff" stop-opacity="1"/>
<stop offset="0.55" stop-color="#f8b8f8" stop-opacity="0.85"/>
<stop offset="0.8" stop-color="#e060e0" stop-opacity="0.45"/>
<stop offset="1" stop-color="#d040d0" stop-opacity="0"/>
</radialGradient>
<radialGradient id="wh1" cx="0.5" cy="0.5" r="0.5">
<stop offset="0" stop-color="#ffffff" stop-opacity="1"/>
<stop offset="0.35" stop-color="#fffdf0" stop-opacity="0.95"/>
<stop offset="0.7" stop-color="#f8f0c0" stop-opacity="0.5"/>
<stop offset="1" stop-color="#f0e8a0" stop-opacity="0"/>
</radialGradient>
<radialGradient id="dim2" cx="0.5" cy="0.55" r="0.6">
<stop offset="0" stop-color="#9a8a58"/><stop offset="0.7" stop-color="#7a6a46"/><stop offset="1" stop-color="#544838"/>
</radialGradient>
<radialGradient id="dim3" cx="0.5" cy="0.6" r="0.6">
<stop offset="0" stop-color="#7a4a70"/><stop offset="0.6" stop-color="#4e3848"/><stop offset="1" stop-color="#3a2c36"/>
</radialGradient>
<radialGradient id="glow" cx="0.5" cy="0.5" r="0.5">
<stop offset="0" stop-color="#ffffff" stop-opacity="1"/>
<stop offset="0.25" stop-color="#ffffff" stop-opacity="0.95"/>
<stop offset="0.5" stop-color="#fbd8fb" stop-opacity="0.7"/>
<stop offset="0.75" stop-color="#e890e8" stop-opacity="0.35"/>
<stop offset="1" stop-color="#e070e0" stop-opacity="0"/>
</radialGradient>
<radialGradient id="grn" cx="0.5" cy="0.5" r="0.5">
<stop offset="0" stop-color="#4a8a34" stop-opacity="0.9"/>
<stop offset="0.6" stop-color="#3a6a2a" stop-opacity="0.6"/>
<stop offset="1" stop-color="#2a3a22" stop-opacity="0"/>
</radialGradient>
<filter id="grain" x="0" y="0" width="1" height="1">
<feTurbulence type="fractalNoise" baseFrequency="1.2" numOctaves="1" seed="3" result="n"/>
<feColorMatrix in="n" type="matrix" values="0 0 0 0 0  0 0 0 0 0  0 0 0 0 0  0 0 0 0.35 0" result="na"/>
<feComposite in="na" in2="SourceGraphic" operator="in" result="nc"/>
<feBlend in="SourceGraphic" in2="nc" mode="multiply"/>
</filter>
</defs>
<clipPath id="c6"><rect x="206" y="420.9" width="101.5" height="124.60000000000002"/></clipPath>
<g clip-path="url(#c6)">
<rect x="206" y="420.9" width="101.5" height="124.6" fill="#22221c"/>
<ellipse cx="288" cy="440" rx="36" ry="36" fill="url(#grn)"/>
<ellipse cx="298" cy="495" rx="16" ry="36" fill="url(#grn)" opacity="0.6"/>
<circle cx="276" cy="430" r="8.5" fill="#6e7a44" stroke="#48e038" stroke-width="1"/>
<circle cx="294" cy="428" r="8" fill="#6e7a44" stroke="#48e038" stroke-width="1"/>
<circle cx="301" cy="445" r="8" fill="#6e7a44" stroke="#48e038" stroke-width="1"/>
<circle cx="289" cy="455" r="7" fill="#6e7a44" stroke="#48e038" stroke-width="1"/>
<circle cx="302" cy="470" r="6.5" fill="#6e7a44" stroke="#48e038" stroke-width="1"/>
<circle cx="262" cy="424" r="6" fill="#6e7a44" stroke="#48e038" stroke-width="1"/>
<circle cx="190" cy="526" r="31" fill="url(#tan)" stroke="#e0d0e0" stroke-width="0.9"/>
<path d="M237.2,450.6 C244,439 251,433.6 261,433.8 C279,435 291.5,452 291.5,473 C291.5,497 281,521 256,529.5 C233,533 214,518 209,496 C205.5,478 211,463 222,455.5 C227,452 232,451.5 237.2,450.6 Z" fill="url(#yel1)" stroke="#3ed030" stroke-width="1"/>
<path d="M289,455 C293,470 292,490 285,508" fill="none" stroke="#e070e0" stroke-width="1.3" opacity="0.8"/>
<ellipse cx="260" cy="478" rx="36" ry="32" fill="url(#wh1)"/>
<ellipse cx="262" cy="477" rx="22" ry="18" fill="url(#wh1)"/>
</g>
<clipPath id="c7"><rect x="307.5" y="420.9" width="99.69999999999999" height="124.60000000000002"/></clipPath>
<g clip-path="url(#c7)">
<rect x="307.5" y="420.9" width="99.7" height="124.6" fill="#1f1f1a"/>
<ellipse cx="390" cy="445" rx="30" ry="36" fill="url(#grn)"/>
<circle cx="384.4" cy="434" r="8" fill="#5e6a40" stroke="#48e038" stroke-width="1"/>
<circle cx="400" cy="435.7" r="7" fill="#5e6a40" stroke="#48e038" stroke-width="1"/>
<circle cx="369.8" cy="431.4" r="6" fill="#5e6a40" stroke="#48e038" stroke-width="1"/>
<circle cx="389.6" cy="450.4" r="7" fill="#5e6a40" stroke="#48e038" stroke-width="1"/>
<circle cx="402.6" cy="473.7" r="5.5" fill="#5e6a40" stroke="#48e038" stroke-width="1"/>
<circle cx="292" cy="523" r="32" fill="url(#tan)" stroke="#e8d8e8" stroke-width="0.9"/>
<circle cx="343.9" cy="444.4" r="23.3" fill="url(#dim2)" stroke="#3ed030" stroke-width="1"/>
<circle cx="358.5" cy="504.8" r="37.6" fill="url(#yel2)" stroke="#3ed030" stroke-width="1"/>
<ellipse cx="353" cy="472" rx="38" ry="30" fill="url(#glow)"/>
<ellipse cx="352" cy="471" rx="30" ry="18" fill="url(#wh1)"/>
</g>
<clipPath id="c8"><rect x="407.2" y="420.9" width="99.80000000000001" height="124.60000000000002"/></clipPath>
<g clip-path="url(#c8)">
<rect x="407.2" y="420.9" width="99.8" height="124.6" fill="#1d1d19"/>
<ellipse cx="486" cy="448" rx="30" ry="38" fill="url(#grn)"/>
<circle cx="511" cy="423" r="18" fill="#a89a48" stroke="#40c030" stroke-width="0.8"/>
<circle cx="480.7" cy="436.1" r="8.5" fill="#5e6a40" stroke="#48e038" stroke-width="1"/>
<circle cx="486.3" cy="453.8" r="7.5" fill="#5e6a40" stroke="#48e038" stroke-width="1"/>
<circle cx="467" cy="427" r="5" fill="#5e6a40" stroke="#48e038" stroke-width="1"/>
<circle cx="396" cy="523" r="34" fill="url(#tan)" stroke="#f0d8f0" stroke-width="1.0"/>
<circle cx="440" cy="446" r="22.5" fill="url(#dim3)" stroke="#3ed030" stroke-width="1"/>
<circle cx="463.8" cy="498" r="37.8" fill="url(#yel2)" stroke="#3ed030" stroke-width="1"/>
<ellipse cx="445" cy="474" rx="40" ry="36" fill="url(#glow)" opacity="0.85"/>
<ellipse cx="451.5" cy="466" rx="26" ry="18" fill="url(#glow)"/>
<ellipse cx="453" cy="465" rx="20" ry="13" fill="url(#wh1)"/>
</g>
<text x="208.60" y="430.20" font-size="8.3" fill="#eee" text-anchor="start" font-weight="normal" font-family='"Liberation Sans", sans-serif' font-style="normal" >0 s</text>
<text x="309.20" y="430.20" font-size="8.3" fill="#eee" text-anchor="start" font-weight="normal" font-family='"Liberation Sans", sans-serif' font-style="normal" >42 s</text>
<text x="409.00" y="430.20" font-size="8.3" fill="#eee" text-anchor="start" font-weight="normal" font-family='"Liberation Sans", sans-serif' font-style="normal" >90 s</text>
<text x="207.80" y="524.50" font-size="8.0" fill="#e040e0" text-anchor="start" font-weight="normal" font-family='"Liberation Sans", sans-serif' font-style="normal" textLength="17.80" lengthAdjust="spacingAndGlyphs" >Actin</text>
<text x="207.80" y="534.50" font-size="8.0" fill="#33dd33" text-anchor="start" font-weight="normal" font-family='"Liberation Sans", sans-serif' font-style="normal" textLength="38.30" lengthAdjust="spacingAndGlyphs" >Membrane</text>
<text x="207.80" y="544.20" font-size="8.0" fill="#eedd22" text-anchor="start" font-weight="normal" font-family='"Liberation Sans", sans-serif' font-style="normal" textLength="22.60" lengthAdjust="spacingAndGlyphs" >NADH</text>
<rect x="292.0" y="540.8" width="13.600000000000023" height="2.2" fill="#fff"/>
<rect x="392.2" y="540.8" width="13.0" height="2.2" fill="#fff"/>
<rect x="492.0" y="540.8" width="13.0" height="2.2" fill="#fff"/>
<text x="514.90" y="403.00" font-size="15" fill="#000" text-anchor="start" font-weight="bold" font-family='"Liberation Sans", sans-serif' font-style="normal" >i</text>
<clipPath id="c9"><rect x="546.3" y="415.5" width="131.30000000000007" height="131.10000000000002"/></clipPath>
<g clip-path="url(#c9)">
<polygon points="546.3,441.5 556.0,436.0 570.0,432.0 590.0,434.0 610.0,434.0 630.0,435.0 650.0,435.0 677.6,436.0 677.6,449.0 660.0,450.0 640.0,449.0 620.0,450.0 600.0,449.0 580.0,448.0 560.0,447.0 546.3,441.5" fill="#808080" fill-opacity="0.12" stroke="none"/>
<polygon points="546.3,441.5 570.0,440.0 600.0,440.0 630.0,440.0 660.0,439.5 677.6,439.6 677.6,459.3 660.0,457.0 630.0,453.0 600.0,450.0 570.0,446.0 546.3,441.5" fill="#0072BD" fill-opacity="0.13" stroke="none"/>
<polygon points="546.3,441.5 565.0,452.0 585.0,459.0 610.0,463.0 630.0,466.0 650.0,468.0 665.0,476.0 677.6,485.0 677.6,530.0 671.0,536.0 663.0,530.0 655.4,540.0 640.0,528.0 620.0,512.0 600.0,494.0 580.0,475.0 560.0,456.0 546.3,441.5" fill="#D95319" fill-opacity="0.12" stroke="none"/>
<polyline points="547.0,441.5 560.8,441.5 576.5,440.5 594.3,441.1 610.0,443.1 623.8,443.9 635.7,443.1 647.5,442.5 655.4,443.9 667.2,444.5 677.6,443.5" fill="none" stroke="#808080" stroke-width="2.4" stroke-linejoin="round" stroke-linecap="butt" />
<polyline points="547.0,441.5 564.7,442.5 584.4,443.9 604.1,445.1 623.8,445.9 643.5,448.4 663.2,450.4 677.6,451.0" fill="none" stroke="#0072BD" stroke-width="2.4" stroke-linejoin="round" stroke-linecap="butt" />
<polyline points="547.0,441.5 552.9,444.5 560.8,451.4 570.6,460.3 580.5,467.2 590.3,473.1 602.2,479.0 612.0,484.9 621.9,489.8 631.7,494.7 640.6,500.3 647.5,501.6 655.4,505.2 663.2,504.0 671.1,510.9 677.6,508.9" fill="none" stroke="#D95319" stroke-width="2.4" stroke-linejoin="round" stroke-linecap="butt" />
</g>
<rect x="546.3" y="415.5" width="131.30000000000007" height="131.10000000000002" fill="none" stroke="#262626" stroke-width="0.75"/>
<line x1="546.30" y1="546.60" x2="546.30" y2="544.40" stroke="#262626" stroke-width="0.75" />
<line x1="546.30" y1="415.50" x2="546.30" y2="417.70" stroke="#262626" stroke-width="0.75" />
<text x="546.30" y="557.40" font-size="8.2" fill="#262626" text-anchor="middle" font-weight="normal" font-family='"Liberation Sans", sans-serif' font-style="normal" >0</text>
<line x1="579.12" y1="546.60" x2="579.12" y2="544.40" stroke="#262626" stroke-width="0.75" />
<line x1="579.12" y1="415.50" x2="579.12" y2="417.70" stroke="#262626" stroke-width="0.75" />
<text x="579.12" y="557.40" font-size="8.2" fill="#262626" text-anchor="middle" font-weight="normal" font-family='"Liberation Sans", sans-serif' font-style="normal" >25</text>
<line x1="611.95" y1="546.60" x2="611.95" y2="544.40" stroke="#262626" stroke-width="0.75" />
<line x1="611.95" y1="415.50" x2="611.95" y2="417.70" stroke="#262626" stroke-width="0.75" />
<text x="611.95" y="557.40" font-size="8.2" fill="#262626" text-anchor="middle" font-weight="normal" font-family='"Liberation Sans", sans-serif' font-style="normal" >50</text>
<line x1="644.77" y1="546.60" x2="644.77" y2="544.40" stroke="#262626" stroke-width="0.75" />
<line x1="644.77" y1="415.50" x2="644.77" y2="417.70" stroke="#262626" stroke-width="0.75" />
<text x="644.77" y="557.40" font-size="8.2" fill="#262626" text-anchor="middle" font-weight="normal" font-family='"Liberation Sans", sans-serif' font-style="normal" >75</text>
<line x1="677.60" y1="546.60" x2="677.60" y2="544.40" stroke="#262626" stroke-width="0.75" />
<line x1="677.60" y1="415.50" x2="677.60" y2="417.70" stroke="#262626" stroke-width="0.75" />
<text x="677.60" y="557.40" font-size="8.2" fill="#262626" text-anchor="middle" font-weight="normal" font-family='"Liberation Sans", sans-serif' font-style="normal" >100</text>
<line x1="546.30" y1="546.60" x2="548.50" y2="546.60" stroke="#262626" stroke-width="0.75" />
<line x1="677.60" y1="546.60" x2="675.40" y2="546.60" stroke="#262626" stroke-width="0.75" />
<text x="542.70" y="549.60" font-size="8.2" fill="#262626" text-anchor="end" font-weight="normal" font-family='"Liberation Sans", sans-serif' font-style="normal" >0.6</text>
<line x1="546.30" y1="520.38" x2="548.50" y2="520.38" stroke="#262626" stroke-width="0.75" />
<line x1="677.60" y1="520.38" x2="675.40" y2="520.38" stroke="#262626" stroke-width="0.75" />
<text x="542.70" y="523.38" font-size="8.2" fill="#262626" text-anchor="end" font-weight="normal" font-family='"Liberation Sans", sans-serif' font-style="normal" >0.7</text>
<line x1="546.30" y1="494.16" x2="548.50" y2="494.16" stroke="#262626" stroke-width="0.75" />
<line x1="677.60" y1="494.16" x2="675.40" y2="494.16" stroke="#262626" stroke-width="0.75" />
<text x="542.70" y="497.16" font-size="8.2" fill="#262626" text-anchor="end" font-weight="normal" font-family='"Liberation Sans", sans-serif' font-style="normal" >0.8</text>
<line x1="546.30" y1="467.94" x2="548.50" y2="467.94" stroke="#262626" stroke-width="0.75" />
<line x1="677.60" y1="467.94" x2="675.40" y2="467.94" stroke="#262626" stroke-width="0.75" />
<text x="542.70" y="470.94" font-size="8.2" fill="#262626" text-anchor="end" font-weight="normal" font-family='"Liberation Sans", sans-serif' font-style="normal" >0.9</text>
<line x1="546.30" y1="441.72" x2="548.50" y2="441.72" stroke="#262626" stroke-width="0.75" />
<line x1="677.60" y1="441.72" x2="675.40" y2="441.72" stroke="#262626" stroke-width="0.75" />
<text x="542.70" y="444.72" font-size="8.2" fill="#262626" text-anchor="end" font-weight="normal" font-family='"Liberation Sans", sans-serif' font-style="normal" >1</text>
<line x1="546.30" y1="415.50" x2="548.50" y2="415.50" stroke="#262626" stroke-width="0.75" />
<line x1="677.60" y1="415.50" x2="675.40" y2="415.50" stroke="#262626" stroke-width="0.75" />
<text x="542.70" y="418.50" font-size="8.2" fill="#262626" text-anchor="end" font-weight="normal" font-family='"Liberation Sans", sans-serif' font-style="normal" >1.1</text>
<line x1="550.00" y1="513.50" x2="568.70" y2="513.50" stroke="#808080" stroke-width="2.6" />
<line x1="550.00" y1="525.60" x2="568.70" y2="525.60" stroke="#0072BD" stroke-width="2.6" />
<line x1="550.00" y1="537.50" x2="568.70" y2="537.50" stroke="#D95319" stroke-width="2.6" />
<text x="572.40" y="516.80" font-size="10.5" fill="#111" text-anchor="start" font-weight="normal" font-family='"Liberation Sans", sans-serif' font-style="normal" textLength="53.60" lengthAdjust="spacingAndGlyphs" >NADH only</text>
<text x="572.40" y="528.90" font-size="10.5" fill="#111" text-anchor="start" font-weight="normal" font-family='"Liberation Sans", sans-serif' font-style="normal" textLength="47.00" lengthAdjust="spacingAndGlyphs" >Actin only</text>
<text x="572.40" y="541.10" font-size="10.5" fill="#111" text-anchor="start" font-weight="normal" font-family='"Liberation Sans", sans-serif' font-style="normal" textLength="38.20" lengthAdjust="spacingAndGlyphs" >Division</text>
<text x="611.50" y="566.80" font-size="8.4" fill="#262626" text-anchor="middle" font-weight="normal" font-family='"Liberation Sans", sans-serif' font-style="normal" textLength="31.20" lengthAdjust="spacingAndGlyphs" >Time (s)</text>
<text x="0.00" y="0.00" fill="#111" text-anchor="start" textLength="89.00" lengthAdjust="spacingAndGlyphs" transform="translate(524.90,522.00) rotate(-90)"><tspan dy="0.00" font-size="10.50" font-style="normal" font-family='"Liberation Sans", sans-serif'>I</tspan><tspan dy="2.62" font-size="7.56" font-style="normal" font-family='"Liberation Sans", sans-serif'>NADH</tspan><tspan dy="-2.62" font-size="10.50" font-style="normal" font-family='"Liberation Sans", sans-serif'>(t) / I</tspan><tspan dy="2.62" font-size="7.56" font-style="normal" font-family='"Liberation Sans", sans-serif'>NADH</tspan><tspan dy="-2.62" font-size="10.50" font-style="normal" font-family='"Liberation Sans", sans-serif'>(t=0)</tspan></text>
<text x="8.50" y="593.00" font-size="15" fill="#000" text-anchor="start" font-weight="bold" font-family='"Liberation Sans", sans-serif' font-style="normal" >j</text>
<clipPath id="c10"><rect x="50.4" y="595.3" width="152.79999999999998" height="152.70000000000005"/></clipPath>
<g clip-path="url(#c10)">
<polygon points="50.3,748.0 70.0,742.0 94.7,722.0 118.1,702.0 141.4,690.0 164.8,680.0 188.2,677.0 203.3,677.5 203.3,730.0 188.2,730.0 164.8,735.0 141.4,742.0 94.7,746.0 50.3,748.0" fill="#0072BD" fill-opacity="0.12" stroke="none"/>
<polygon points="50.3,739.5 71.4,725.5 94.7,706.8 118.1,685.8 141.4,664.7 164.8,636.7 188.2,608.7 203.3,592.3 203.3,707.5 188.2,712.0 164.8,722.0 141.4,730.0 118.1,736.0 94.7,740.0 70.0,747.0 50.3,748.0" fill="#D95319" fill-opacity="0.11" stroke="none"/>
<polyline points="50.3,746.0 59.7,744.2 71.4,739.5 83.0,734.8 94.7,730.2 106.4,726.7 118.1,723.1 129.8,720.8 141.4,718.0 153.1,715.0 164.8,710.3 176.5,706.8 188.2,704.5 197.5,703.3 203.3,704.0" fill="none" stroke="#0072BD" stroke-width="2.4" stroke-linejoin="round" stroke-linecap="butt" />
<polyline points="50.3,745.3 59.7,743.0 71.4,737.2 83.0,729.0 94.7,722.0 106.4,715.0 118.1,708.7 129.8,702.1 141.4,696.3 153.1,689.3 164.8,679.9 176.5,670.6 188.2,660.1 197.5,651.9 203.3,648.4" fill="none" stroke="#D95319" stroke-width="2.4" stroke-linejoin="round" stroke-linecap="butt" />
</g>
<rect x="50.4" y="595.3" width="152.79999999999998" height="152.70000000000005" fill="none" stroke="#262626" stroke-width="0.75"/>
<line x1="50.40" y1="748.00" x2="50.40" y2="745.80" stroke="#262626" stroke-width="0.75" />
<line x1="50.40" y1="595.30" x2="50.40" y2="597.50" stroke="#262626" stroke-width="0.75" />
<text x="50.40" y="760.50" font-size="9.0" fill="#262626" text-anchor="middle" font-weight="normal" font-family='"Liberation Sans", sans-serif' font-style="normal" >0</text>
<line x1="88.60" y1="748.00" x2="88.60" y2="745.80" stroke="#262626" stroke-width="0.75" />
<line x1="88.60" y1="595.30" x2="88.60" y2="597.50" stroke="#262626" stroke-width="0.75" />
<text x="88.60" y="760.50" font-size="9.0" fill="#262626" text-anchor="middle" font-weight="normal" font-family='"Liberation Sans", sans-serif' font-style="normal" >20</text>
<line x1="126.80" y1="748.00" x2="126.80" y2="745.80" stroke="#262626" stroke-width="0.75" />
<line x1="126.80" y1="595.30" x2="126.80" y2="597.50" stroke="#262626" stroke-width="0.75" />
<text x="126.80" y="760.50" font-size="9.0" fill="#262626" text-anchor="middle" font-weight="normal" font-family='"Liberation Sans", sans-serif' font-style="normal" >40</text>
<line x1="165.00" y1="748.00" x2="165.00" y2="745.80" stroke="#262626" stroke-width="0.75" />
<line x1="165.00" y1="595.30" x2="165.00" y2="597.50" stroke="#262626" stroke-width="0.75" />
<text x="165.00" y="760.50" font-size="9.0" fill="#262626" text-anchor="middle" font-weight="normal" font-family='"Liberation Sans", sans-serif' font-style="normal" >60</text>
<line x1="203.20" y1="748.00" x2="203.20" y2="745.80" stroke="#262626" stroke-width="0.75" />
<line x1="203.20" y1="595.30" x2="203.20" y2="597.50" stroke="#262626" stroke-width="0.75" />
<text x="203.20" y="760.50" font-size="9.0" fill="#262626" text-anchor="middle" font-weight="normal" font-family='"Liberation Sans", sans-serif' font-style="normal" >80</text>
<line x1="50.40" y1="748.00" x2="52.60" y2="748.00" stroke="#262626" stroke-width="0.75" />
<line x1="203.20" y1="748.00" x2="201.00" y2="748.00" stroke="#262626" stroke-width="0.75" />
<text x="46.80" y="751.30" font-size="9.0" fill="#262626" text-anchor="end" font-weight="normal" font-family='"Liberation Sans", sans-serif' font-style="normal" >0</text>
<line x1="50.40" y1="722.55" x2="52.60" y2="722.55" stroke="#262626" stroke-width="0.75" />
<line x1="203.20" y1="722.55" x2="201.00" y2="722.55" stroke="#262626" stroke-width="0.75" />
<text x="46.80" y="725.85" font-size="9.0" fill="#262626" text-anchor="end" font-weight="normal" font-family='"Liberation Sans", sans-serif' font-style="normal" >0.5</text>
<line x1="50.40" y1="697.10" x2="52.60" y2="697.10" stroke="#262626" stroke-width="0.75" />
<line x1="203.20" y1="697.10" x2="201.00" y2="697.10" stroke="#262626" stroke-width="0.75" />
<text x="46.80" y="700.40" font-size="9.0" fill="#262626" text-anchor="end" font-weight="normal" font-family='"Liberation Sans", sans-serif' font-style="normal" >1</text>
<line x1="50.40" y1="671.65" x2="52.60" y2="671.65" stroke="#262626" stroke-width="0.75" />
<line x1="203.20" y1="671.65" x2="201.00" y2="671.65" stroke="#262626" stroke-width="0.75" />
<text x="46.80" y="674.95" font-size="9.0" fill="#262626" text-anchor="end" font-weight="normal" font-family='"Liberation Sans", sans-serif' font-style="normal" >1.5</text>
<line x1="50.40" y1="646.20" x2="52.60" y2="646.20" stroke="#262626" stroke-width="0.75" />
<line x1="203.20" y1="646.20" x2="201.00" y2="646.20" stroke="#262626" stroke-width="0.75" />
<text x="46.80" y="649.50" font-size="9.0" fill="#262626" text-anchor="end" font-weight="normal" font-family='"Liberation Sans", sans-serif' font-style="normal" >2</text>
<line x1="50.40" y1="620.75" x2="52.60" y2="620.75" stroke="#262626" stroke-width="0.75" />
<line x1="203.20" y1="620.75" x2="201.00" y2="620.75" stroke="#262626" stroke-width="0.75" />
<text x="46.80" y="624.05" font-size="9.0" fill="#262626" text-anchor="end" font-weight="normal" font-family='"Liberation Sans", sans-serif' font-style="normal" >2.5</text>
<line x1="50.40" y1="595.30" x2="52.60" y2="595.30" stroke="#262626" stroke-width="0.75" />
<line x1="203.20" y1="595.30" x2="201.00" y2="595.30" stroke="#262626" stroke-width="0.75" />
<text x="46.80" y="598.60" font-size="9.0" fill="#262626" text-anchor="end" font-weight="normal" font-family='"Liberation Sans", sans-serif' font-style="normal" >3</text>
<text x="50.90" y="593.80" fill="#262626" text-anchor="start" ><tspan dy="0.00" font-size="9.50" font-style="normal" font-family='"Liberation Sans", sans-serif'>×10</tspan><tspan dy="-3.61" font-size="6.84" font-style="normal" font-family='"Liberation Sans", sans-serif'>-9</tspan></text>
<line x1="54.90" y1="606.30" x2="74.20" y2="606.30" stroke="#0072BD" stroke-width="2.9" />
<line x1="54.90" y1="625.40" x2="74.20" y2="625.40" stroke="#D95319" stroke-width="2.9" />
<text x="78.90" y="611.60" fill="#1a7dc8" text-anchor="start" textLength="31.40" lengthAdjust="spacingAndGlyphs" ><tspan dy="0.00" font-size="15.50" font-style="italic" font-family='"Liberation Serif", serif'>ΔE</tspan><tspan dy="3.10" font-size="12.25" font-style="normal" font-family='"Liberation Serif", serif'>tot</tspan></text>
<text x="78.30" y="630.40" fill="#c81e1e" text-anchor="start" textLength="38.00" lengthAdjust="spacingAndGlyphs" ><tspan dy="0.00" font-size="15.50" font-style="italic" font-family='"Liberation Serif", serif'>ΔG</tspan><tspan dy="3.10" font-size="12.25" font-style="normal" font-family='"Liberation Serif", serif'>ATP</tspan></text>
<text x="126.90" y="772.50" font-size="9.3" fill="#262626" text-anchor="middle" font-weight="normal" font-family='"Liberation Sans", sans-serif' font-style="normal" textLength="35.00" lengthAdjust="spacingAndGlyphs" >Time (s)</text>
<text x="0.00" y="0.00" fill="#1a7dc8" text-anchor="start" textLength="31.00" lengthAdjust="spacingAndGlyphs" transform="translate(23.30,735.00) rotate(-90)"><tspan dy="0.00" font-size="15.50" font-style="italic" font-family='"Liberation Serif", serif'>ΔE</tspan><tspan dy="3.10" font-size="12.25" font-style="normal" font-family='"Liberation Serif", serif'>tot</tspan></text>
<text x="0.00" y="0.00" fill="#1a7dc8" text-anchor="start" textLength="16.40" lengthAdjust="spacingAndGlyphs" transform="translate(23.30,697.20) rotate(-90)"><tspan dy="0.00" font-size="15.50" font-style="normal" font-family='"Liberation Sans", sans-serif'>(J)</tspan></text>
<text x="0.00" y="0.00" fill="#222" text-anchor="start" transform="translate(23.30,679.30) rotate(-90)"><tspan dy="0.00" font-size="15.50" font-style="normal" font-family='"Liberation Serif", serif'>;</tspan></text>
<text x="0.00" y="0.00" fill="#c81e1e" text-anchor="start" textLength="37.80" lengthAdjust="spacingAndGlyphs" transform="translate(23.30,672.30) rotate(-90)"><tspan dy="0.00" font-size="15.50" font-style="italic" font-family='"Liberation Serif", serif'>ΔG</tspan><tspan dy="3.10" font-size="12.25" font-style="normal" font-family='"Liberation Serif", serif'>ATP</tspan></text>
<text x="0.00" y="0.00" fill="#c81e1e" text-anchor="start" textLength="16.60" lengthAdjust="spacingAndGlyphs" transform="translate(23.30,626.90) rotate(-90)"><tspan dy="0.00" font-size="15.50" font-style="normal" font-family='"Liberation Sans", sans-serif'>(J)</tspan></text>
<text x="218.40" y="593.00" font-size="15" fill="#000" text-anchor="start" font-weight="bold" font-family='"Liberation Sans", sans-serif' font-style="normal" >k</text>
<clipPath id="c11"><rect x="272.0" y="595.9" width="152.8" height="152.70000000000005"/></clipPath>
<g clip-path="url(#c11)">
<polygon points="272.0,685.8 281.7,678.7 294.5,664.8 306.2,660.1 317.9,668.2 328.4,665.9 340.1,672.9 351.8,669.2 355.1,679.7 363.0,703.4 374.2,711.9 396.5,713.2 408.3,719.1 418.8,725.7 424.8,728.3 424.8,752.0 363.4,752.0 351.8,749.0 340.1,748.0 317.9,744.0 294.5,743.0 272.0,745.0" fill="#0072BD" fill-opacity="0.12" stroke="none"/>
<polygon points="272.0,655.4 281.7,650.7 294.5,639.0 306.2,628.5 317.9,622.0 328.4,619.2 340.1,622.7 351.8,627.4 363.4,628.5 375.1,625.0 386.8,618.0 398.5,616.2 410.2,620.4 424.8,633.2 424.8,727.0 408.3,726.4 395.2,728.3 379.4,732.9 363.7,737.5 350.5,744.1 340.1,746.0 317.9,735.0 294.5,724.0 272.0,728.0" fill="#D95319" fill-opacity="0.11" stroke="none"/>
<polyline points="272.3,717.3 281.7,711.5 294.5,704.5 306.2,701.7 317.9,706.1 328.4,704.5 340.1,709.1 351.8,708.7 363.4,724.3 375.1,730.2 386.8,735.3 398.5,738.3 410.2,741.4 424.2,748.4" fill="none" stroke="#0072BD" stroke-width="2.4" stroke-linejoin="round" stroke-linecap="butt" />
<polyline points="272.3,694.0 281.7,689.3 294.5,681.8 306.2,678.1 317.9,681.1 328.4,683.4 340.1,685.3 351.8,684.6 363.4,682.3 375.1,679.5 386.8,674.6 398.5,671.8 410.2,672.9 424.2,679.9" fill="none" stroke="#D95319" stroke-width="2.4" stroke-linejoin="round" stroke-linecap="butt" />
</g>
<rect x="272.0" y="595.9" width="152.8" height="152.70000000000005" fill="none" stroke="#262626" stroke-width="0.75"/>
<line x1="272.00" y1="748.60" x2="272.00" y2="746.40" stroke="#262626" stroke-width="0.75" />
<line x1="272.00" y1="595.90" x2="272.00" y2="598.10" stroke="#262626" stroke-width="0.75" />
<text x="272.00" y="761.10" font-size="9.0" fill="#262626" text-anchor="middle" font-weight="normal" font-family='"Liberation Sans", sans-serif' font-style="normal" >0</text>
<line x1="310.20" y1="748.60" x2="310.20" y2="746.40" stroke="#262626" stroke-width="0.75" />
<line x1="310.20" y1="595.90" x2="310.20" y2="598.10" stroke="#262626" stroke-width="0.75" />
<text x="310.20" y="761.10" font-size="9.0" fill="#262626" text-anchor="middle" font-weight="normal" font-family='"Liberation Sans", sans-serif' font-style="normal" >20</text>
<line x1="348.40" y1="748.60" x2="348.40" y2="746.40" stroke="#262626" stroke-width="0.75" />
<line x1="348.40" y1="595.90" x2="348.40" y2="598.10" stroke="#262626" stroke-width="0.75" />
<text x="348.40" y="761.10" font-size="9.0" fill="#262626" text-anchor="middle" font-weight="normal" font-family='"Liberation Sans", sans-serif' font-style="normal" >40</text>
<line x1="386.60" y1="748.60" x2="386.60" y2="746.40" stroke="#262626" stroke-width="0.75" />
<line x1="386.60" y1="595.90" x2="386.60" y2="598.10" stroke="#262626" stroke-width="0.75" />
<text x="386.60" y="761.10" font-size="9.0" fill="#262626" text-anchor="middle" font-weight="normal" font-family='"Liberation Sans", sans-serif' font-style="normal" >60</text>
<line x1="424.80" y1="748.60" x2="424.80" y2="746.40" stroke="#262626" stroke-width="0.75" />
<line x1="424.80" y1="595.90" x2="424.80" y2="598.10" stroke="#262626" stroke-width="0.75" />
<text x="424.80" y="761.10" font-size="9.0" fill="#262626" text-anchor="middle" font-weight="normal" font-family='"Liberation Sans", sans-serif' font-style="normal" >80</text>
<line x1="272.00" y1="748.60" x2="274.20" y2="748.60" stroke="#262626" stroke-width="0.75" />
<line x1="424.80" y1="748.60" x2="422.60" y2="748.60" stroke="#262626" stroke-width="0.75" />
<text x="268.40" y="751.90" font-size="9.0" fill="#262626" text-anchor="end" font-weight="normal" font-family='"Liberation Sans", sans-serif' font-style="normal" >0</text>
<line x1="272.00" y1="718.06" x2="274.20" y2="718.06" stroke="#262626" stroke-width="0.75" />
<line x1="424.80" y1="718.06" x2="422.60" y2="718.06" stroke="#262626" stroke-width="0.75" />
<text x="268.40" y="721.36" font-size="9.0" fill="#262626" text-anchor="end" font-weight="normal" font-family='"Liberation Sans", sans-serif' font-style="normal" >1</text>
<line x1="272.00" y1="687.52" x2="274.20" y2="687.52" stroke="#262626" stroke-width="0.75" />
<line x1="424.80" y1="687.52" x2="422.60" y2="687.52" stroke="#262626" stroke-width="0.75" />
<text x="268.40" y="690.82" font-size="9.0" fill="#262626" text-anchor="end" font-weight="normal" font-family='"Liberation Sans", sans-serif' font-style="normal" >2</text>
<line x1="272.00" y1="656.98" x2="274.20" y2="656.98" stroke="#262626" stroke-width="0.75" />
<line x1="424.80" y1="656.98" x2="422.60" y2="656.98" stroke="#262626" stroke-width="0.75" />
<text x="268.40" y="660.28" font-size="9.0" fill="#262626" text-anchor="end" font-weight="normal" font-family='"Liberation Sans", sans-serif' font-style="normal" >3</text>
<line x1="272.00" y1="626.44" x2="274.20" y2="626.44" stroke="#262626" stroke-width="0.75" />
<line x1="424.80" y1="626.44" x2="422.60" y2="626.44" stroke="#262626" stroke-width="0.75" />
<text x="268.40" y="629.74" font-size="9.0" fill="#262626" text-anchor="end" font-weight="normal" font-family='"Liberation Sans", sans-serif' font-style="normal" >4</text>
<line x1="272.00" y1="595.90" x2="274.20" y2="595.90" stroke="#262626" stroke-width="0.75" />
<line x1="424.80" y1="595.90" x2="422.60" y2="595.90" stroke="#262626" stroke-width="0.75" />
<text x="268.40" y="599.20" font-size="9.0" fill="#262626" text-anchor="end" font-weight="normal" font-family='"Liberation Sans", sans-serif' font-style="normal" >5</text>
<text x="272.40" y="594.60" fill="#262626" text-anchor="start" ><tspan dy="0.00" font-size="9.50" font-style="normal" font-family='"Liberation Sans", sans-serif'>×10</tspan><tspan dy="-3.61" font-size="6.84" font-style="normal" font-family='"Liberation Sans", sans-serif'>-11</tspan></text>
<line x1="277.60" y1="607.00" x2="297.00" y2="607.00" stroke="#0072BD" stroke-width="2.9" />
<line x1="277.60" y1="626.40" x2="297.00" y2="626.40" stroke="#D95319" stroke-width="2.9" />
<text x="302.00" y="612.10" fill="#1a7dc8" text-anchor="start" textLength="21.30" lengthAdjust="spacingAndGlyphs" ><tspan dy="0.00" font-size="15.00" font-style="italic" font-family='"Liberation Serif", serif'>P</tspan><tspan dy="3.00" font-size="11.85" font-style="normal" font-family='"Liberation Serif", serif'>tot</tspan></text>
<text x="301.10" y="631.80" fill="#c81e1e" text-anchor="start" textLength="60.30" lengthAdjust="spacingAndGlyphs" ><tspan dy="0.00" font-size="15.00" font-style="normal" font-family='"Liberation Serif", serif'>d</tspan><tspan dy="0.00" font-size="15.00" font-style="italic" font-family='"Liberation Serif", serif'>G</tspan><tspan dy="3.00" font-size="11.85" font-style="normal" font-family='"Liberation Serif", serif'>ATP</tspan><tspan dy="-3.00" font-size="15.00" font-style="normal" font-family='"Liberation Serif", serif'> /d</tspan><tspan dy="0.00" font-size="15.00" font-style="italic" font-family='"Liberation Serif", serif'>t</tspan></text>
<text x="348.40" y="772.50" font-size="9.3" fill="#262626" text-anchor="middle" font-weight="normal" font-family='"Liberation Sans", sans-serif' font-style="normal" textLength="35.00" lengthAdjust="spacingAndGlyphs" >Time (s)</text>
<text x="0.00" y="0.00" fill="#1a7dc8" text-anchor="start" textLength="20.60" lengthAdjust="spacingAndGlyphs" transform="translate(247.60,763.20) rotate(-90)"><tspan dy="0.00" font-size="15.00" font-style="italic" font-family='"Liberation Serif", serif'>P</tspan><tspan dy="3.00" font-size="11.85" font-style="normal" font-family='"Liberation Serif", serif'>tot</tspan></text>
<text x="0.00" y="0.00" fill="#1a7dc8" text-anchor="start" textLength="35.60" lengthAdjust="spacingAndGlyphs" transform="translate(247.60,735.40) rotate(-90)"><tspan dy="0.00" font-size="14.50" font-style="normal" font-family='"Liberation Sans", sans-serif'>(J s</tspan><tspan dy="-4.35" font-size="8.99" font-style="normal" font-family='"Liberation Sans", sans-serif'>-1</tspan><tspan dy="4.35" font-size="14.50" font-style="normal" font-family='"Liberation Sans", sans-serif'>)</tspan></text>
<text x="0.00" y="0.00" fill="#222" text-anchor="start" transform="translate(247.60,698.20) rotate(-90)"><tspan dy="0.00" font-size="15.00" font-style="normal" font-family='"Liberation Serif", serif'>;</tspan></text>
<text x="0.00" y="0.00" fill="#c81e1e" text-anchor="start" textLength="60.00" lengthAdjust="spacingAndGlyphs" transform="translate(247.60,688.50) rotate(-90)"><tspan dy="0.00" font-size="15.00" font-style="normal" font-family='"Liberation Serif", serif'>d</tspan><tspan dy="0.00" font-size="15.00" font-style="italic" font-family='"Liberation Serif", serif'>G</tspan><tspan dy="3.00" font-size="11.85" font-style="normal" font-family='"Liberation Serif", serif'>ATP</tspan><tspan dy="-3.00" font-size="15.00" font-style="normal" font-family='"Liberation Serif", serif'> /d</tspan><tspan dy="0.00" font-size="15.00" font-style="italic" font-family='"Liberation Serif", serif'>t</tspan></text>
<text x="0.00" y="0.00" fill="#c81e1e" text-anchor="start" textLength="36.60" lengthAdjust="spacingAndGlyphs" transform="translate(247.60,624.40) rotate(-90)"><tspan dy="0.00" font-size="14.50" font-style="normal" font-family='"Liberation Sans", sans-serif'>(J s</tspan><tspan dy="-4.35" font-size="8.99" font-style="normal" font-family='"Liberation Sans", sans-serif'>-1</tspan><tspan dy="4.35" font-size="14.50" font-style="normal" font-family='"Liberation Sans", sans-serif'>)</tspan></text>
<text x="443.90" y="593.00" font-size="15" fill="#000" text-anchor="start" font-weight="bold" font-family='"Liberation Sans", sans-serif' font-style="normal" >l</text>
<clipPath id="c12"><rect x="489.0" y="594.3" width="155.60000000000002" height="154.5"/></clipPath>
<g clip-path="url(#c12)">
<polygon points="489.0,636.0 505.0,615.0 516.0,600.0 520.0,585.0 570.0,585.0 574.0,594.0 586.0,626.0 598.0,645.0 620.0,662.0 644.6,686.0 644.6,739.0 600.0,739.0 590.0,737.0 560.0,740.0 530.0,734.0 500.0,731.0 489.0,730.0" fill="#0072BD" fill-opacity="0.12" stroke="none"/>
<polygon points="489.0,585.0 531.0,585.0 533.0,600.0 553.0,600.0 555.0,585.0 644.6,585.0 644.6,714.0 598.0,716.0 590.0,752.0 500.0,752.0 497.0,728.0 489.0,720.0" fill="#D95319" fill-opacity="0.11" stroke="none"/>
</g>
<line x1="489.00" y1="616.37" x2="644.60" y2="616.37" stroke="#888" stroke-width="1.0" stroke-dasharray="5,3"/>
<line x1="489.00" y1="726.73" x2="644.60" y2="726.73" stroke="#888" stroke-width="1.0" stroke-dasharray="5,3"/>
<line x1="559.73" y1="609.30" x2="559.73" y2="748.80" stroke="#888" stroke-width="1.0" stroke-dasharray="5,3"/>
<g clip-path="url(#c12)">
<polyline points="489.3,681.1 496.3,683.9 506.9,676.4 517.4,675.3 527.9,663.6 538.4,656.6 548.9,651.9 559.4,652.6 569.9,660.1 580.4,671.8 591.0,684.6 601.5,691.1 612.0,695.6 622.5,700.3 633.0,709.1 643.5,715.0 644.6,715.5" fill="none" stroke="#0072BD" stroke-width="2.4" stroke-linejoin="round" stroke-linecap="butt" />
<polyline points="489.3,662.4 496.3,659.4 506.9,666.6 517.4,668.3 527.9,679.9 538.4,686.9 548.9,691.6 559.4,690.4 569.9,683.0 580.4,670.6 591.0,658.2 601.5,651.9 612.0,647.2 622.5,643.3 633.0,634.4 643.5,628.5 644.6,628.0" fill="none" stroke="#D95319" stroke-width="2.4" stroke-linejoin="round" stroke-linecap="butt" />
</g>
<circle cx="497.9" cy="607.6" r="6.6" fill="#eeeeee" stroke="#c00000" stroke-width="1.1"/>
<ellipse cx="559.4" cy="605.0" rx="6.2" ry="9.7" fill="#eeeeee" stroke="#c00000" stroke-width="1.1"/>
<path d="M604.0,594.2 C608.5,594.2 610.6,596.8 610.6,599.5 C610.6,602 608.4,603.5 608.4,605.4 C608.4,607.3 610.6,608.8 610.6,611.2 C610.6,613.8 608,615.2 604.0,615.2 C600,615.2 597.4,613.8 597.4,611.2 C597.4,608.8 599.8,607.3 599.8,605.4 C599.8,603.5 597.4,602 597.4,599.5 C597.4,596.8 599.5,594.2 604.0,594.2 Z" fill="#eeeeee" stroke="#c00000" stroke-width="1.1"/>
<line x1="511.20" y1="605.70" x2="540.10" y2="605.70" stroke="#808080" stroke-width="2.4" stroke-linecap="butt"/>
<polygon points="547.30,605.70 539.30,609.70 539.30,605.70 539.30,601.70" fill="#808080"/>
<line x1="568.90" y1="605.70" x2="588.40" y2="605.70" stroke="#808080" stroke-width="2.4" stroke-linecap="butt"/>
<polygon points="595.60,605.70 587.60,609.70 587.60,605.70 587.60,601.70" fill="#808080"/>
<text x="503.30" y="590.20" font-size="9.2" fill="#111" text-anchor="start" font-weight="normal" font-family='"Liberation Sans", sans-serif' font-style="normal" textLength="44.20" lengthAdjust="spacingAndGlyphs" >Elongation</text>
<text x="560.60" y="590.20" font-size="9.2" fill="#111" text-anchor="start" font-weight="normal" font-family='"Liberation Sans", sans-serif' font-style="normal" textLength="41.30" lengthAdjust="spacingAndGlyphs" >Furrowing</text>
<rect x="489.0" y="594.3" width="155.60000000000002" height="154.5" fill="none" stroke="#262626" stroke-width="0.75"/>
<line x1="489.00" y1="748.80" x2="489.00" y2="746.60" stroke="#262626" stroke-width="0.75" />
<line x1="489.00" y1="594.30" x2="489.00" y2="596.50" stroke="#262626" stroke-width="0.75" />
<text x="489.00" y="761.30" font-size="9.0" fill="#262626" text-anchor="middle" font-weight="normal" font-family='"Liberation Sans", sans-serif' font-style="normal" >-40</text>
<line x1="524.36" y1="748.80" x2="524.36" y2="746.60" stroke="#262626" stroke-width="0.75" />
<line x1="524.36" y1="594.30" x2="524.36" y2="596.50" stroke="#262626" stroke-width="0.75" />
<text x="524.36" y="761.30" font-size="9.0" fill="#262626" text-anchor="middle" font-weight="normal" font-family='"Liberation Sans", sans-serif' font-style="normal" >-20</text>
<line x1="559.73" y1="748.80" x2="559.73" y2="746.60" stroke="#262626" stroke-width="0.75" />
<line x1="559.73" y1="594.30" x2="559.73" y2="596.50" stroke="#262626" stroke-width="0.75" />
<text x="559.73" y="761.30" font-size="9.0" fill="#262626" text-anchor="middle" font-weight="normal" font-family='"Liberation Sans", sans-serif' font-style="normal" >0</text>
<line x1="595.09" y1="748.80" x2="595.09" y2="746.60" stroke="#262626" stroke-width="0.75" />
<line x1="595.09" y1="594.30" x2="595.09" y2="596.50" stroke="#262626" stroke-width="0.75" />
<text x="595.09" y="761.30" font-size="9.0" fill="#262626" text-anchor="middle" font-weight="normal" font-family='"Liberation Sans", sans-serif' font-style="normal" >20</text>
<line x1="630.45" y1="748.80" x2="630.45" y2="746.60" stroke="#262626" stroke-width="0.75" />
<line x1="630.45" y1="594.30" x2="630.45" y2="596.50" stroke="#262626" stroke-width="0.75" />
<text x="630.45" y="761.30" font-size="9.0" fill="#262626" text-anchor="middle" font-weight="normal" font-family='"Liberation Sans", sans-serif' font-style="normal" >40</text>
<line x1="489.00" y1="726.73" x2="491.20" y2="726.73" stroke="#2a86d0" stroke-width="0.75" />
<line x1="644.60" y1="726.73" x2="642.40" y2="726.73" stroke="#c82020" stroke-width="0.75" />
<text x="485.40" y="730.03" font-size="9.0" fill="#2a86d0" text-anchor="end" font-weight="normal" font-family='"Liberation Sans", sans-serif' font-style="normal" >0</text>
<text x="649.10" y="730.03" font-size="9.0" fill="#c82020" text-anchor="start" font-weight="normal" font-family='"Liberation Sans", sans-serif' font-style="normal" >0</text>
<line x1="489.00" y1="671.55" x2="491.20" y2="671.55" stroke="#2a86d0" stroke-width="0.75" />
<line x1="644.60" y1="671.55" x2="642.40" y2="671.55" stroke="#c82020" stroke-width="0.75" />
<text x="485.40" y="674.85" font-size="9.0" fill="#2a86d0" text-anchor="end" font-weight="normal" font-family='"Liberation Sans", sans-serif' font-style="normal" >0.5</text>
<text x="649.10" y="674.85" font-size="9.0" fill="#c82020" text-anchor="start" font-weight="normal" font-family='"Liberation Sans", sans-serif' font-style="normal" >0.5</text>
<line x1="489.00" y1="616.37" x2="491.20" y2="616.37" stroke="#2a86d0" stroke-width="0.75" />
<line x1="644.60" y1="616.37" x2="642.40" y2="616.37" stroke="#c82020" stroke-width="0.75" />
<text x="485.40" y="619.67" font-size="9.0" fill="#2a86d0" text-anchor="end" font-weight="normal" font-family='"Liberation Sans", sans-serif' font-style="normal" >1</text>
<text x="649.10" y="619.67" font-size="9.0" fill="#c82020" text-anchor="start" font-weight="normal" font-family='"Liberation Sans", sans-serif' font-style="normal" >1</text>
<text x="531.20" y="775.40" font-size="15.0" fill="#000" text-anchor="start" font-weight="normal" font-family='"Liberation Serif", serif' font-style="italic" >t</text>
<text x="539.80" y="775.40" font-size="15.0" fill="#000" text-anchor="start" font-weight="normal" font-family='"Liberation Serif", serif' font-style="normal" >−</text>
<text x="552.80" y="775.40" font-size="15.0" fill="#000" text-anchor="start" font-weight="normal" font-family='"Liberation Serif", serif' font-style="italic" >t</text>
<text x="557.80" y="779.60" font-size="10.0" fill="#000" text-anchor="start" font-weight="normal" font-family='"Liberation Serif", serif' font-style="italic" >P</text>
<text x="565.30" y="775.10" font-size="9.0" fill="#000" text-anchor="start" font-weight="normal" font-family='"Liberation Serif", serif' font-style="normal" textLength="14.60" lengthAdjust="spacingAndGlyphs" >max</text>
<text x="564.30" y="781.20" font-size="9.0" fill="#000" text-anchor="start" font-weight="normal" font-family='"Liberation Serif", serif' font-style="normal" textLength="10.00" lengthAdjust="spacingAndGlyphs" >tot</text>
<text x="588.30" y="776.00" font-size="13.5" fill="#000" text-anchor="start" font-weight="normal" font-family='"Liberation Sans", sans-serif' font-style="normal" textLength="16.20" lengthAdjust="spacingAndGlyphs" >(s)</text>
<text x="0.00" y="0.00" fill="#2a86d0" text-anchor="start" textLength="28.00" lengthAdjust="spacingAndGlyphs" transform="translate(456.50,721.80) rotate(-90)"><tspan dy="0.00" font-size="15.00" font-style="italic" font-family='"Liberation Serif", serif'>η</tspan><tspan dy="3.00" font-size="11.85" font-style="normal" font-family='"Liberation Serif", serif'>gain</tspan></text>
<text x="0.00" y="0.00" fill="#2a86d0" text-anchor="start" transform="translate(456.20,687.20) rotate(-90)"><tspan dy="0.00" font-size="15.00" font-style="normal" font-family='"Liberation Serif", serif'>=</tspan></text>
<line x1="452.50" y1="620.80" x2="452.50" y2="671.50" stroke="#2a86d0" stroke-width="0.9" />
<text x="0.00" y="0.00" fill="#2a86d0" text-anchor="start" textLength="16.80" lengthAdjust="spacingAndGlyphs" transform="translate(448.70,656.00) rotate(-90)"><tspan dy="0.00" font-size="11.00" font-style="italic" font-family='"Liberation Serif", serif'>P</tspan><tspan dy="2.20" font-size="8.69" font-style="normal" font-family='"Liberation Serif", serif'>tot</tspan></text>
<text x="0.00" y="0.00" fill="#2a86d0" text-anchor="start" textLength="49.80" lengthAdjust="spacingAndGlyphs" transform="translate(465.00,671.00) rotate(-90)"><tspan dy="0.00" font-size="11.00" font-style="normal" font-family='"Liberation Serif", serif'>d</tspan><tspan dy="0.00" font-size="11.00" font-style="italic" font-family='"Liberation Serif", serif'>G</tspan><tspan dy="2.20" font-size="8.69" font-style="normal" font-family='"Liberation Serif", serif'>ATP</tspan><tspan dy="-2.20" font-size="11.00" font-style="normal" font-family='"Liberation Serif", serif'> /d</tspan><tspan dy="0.00" font-size="11.00" font-style="italic" font-family='"Liberation Serif", serif'>t</tspan></text>
<text x="0.00" y="0.00" fill="#c82020" text-anchor="start" textLength="102.80" lengthAdjust="spacingAndGlyphs" transform="translate(671.60,616.50) rotate(90)"><tspan dy="0.00" font-size="15.00" font-style="italic" font-family='"Liberation Serif", serif'>η</tspan><tspan dy="3.00" font-size="11.85" font-style="normal" font-family='"Liberation Serif", serif'>loss</tspan><tspan dy="-3.00" font-size="15.00" font-style="normal" font-family='"Liberation Serif", serif'>  = 1 − </tspan><tspan dy="0.00" font-size="15.00" font-style="italic" font-family='"Liberation Serif", serif'>η</tspan><tspan dy="3.00" font-size="11.85" font-style="normal" font-family='"Liberation Serif", serif'>gain</tspan></text>
</svg></body></html>
